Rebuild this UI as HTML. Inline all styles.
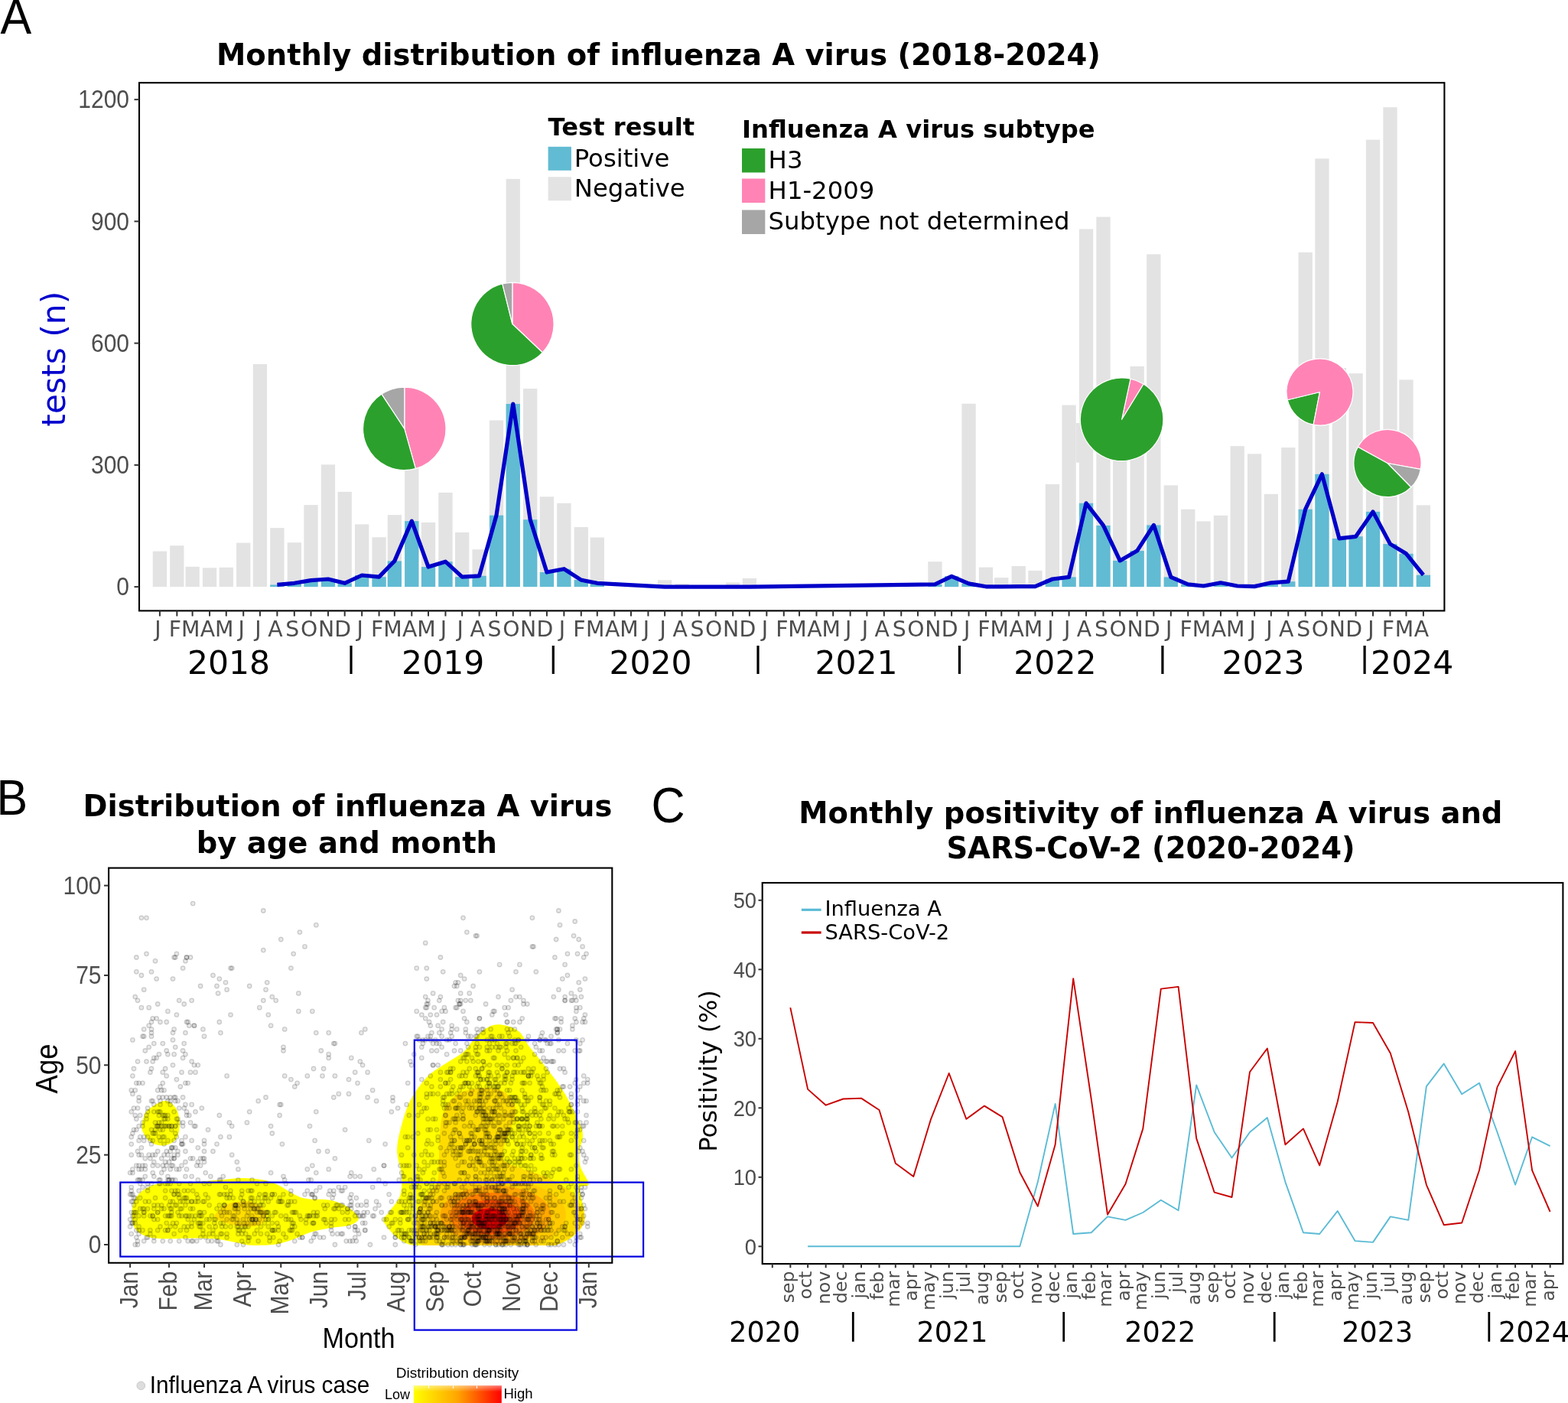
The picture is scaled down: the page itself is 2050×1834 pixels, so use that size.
<!DOCTYPE html>
<html><head><meta charset="utf-8"><title>Influenza A figure</title>
<style>html,body{margin:0;padding:0;background:#fff}svg{display:block}</style></head>
<body><svg width="2050" height="1834" viewBox="0 0 2050 1834">
<rect x="0" y="0" width="2050" height="1834" fill="#fff"/>
<rect x="199.75" y="720.60" width="18.3" height="46.50" fill="#E3E3E3"/>
<rect x="222.19" y="713.22" width="18.3" height="53.88" fill="#E3E3E3"/>
<rect x="242.46" y="740.83" width="18.3" height="26.27" fill="#E3E3E3"/>
<rect x="264.90" y="742.31" width="18.3" height="24.79" fill="#E3E3E3"/>
<rect x="286.62" y="741.78" width="18.3" height="25.32" fill="#E3E3E3"/>
<rect x="309.06" y="709.61" width="18.3" height="57.49" fill="#E3E3E3"/>
<rect x="330.78" y="476.01" width="18.3" height="291.09" fill="#E3E3E3"/>
<rect x="353.22" y="690.13" width="18.3" height="76.97" fill="#E3E3E3"/>
<rect x="353.22" y="764.45" width="18.3" height="2.65" fill="#61BBD3"/>
<rect x="375.66" y="709.24" width="18.3" height="57.86" fill="#E3E3E3"/>
<rect x="375.66" y="762.32" width="18.3" height="4.78" fill="#61BBD3"/>
<rect x="397.38" y="660.09" width="18.3" height="107.01" fill="#E3E3E3"/>
<rect x="397.38" y="758.61" width="18.3" height="8.49" fill="#61BBD3"/>
<rect x="419.82" y="607.33" width="18.3" height="159.77" fill="#E3E3E3"/>
<rect x="419.82" y="757.01" width="18.3" height="10.09" fill="#61BBD3"/>
<rect x="441.54" y="642.89" width="18.3" height="124.21" fill="#E3E3E3"/>
<rect x="441.54" y="762.32" width="18.3" height="4.78" fill="#61BBD3"/>
<rect x="463.98" y="685.36" width="18.3" height="81.74" fill="#E3E3E3"/>
<rect x="463.98" y="751.97" width="18.3" height="15.13" fill="#61BBD3"/>
<rect x="486.43" y="702.34" width="18.3" height="64.76" fill="#E3E3E3"/>
<rect x="486.43" y="754.10" width="18.3" height="13.00" fill="#61BBD3"/>
<rect x="506.70" y="673.15" width="18.3" height="93.95" fill="#E3E3E3"/>
<rect x="506.70" y="733.39" width="18.3" height="33.71" fill="#61BBD3"/>
<rect x="529.14" y="517.62" width="18.3" height="249.48" fill="#E3E3E3"/>
<rect x="529.14" y="681.11" width="18.3" height="85.99" fill="#61BBD3"/>
<rect x="550.86" y="682.97" width="18.3" height="84.13" fill="#E3E3E3"/>
<rect x="550.86" y="741.09" width="18.3" height="26.01" fill="#61BBD3"/>
<rect x="573.30" y="643.95" width="18.3" height="123.15" fill="#E3E3E3"/>
<rect x="573.30" y="734.19" width="18.3" height="32.91" fill="#61BBD3"/>
<rect x="595.02" y="695.97" width="18.3" height="71.13" fill="#E3E3E3"/>
<rect x="595.02" y="754.10" width="18.3" height="13.00" fill="#61BBD3"/>
<rect x="617.46" y="718.27" width="18.3" height="48.83" fill="#E3E3E3"/>
<rect x="617.46" y="752.77" width="18.3" height="14.33" fill="#61BBD3"/>
<rect x="639.90" y="549.47" width="18.3" height="217.63" fill="#E3E3E3"/>
<rect x="639.90" y="673.68" width="18.3" height="93.42" fill="#61BBD3"/>
<rect x="661.62" y="233.91" width="18.3" height="533.19" fill="#E3E3E3"/>
<rect x="661.62" y="527.97" width="18.3" height="239.13" fill="#61BBD3"/>
<rect x="684.06" y="508.07" width="18.3" height="259.03" fill="#E3E3E3"/>
<rect x="684.06" y="679.25" width="18.3" height="87.85" fill="#61BBD3"/>
<rect x="705.78" y="649.26" width="18.3" height="117.84" fill="#E3E3E3"/>
<rect x="705.78" y="747.99" width="18.3" height="19.11" fill="#61BBD3"/>
<rect x="728.22" y="657.76" width="18.3" height="109.34" fill="#E3E3E3"/>
<rect x="728.22" y="743.74" width="18.3" height="23.36" fill="#61BBD3"/>
<rect x="750.66" y="689.07" width="18.3" height="78.03" fill="#E3E3E3"/>
<rect x="750.66" y="758.08" width="18.3" height="9.02" fill="#61BBD3"/>
<rect x="771.65" y="702.55" width="18.3" height="64.55" fill="#E3E3E3"/>
<rect x="771.65" y="762.32" width="18.3" height="4.78" fill="#61BBD3"/>
<rect x="859.97" y="758.29" width="18.3" height="8.81" fill="#E3E3E3"/>
<rect x="882.42" y="763.12" width="18.3" height="3.98" fill="#E3E3E3"/>
<rect x="949.02" y="761.53" width="18.3" height="5.57" fill="#E3E3E3"/>
<rect x="970.74" y="755.95" width="18.3" height="11.15" fill="#E3E3E3"/>
<rect x="1213.25" y="734.19" width="18.3" height="32.91" fill="#E3E3E3"/>
<rect x="1213.25" y="763.92" width="18.3" height="3.18" fill="#61BBD3"/>
<rect x="1234.97" y="752.77" width="18.3" height="14.33" fill="#E3E3E3"/>
<rect x="1234.97" y="753.30" width="18.3" height="13.80" fill="#61BBD3"/>
<rect x="1257.41" y="527.71" width="18.3" height="239.39" fill="#E3E3E3"/>
<rect x="1257.41" y="762.85" width="18.3" height="4.25" fill="#61BBD3"/>
<rect x="1279.85" y="741.62" width="18.3" height="25.48" fill="#E3E3E3"/>
<rect x="1279.85" y="766.83" width="18.3" height="0.27" fill="#61BBD3"/>
<rect x="1300.12" y="755.10" width="18.3" height="12.00" fill="#E3E3E3"/>
<rect x="1300.12" y="766.83" width="18.3" height="0.27" fill="#61BBD3"/>
<rect x="1322.57" y="740.03" width="18.3" height="27.07" fill="#E3E3E3"/>
<rect x="1322.57" y="766.57" width="18.3" height="0.53" fill="#61BBD3"/>
<rect x="1344.28" y="745.87" width="18.3" height="21.23" fill="#E3E3E3"/>
<rect x="1344.28" y="766.57" width="18.3" height="0.53" fill="#61BBD3"/>
<rect x="1366.73" y="632.97" width="18.3" height="134.13" fill="#E3E3E3"/>
<rect x="1366.73" y="757.01" width="18.3" height="10.09" fill="#61BBD3"/>
<rect x="1388.44" y="529.51" width="18.3" height="237.59" fill="#E3E3E3"/>
<rect x="1388.44" y="754.36" width="18.3" height="12.74" fill="#61BBD3"/>
<rect x="1410.88" y="299.47" width="18.3" height="467.63" fill="#E3E3E3"/>
<rect x="1410.88" y="657.76" width="18.3" height="109.34" fill="#61BBD3"/>
<rect x="1433.33" y="283.54" width="18.3" height="483.56" fill="#E3E3E3"/>
<rect x="1433.33" y="686.95" width="18.3" height="80.15" fill="#61BBD3"/>
<rect x="1455.04" y="544.16" width="18.3" height="222.94" fill="#E3E3E3"/>
<rect x="1455.04" y="732.92" width="18.3" height="34.18" fill="#61BBD3"/>
<rect x="1477.49" y="478.88" width="18.3" height="288.22" fill="#E3E3E3"/>
<rect x="1477.49" y="720.07" width="18.3" height="47.03" fill="#61BBD3"/>
<rect x="1499.20" y="332.37" width="18.3" height="434.73" fill="#E3E3E3"/>
<rect x="1499.20" y="686.42" width="18.3" height="80.68" fill="#61BBD3"/>
<rect x="1521.65" y="634.40" width="18.3" height="132.70" fill="#E3E3E3"/>
<rect x="1521.65" y="754.36" width="18.3" height="12.74" fill="#61BBD3"/>
<rect x="1544.09" y="665.72" width="18.3" height="101.38" fill="#E3E3E3"/>
<rect x="1544.09" y="763.92" width="18.3" height="3.18" fill="#61BBD3"/>
<rect x="1564.36" y="681.43" width="18.3" height="85.67" fill="#E3E3E3"/>
<rect x="1564.36" y="766.04" width="18.3" height="1.06" fill="#61BBD3"/>
<rect x="1586.80" y="673.84" width="18.3" height="93.26" fill="#E3E3E3"/>
<rect x="1586.80" y="761.79" width="18.3" height="5.31" fill="#61BBD3"/>
<rect x="1608.52" y="583.12" width="18.3" height="183.98" fill="#E3E3E3"/>
<rect x="1608.52" y="766.04" width="18.3" height="1.06" fill="#61BBD3"/>
<rect x="1630.96" y="593.32" width="18.3" height="173.78" fill="#E3E3E3"/>
<rect x="1630.96" y="766.57" width="18.3" height="0.53" fill="#61BBD3"/>
<rect x="1652.68" y="645.81" width="18.3" height="121.29" fill="#E3E3E3"/>
<rect x="1652.68" y="761.79" width="18.3" height="5.31" fill="#61BBD3"/>
<rect x="1675.12" y="585.04" width="18.3" height="182.06" fill="#E3E3E3"/>
<rect x="1675.12" y="760.20" width="18.3" height="6.90" fill="#61BBD3"/>
<rect x="1697.56" y="329.88" width="18.3" height="437.22" fill="#E3E3E3"/>
<rect x="1697.56" y="665.72" width="18.3" height="101.38" fill="#61BBD3"/>
<rect x="1719.28" y="207.32" width="18.3" height="559.78" fill="#E3E3E3"/>
<rect x="1719.28" y="619.80" width="18.3" height="147.30" fill="#61BBD3"/>
<rect x="1741.72" y="481.00" width="18.3" height="286.10" fill="#E3E3E3"/>
<rect x="1741.72" y="703.93" width="18.3" height="63.17" fill="#61BBD3"/>
<rect x="1763.44" y="488.11" width="18.3" height="278.99" fill="#E3E3E3"/>
<rect x="1763.44" y="701.28" width="18.3" height="65.82" fill="#61BBD3"/>
<rect x="1785.88" y="182.69" width="18.3" height="584.41" fill="#E3E3E3"/>
<rect x="1785.88" y="668.90" width="18.3" height="98.20" fill="#61BBD3"/>
<rect x="1808.32" y="140.23" width="18.3" height="626.87" fill="#E3E3E3"/>
<rect x="1808.32" y="711.10" width="18.3" height="56.00" fill="#61BBD3"/>
<rect x="1829.32" y="496.39" width="18.3" height="270.71" fill="#E3E3E3"/>
<rect x="1829.32" y="723.84" width="18.3" height="43.26" fill="#61BBD3"/>
<rect x="1851.76" y="660.41" width="18.3" height="106.69" fill="#E3E3E3"/>
<rect x="1851.76" y="751.71" width="18.3" height="15.39" fill="#61BBD3"/>
<rect x="1406.9" y="553" width="4.3" height="51.6" fill="#E3E3E3"/>
<polyline fill="none" stroke="#0000C8" stroke-width="5.2" stroke-linejoin="round" stroke-linecap="butt" points="362.4,764.4 384.8,762.3 406.5,758.6 429.0,757.0 450.7,762.3 473.1,752.0 495.6,754.1 515.8,733.4 538.3,681.1 560.0,741.1 582.4,734.2 604.2,754.1 626.6,752.8 649.0,673.7 670.8,528.0 693.2,679.3 714.9,748.0 737.4,743.7 759.8,758.1 780.8,762.3 869.1,767.1 891.6,767.1 958.2,767.1 979.9,767.1 1222.4,763.9 1244.1,753.3 1266.6,762.9 1289.0,766.8 1309.3,766.8 1331.7,766.6 1353.4,766.6 1375.9,757.0 1397.6,754.4 1420.0,657.8 1442.5,686.9 1464.2,732.9 1486.6,720.1 1508.4,686.4 1530.8,754.4 1553.2,763.9 1573.5,766.0 1595.9,761.8 1617.7,766.0 1640.1,766.6 1661.8,761.8 1684.3,760.2 1706.7,665.7 1728.4,619.8 1750.9,703.9 1772.6,701.3 1795.0,668.9 1817.5,711.1 1838.5,723.8 1860.9,751.7"/>
<path d="M528.80,560.40L528.80,506.20A54.2,54.2 0 0 1 543.38,612.60Z" fill="#FF84B5" stroke="#fff" stroke-width="1.2" stroke-linejoin="round"/><path d="M528.80,560.40L543.38,612.60A54.2,54.2 0 0 1 499.04,515.10Z" fill="#2CA02C" stroke="#fff" stroke-width="1.2" stroke-linejoin="round"/><path d="M528.80,560.40L499.04,515.10A54.2,54.2 0 0 1 528.80,506.20Z" fill="#A6A6A6" stroke="#fff" stroke-width="1.2" stroke-linejoin="round"/>
<path d="M669.90,423.50L669.90,369.30A54.2,54.2 0 0 1 709.22,460.81Z" fill="#FF84B5" stroke="#fff" stroke-width="1.2" stroke-linejoin="round"/><path d="M669.90,423.50L709.22,460.81A54.2,54.2 0 1 1 656.79,370.91Z" fill="#2CA02C" stroke="#fff" stroke-width="1.2" stroke-linejoin="round"/><path d="M669.90,423.50L656.79,370.91A54.2,54.2 0 0 1 669.90,369.30Z" fill="#A6A6A6" stroke="#fff" stroke-width="1.2" stroke-linejoin="round"/>
<path d="M1466.60,548.30L1478.07,495.23A54.3,54.3 0 0 1 1495.05,502.05Z" fill="#FF84B5" stroke="#fff" stroke-width="1.2" stroke-linejoin="round"/><path d="M1466.60,548.30L1495.05,502.05A54.3,54.3 0 1 1 1478.07,495.23Z" fill="#2CA02C" stroke="#fff" stroke-width="1.2" stroke-linejoin="round"/>
<path d="M1725.50,512.50L1717.20,555.20A43.5,43.5 0 0 1 1683.22,522.73Z" fill="#2CA02C" stroke="#fff" stroke-width="1.2" stroke-linejoin="round"/><path d="M1725.50,512.50L1683.22,522.73A43.5,43.5 0 1 1 1717.20,555.20Z" fill="#FF84B5" stroke="#fff" stroke-width="1.2" stroke-linejoin="round"/>
<path d="M1814.00,605.50L1775.35,584.25A44.1,44.1 0 0 1 1857.40,613.31Z" fill="#FF84B5" stroke="#fff" stroke-width="1.2" stroke-linejoin="round"/><path d="M1814.00,605.50L1857.40,613.31A44.1,44.1 0 0 1 1844.86,637.01Z" fill="#A6A6A6" stroke="#fff" stroke-width="1.2" stroke-linejoin="round"/><path d="M1814.00,605.50L1844.86,637.01A44.1,44.1 0 0 1 1775.35,584.25Z" fill="#2CA02C" stroke="#fff" stroke-width="1.2" stroke-linejoin="round"/>
<rect x="182.0" y="108.2" width="1706.4" height="690.2" fill="none" stroke="#000" stroke-width="2.1"/>
<line x1="175.5" x2="182.0" y1="767.10" y2="767.10" stroke="#333" stroke-width="2"/>
<text transform="translate(169,778.40) scale(1,1.1)" font-family="'Liberation Sans', Arial, sans-serif" font-size="30" fill="#4D4D4D" text-anchor="end">0</text>
<line x1="175.5" x2="182.0" y1="607.86" y2="607.86" stroke="#333" stroke-width="2"/>
<text transform="translate(169,619.16) scale(1,1.1)" font-family="'Liberation Sans', Arial, sans-serif" font-size="30" fill="#4D4D4D" text-anchor="end">300</text>
<line x1="175.5" x2="182.0" y1="448.62" y2="448.62" stroke="#333" stroke-width="2"/>
<text transform="translate(169,459.92) scale(1,1.1)" font-family="'Liberation Sans', Arial, sans-serif" font-size="30" fill="#4D4D4D" text-anchor="end">600</text>
<line x1="175.5" x2="182.0" y1="289.38" y2="289.38" stroke="#333" stroke-width="2"/>
<text transform="translate(169,300.68) scale(1,1.1)" font-family="'Liberation Sans', Arial, sans-serif" font-size="30" fill="#4D4D4D" text-anchor="end">900</text>
<line x1="175.5" x2="182.0" y1="130.14" y2="130.14" stroke="#333" stroke-width="2"/>
<text transform="translate(169,141.44) scale(1,1.1)" font-family="'Liberation Sans', Arial, sans-serif" font-size="30" fill="#4D4D4D" text-anchor="end">1200</text>
<text transform="translate(85,469.2) rotate(-90)" font-family="'DejaVu Sans', sans-serif" font-size="42.4" fill="#0000CD" text-anchor="middle">tests (n)</text>
<line x1="208.90" x2="208.90" y1="798.4" y2="805.5" stroke="#333" stroke-width="2"/>
<text x="206.40" y="831.8" font-family="'DejaVu Sans', sans-serif" font-size="28.3" fill="#4D4D4D" text-anchor="middle">J</text>
<line x1="231.34" x2="231.34" y1="798.4" y2="805.5" stroke="#333" stroke-width="2"/>
<text x="228.84" y="831.8" font-family="'DejaVu Sans', sans-serif" font-size="28.3" fill="#4D4D4D" text-anchor="middle">F</text>
<line x1="251.61" x2="251.61" y1="798.4" y2="805.5" stroke="#333" stroke-width="2"/>
<text x="249.11" y="831.8" font-family="'DejaVu Sans', sans-serif" font-size="28.3" fill="#4D4D4D" text-anchor="middle">M</text>
<line x1="274.05" x2="274.05" y1="798.4" y2="805.5" stroke="#333" stroke-width="2"/>
<text x="271.55" y="831.8" font-family="'DejaVu Sans', sans-serif" font-size="28.3" fill="#4D4D4D" text-anchor="middle">A</text>
<line x1="295.77" x2="295.77" y1="798.4" y2="805.5" stroke="#333" stroke-width="2"/>
<text x="293.27" y="831.8" font-family="'DejaVu Sans', sans-serif" font-size="28.3" fill="#4D4D4D" text-anchor="middle">M</text>
<line x1="318.21" x2="318.21" y1="798.4" y2="805.5" stroke="#333" stroke-width="2"/>
<text x="315.71" y="831.8" font-family="'DejaVu Sans', sans-serif" font-size="28.3" fill="#4D4D4D" text-anchor="middle">J</text>
<line x1="339.93" x2="339.93" y1="798.4" y2="805.5" stroke="#333" stroke-width="2"/>
<text x="337.43" y="831.8" font-family="'DejaVu Sans', sans-serif" font-size="28.3" fill="#4D4D4D" text-anchor="middle">J</text>
<line x1="362.37" x2="362.37" y1="798.4" y2="805.5" stroke="#333" stroke-width="2"/>
<text x="359.87" y="831.8" font-family="'DejaVu Sans', sans-serif" font-size="28.3" fill="#4D4D4D" text-anchor="middle">A</text>
<line x1="384.81" x2="384.81" y1="798.4" y2="805.5" stroke="#333" stroke-width="2"/>
<text x="382.31" y="831.8" font-family="'DejaVu Sans', sans-serif" font-size="28.3" fill="#4D4D4D" text-anchor="middle">S</text>
<line x1="406.53" x2="406.53" y1="798.4" y2="805.5" stroke="#333" stroke-width="2"/>
<text x="404.03" y="831.8" font-family="'DejaVu Sans', sans-serif" font-size="28.3" fill="#4D4D4D" text-anchor="middle">O</text>
<line x1="428.97" x2="428.97" y1="798.4" y2="805.5" stroke="#333" stroke-width="2"/>
<text x="426.47" y="831.8" font-family="'DejaVu Sans', sans-serif" font-size="28.3" fill="#4D4D4D" text-anchor="middle">N</text>
<line x1="450.69" x2="450.69" y1="798.4" y2="805.5" stroke="#333" stroke-width="2"/>
<text x="448.19" y="831.8" font-family="'DejaVu Sans', sans-serif" font-size="28.3" fill="#4D4D4D" text-anchor="middle">D</text>
<line x1="473.13" x2="473.13" y1="798.4" y2="805.5" stroke="#333" stroke-width="2"/>
<text x="470.63" y="831.8" font-family="'DejaVu Sans', sans-serif" font-size="28.3" fill="#4D4D4D" text-anchor="middle">J</text>
<line x1="495.58" x2="495.58" y1="798.4" y2="805.5" stroke="#333" stroke-width="2"/>
<text x="493.08" y="831.8" font-family="'DejaVu Sans', sans-serif" font-size="28.3" fill="#4D4D4D" text-anchor="middle">F</text>
<line x1="515.85" x2="515.85" y1="798.4" y2="805.5" stroke="#333" stroke-width="2"/>
<text x="513.35" y="831.8" font-family="'DejaVu Sans', sans-serif" font-size="28.3" fill="#4D4D4D" text-anchor="middle">M</text>
<line x1="538.29" x2="538.29" y1="798.4" y2="805.5" stroke="#333" stroke-width="2"/>
<text x="535.79" y="831.8" font-family="'DejaVu Sans', sans-serif" font-size="28.3" fill="#4D4D4D" text-anchor="middle">A</text>
<line x1="560.01" x2="560.01" y1="798.4" y2="805.5" stroke="#333" stroke-width="2"/>
<text x="557.51" y="831.8" font-family="'DejaVu Sans', sans-serif" font-size="28.3" fill="#4D4D4D" text-anchor="middle">M</text>
<line x1="582.45" x2="582.45" y1="798.4" y2="805.5" stroke="#333" stroke-width="2"/>
<text x="579.95" y="831.8" font-family="'DejaVu Sans', sans-serif" font-size="28.3" fill="#4D4D4D" text-anchor="middle">J</text>
<line x1="604.17" x2="604.17" y1="798.4" y2="805.5" stroke="#333" stroke-width="2"/>
<text x="601.67" y="831.8" font-family="'DejaVu Sans', sans-serif" font-size="28.3" fill="#4D4D4D" text-anchor="middle">J</text>
<line x1="626.61" x2="626.61" y1="798.4" y2="805.5" stroke="#333" stroke-width="2"/>
<text x="624.11" y="831.8" font-family="'DejaVu Sans', sans-serif" font-size="28.3" fill="#4D4D4D" text-anchor="middle">A</text>
<line x1="649.05" x2="649.05" y1="798.4" y2="805.5" stroke="#333" stroke-width="2"/>
<text x="646.55" y="831.8" font-family="'DejaVu Sans', sans-serif" font-size="28.3" fill="#4D4D4D" text-anchor="middle">S</text>
<line x1="670.77" x2="670.77" y1="798.4" y2="805.5" stroke="#333" stroke-width="2"/>
<text x="668.27" y="831.8" font-family="'DejaVu Sans', sans-serif" font-size="28.3" fill="#4D4D4D" text-anchor="middle">O</text>
<line x1="693.21" x2="693.21" y1="798.4" y2="805.5" stroke="#333" stroke-width="2"/>
<text x="690.71" y="831.8" font-family="'DejaVu Sans', sans-serif" font-size="28.3" fill="#4D4D4D" text-anchor="middle">N</text>
<line x1="714.93" x2="714.93" y1="798.4" y2="805.5" stroke="#333" stroke-width="2"/>
<text x="712.43" y="831.8" font-family="'DejaVu Sans', sans-serif" font-size="28.3" fill="#4D4D4D" text-anchor="middle">D</text>
<line x1="737.37" x2="737.37" y1="798.4" y2="805.5" stroke="#333" stroke-width="2"/>
<text x="734.87" y="831.8" font-family="'DejaVu Sans', sans-serif" font-size="28.3" fill="#4D4D4D" text-anchor="middle">J</text>
<line x1="759.81" x2="759.81" y1="798.4" y2="805.5" stroke="#333" stroke-width="2"/>
<text x="757.31" y="831.8" font-family="'DejaVu Sans', sans-serif" font-size="28.3" fill="#4D4D4D" text-anchor="middle">F</text>
<line x1="780.80" x2="780.80" y1="798.4" y2="805.5" stroke="#333" stroke-width="2"/>
<text x="778.30" y="831.8" font-family="'DejaVu Sans', sans-serif" font-size="28.3" fill="#4D4D4D" text-anchor="middle">M</text>
<line x1="803.25" x2="803.25" y1="798.4" y2="805.5" stroke="#333" stroke-width="2"/>
<text x="800.75" y="831.8" font-family="'DejaVu Sans', sans-serif" font-size="28.3" fill="#4D4D4D" text-anchor="middle">A</text>
<line x1="824.96" x2="824.96" y1="798.4" y2="805.5" stroke="#333" stroke-width="2"/>
<text x="822.46" y="831.8" font-family="'DejaVu Sans', sans-serif" font-size="28.3" fill="#4D4D4D" text-anchor="middle">M</text>
<line x1="847.41" x2="847.41" y1="798.4" y2="805.5" stroke="#333" stroke-width="2"/>
<text x="844.91" y="831.8" font-family="'DejaVu Sans', sans-serif" font-size="28.3" fill="#4D4D4D" text-anchor="middle">J</text>
<line x1="869.12" x2="869.12" y1="798.4" y2="805.5" stroke="#333" stroke-width="2"/>
<text x="866.62" y="831.8" font-family="'DejaVu Sans', sans-serif" font-size="28.3" fill="#4D4D4D" text-anchor="middle">J</text>
<line x1="891.57" x2="891.57" y1="798.4" y2="805.5" stroke="#333" stroke-width="2"/>
<text x="889.07" y="831.8" font-family="'DejaVu Sans', sans-serif" font-size="28.3" fill="#4D4D4D" text-anchor="middle">A</text>
<line x1="914.01" x2="914.01" y1="798.4" y2="805.5" stroke="#333" stroke-width="2"/>
<text x="911.51" y="831.8" font-family="'DejaVu Sans', sans-serif" font-size="28.3" fill="#4D4D4D" text-anchor="middle">S</text>
<line x1="935.73" x2="935.73" y1="798.4" y2="805.5" stroke="#333" stroke-width="2"/>
<text x="933.23" y="831.8" font-family="'DejaVu Sans', sans-serif" font-size="28.3" fill="#4D4D4D" text-anchor="middle">O</text>
<line x1="958.17" x2="958.17" y1="798.4" y2="805.5" stroke="#333" stroke-width="2"/>
<text x="955.67" y="831.8" font-family="'DejaVu Sans', sans-serif" font-size="28.3" fill="#4D4D4D" text-anchor="middle">N</text>
<line x1="979.89" x2="979.89" y1="798.4" y2="805.5" stroke="#333" stroke-width="2"/>
<text x="977.39" y="831.8" font-family="'DejaVu Sans', sans-serif" font-size="28.3" fill="#4D4D4D" text-anchor="middle">D</text>
<line x1="1002.33" x2="1002.33" y1="798.4" y2="805.5" stroke="#333" stroke-width="2"/>
<text x="999.83" y="831.8" font-family="'DejaVu Sans', sans-serif" font-size="28.3" fill="#4D4D4D" text-anchor="middle">J</text>
<line x1="1024.77" x2="1024.77" y1="798.4" y2="805.5" stroke="#333" stroke-width="2"/>
<text x="1022.27" y="831.8" font-family="'DejaVu Sans', sans-serif" font-size="28.3" fill="#4D4D4D" text-anchor="middle">F</text>
<line x1="1045.04" x2="1045.04" y1="798.4" y2="805.5" stroke="#333" stroke-width="2"/>
<text x="1042.54" y="831.8" font-family="'DejaVu Sans', sans-serif" font-size="28.3" fill="#4D4D4D" text-anchor="middle">M</text>
<line x1="1067.48" x2="1067.48" y1="798.4" y2="805.5" stroke="#333" stroke-width="2"/>
<text x="1064.98" y="831.8" font-family="'DejaVu Sans', sans-serif" font-size="28.3" fill="#4D4D4D" text-anchor="middle">A</text>
<line x1="1089.20" x2="1089.20" y1="798.4" y2="805.5" stroke="#333" stroke-width="2"/>
<text x="1086.70" y="831.8" font-family="'DejaVu Sans', sans-serif" font-size="28.3" fill="#4D4D4D" text-anchor="middle">M</text>
<line x1="1111.64" x2="1111.64" y1="798.4" y2="805.5" stroke="#333" stroke-width="2"/>
<text x="1109.14" y="831.8" font-family="'DejaVu Sans', sans-serif" font-size="28.3" fill="#4D4D4D" text-anchor="middle">J</text>
<line x1="1133.36" x2="1133.36" y1="798.4" y2="805.5" stroke="#333" stroke-width="2"/>
<text x="1130.86" y="831.8" font-family="'DejaVu Sans', sans-serif" font-size="28.3" fill="#4D4D4D" text-anchor="middle">J</text>
<line x1="1155.80" x2="1155.80" y1="798.4" y2="805.5" stroke="#333" stroke-width="2"/>
<text x="1153.30" y="831.8" font-family="'DejaVu Sans', sans-serif" font-size="28.3" fill="#4D4D4D" text-anchor="middle">A</text>
<line x1="1178.24" x2="1178.24" y1="798.4" y2="805.5" stroke="#333" stroke-width="2"/>
<text x="1175.74" y="831.8" font-family="'DejaVu Sans', sans-serif" font-size="28.3" fill="#4D4D4D" text-anchor="middle">S</text>
<line x1="1199.96" x2="1199.96" y1="798.4" y2="805.5" stroke="#333" stroke-width="2"/>
<text x="1197.46" y="831.8" font-family="'DejaVu Sans', sans-serif" font-size="28.3" fill="#4D4D4D" text-anchor="middle">O</text>
<line x1="1222.40" x2="1222.40" y1="798.4" y2="805.5" stroke="#333" stroke-width="2"/>
<text x="1219.90" y="831.8" font-family="'DejaVu Sans', sans-serif" font-size="28.3" fill="#4D4D4D" text-anchor="middle">N</text>
<line x1="1244.12" x2="1244.12" y1="798.4" y2="805.5" stroke="#333" stroke-width="2"/>
<text x="1241.62" y="831.8" font-family="'DejaVu Sans', sans-serif" font-size="28.3" fill="#4D4D4D" text-anchor="middle">D</text>
<line x1="1266.56" x2="1266.56" y1="798.4" y2="805.5" stroke="#333" stroke-width="2"/>
<text x="1264.06" y="831.8" font-family="'DejaVu Sans', sans-serif" font-size="28.3" fill="#4D4D4D" text-anchor="middle">J</text>
<line x1="1289.00" x2="1289.00" y1="798.4" y2="805.5" stroke="#333" stroke-width="2"/>
<text x="1286.50" y="831.8" font-family="'DejaVu Sans', sans-serif" font-size="28.3" fill="#4D4D4D" text-anchor="middle">F</text>
<line x1="1309.27" x2="1309.27" y1="798.4" y2="805.5" stroke="#333" stroke-width="2"/>
<text x="1306.77" y="831.8" font-family="'DejaVu Sans', sans-serif" font-size="28.3" fill="#4D4D4D" text-anchor="middle">M</text>
<line x1="1331.72" x2="1331.72" y1="798.4" y2="805.5" stroke="#333" stroke-width="2"/>
<text x="1329.22" y="831.8" font-family="'DejaVu Sans', sans-serif" font-size="28.3" fill="#4D4D4D" text-anchor="middle">A</text>
<line x1="1353.43" x2="1353.43" y1="798.4" y2="805.5" stroke="#333" stroke-width="2"/>
<text x="1350.93" y="831.8" font-family="'DejaVu Sans', sans-serif" font-size="28.3" fill="#4D4D4D" text-anchor="middle">M</text>
<line x1="1375.88" x2="1375.88" y1="798.4" y2="805.5" stroke="#333" stroke-width="2"/>
<text x="1373.38" y="831.8" font-family="'DejaVu Sans', sans-serif" font-size="28.3" fill="#4D4D4D" text-anchor="middle">J</text>
<line x1="1397.59" x2="1397.59" y1="798.4" y2="805.5" stroke="#333" stroke-width="2"/>
<text x="1395.09" y="831.8" font-family="'DejaVu Sans', sans-serif" font-size="28.3" fill="#4D4D4D" text-anchor="middle">J</text>
<line x1="1420.03" x2="1420.03" y1="798.4" y2="805.5" stroke="#333" stroke-width="2"/>
<text x="1417.53" y="831.8" font-family="'DejaVu Sans', sans-serif" font-size="28.3" fill="#4D4D4D" text-anchor="middle">A</text>
<line x1="1442.48" x2="1442.48" y1="798.4" y2="805.5" stroke="#333" stroke-width="2"/>
<text x="1439.98" y="831.8" font-family="'DejaVu Sans', sans-serif" font-size="28.3" fill="#4D4D4D" text-anchor="middle">S</text>
<line x1="1464.19" x2="1464.19" y1="798.4" y2="805.5" stroke="#333" stroke-width="2"/>
<text x="1461.69" y="831.8" font-family="'DejaVu Sans', sans-serif" font-size="28.3" fill="#4D4D4D" text-anchor="middle">O</text>
<line x1="1486.64" x2="1486.64" y1="798.4" y2="805.5" stroke="#333" stroke-width="2"/>
<text x="1484.14" y="831.8" font-family="'DejaVu Sans', sans-serif" font-size="28.3" fill="#4D4D4D" text-anchor="middle">N</text>
<line x1="1508.35" x2="1508.35" y1="798.4" y2="805.5" stroke="#333" stroke-width="2"/>
<text x="1505.85" y="831.8" font-family="'DejaVu Sans', sans-serif" font-size="28.3" fill="#4D4D4D" text-anchor="middle">D</text>
<line x1="1530.80" x2="1530.80" y1="798.4" y2="805.5" stroke="#333" stroke-width="2"/>
<text x="1528.30" y="831.8" font-family="'DejaVu Sans', sans-serif" font-size="28.3" fill="#4D4D4D" text-anchor="middle">J</text>
<line x1="1553.24" x2="1553.24" y1="798.4" y2="805.5" stroke="#333" stroke-width="2"/>
<text x="1550.74" y="831.8" font-family="'DejaVu Sans', sans-serif" font-size="28.3" fill="#4D4D4D" text-anchor="middle">F</text>
<line x1="1573.51" x2="1573.51" y1="798.4" y2="805.5" stroke="#333" stroke-width="2"/>
<text x="1571.01" y="831.8" font-family="'DejaVu Sans', sans-serif" font-size="28.3" fill="#4D4D4D" text-anchor="middle">M</text>
<line x1="1595.95" x2="1595.95" y1="798.4" y2="805.5" stroke="#333" stroke-width="2"/>
<text x="1593.45" y="831.8" font-family="'DejaVu Sans', sans-serif" font-size="28.3" fill="#4D4D4D" text-anchor="middle">A</text>
<line x1="1617.67" x2="1617.67" y1="798.4" y2="805.5" stroke="#333" stroke-width="2"/>
<text x="1615.17" y="831.8" font-family="'DejaVu Sans', sans-serif" font-size="28.3" fill="#4D4D4D" text-anchor="middle">M</text>
<line x1="1640.11" x2="1640.11" y1="798.4" y2="805.5" stroke="#333" stroke-width="2"/>
<text x="1637.61" y="831.8" font-family="'DejaVu Sans', sans-serif" font-size="28.3" fill="#4D4D4D" text-anchor="middle">J</text>
<line x1="1661.83" x2="1661.83" y1="798.4" y2="805.5" stroke="#333" stroke-width="2"/>
<text x="1659.33" y="831.8" font-family="'DejaVu Sans', sans-serif" font-size="28.3" fill="#4D4D4D" text-anchor="middle">J</text>
<line x1="1684.27" x2="1684.27" y1="798.4" y2="805.5" stroke="#333" stroke-width="2"/>
<text x="1681.77" y="831.8" font-family="'DejaVu Sans', sans-serif" font-size="28.3" fill="#4D4D4D" text-anchor="middle">A</text>
<line x1="1706.71" x2="1706.71" y1="798.4" y2="805.5" stroke="#333" stroke-width="2"/>
<text x="1704.21" y="831.8" font-family="'DejaVu Sans', sans-serif" font-size="28.3" fill="#4D4D4D" text-anchor="middle">S</text>
<line x1="1728.43" x2="1728.43" y1="798.4" y2="805.5" stroke="#333" stroke-width="2"/>
<text x="1725.93" y="831.8" font-family="'DejaVu Sans', sans-serif" font-size="28.3" fill="#4D4D4D" text-anchor="middle">O</text>
<line x1="1750.87" x2="1750.87" y1="798.4" y2="805.5" stroke="#333" stroke-width="2"/>
<text x="1748.37" y="831.8" font-family="'DejaVu Sans', sans-serif" font-size="28.3" fill="#4D4D4D" text-anchor="middle">N</text>
<line x1="1772.59" x2="1772.59" y1="798.4" y2="805.5" stroke="#333" stroke-width="2"/>
<text x="1770.09" y="831.8" font-family="'DejaVu Sans', sans-serif" font-size="28.3" fill="#4D4D4D" text-anchor="middle">D</text>
<line x1="1795.03" x2="1795.03" y1="798.4" y2="805.5" stroke="#333" stroke-width="2"/>
<text x="1792.53" y="831.8" font-family="'DejaVu Sans', sans-serif" font-size="28.3" fill="#4D4D4D" text-anchor="middle">J</text>
<line x1="1817.47" x2="1817.47" y1="798.4" y2="805.5" stroke="#333" stroke-width="2"/>
<text x="1814.97" y="831.8" font-family="'DejaVu Sans', sans-serif" font-size="28.3" fill="#4D4D4D" text-anchor="middle">F</text>
<line x1="1838.47" x2="1838.47" y1="798.4" y2="805.5" stroke="#333" stroke-width="2"/>
<text x="1835.97" y="831.8" font-family="'DejaVu Sans', sans-serif" font-size="28.3" fill="#4D4D4D" text-anchor="middle">M</text>
<line x1="1860.91" x2="1860.91" y1="798.4" y2="805.5" stroke="#333" stroke-width="2"/>
<text x="1858.41" y="831.8" font-family="'DejaVu Sans', sans-serif" font-size="28.3" fill="#4D4D4D" text-anchor="middle">A</text>
<text x="299.0" y="881.2" font-family="'DejaVu Sans', sans-serif" font-size="42.5" fill="#000" text-anchor="middle">2018</text>
<text x="579.2" y="881.2" font-family="'DejaVu Sans', sans-serif" font-size="42.5" fill="#000" text-anchor="middle">2019</text>
<text x="850.6" y="881.2" font-family="'DejaVu Sans', sans-serif" font-size="42.5" fill="#000" text-anchor="middle">2020</text>
<text x="1119.5" y="881.2" font-family="'DejaVu Sans', sans-serif" font-size="42.5" fill="#000" text-anchor="middle">2021</text>
<text x="1379.4" y="881.2" font-family="'DejaVu Sans', sans-serif" font-size="42.5" fill="#000" text-anchor="middle">2022</text>
<text x="1651.5" y="881.2" font-family="'DejaVu Sans', sans-serif" font-size="42.5" fill="#000" text-anchor="middle">2023</text>
<text x="1846.2" y="881.2" font-family="'DejaVu Sans', sans-serif" font-size="42.5" fill="#000" text-anchor="middle">2024</text>
<line x1="459" x2="459" y1="844" y2="881" stroke="#000" stroke-width="3.2"/>
<line x1="723.3" x2="723.3" y1="844" y2="881" stroke="#000" stroke-width="3.2"/>
<line x1="991" x2="991" y1="844" y2="881" stroke="#000" stroke-width="3.2"/>
<line x1="1254.4" x2="1254.4" y1="844" y2="881" stroke="#000" stroke-width="3.2"/>
<line x1="1519.9" x2="1519.9" y1="844" y2="881" stroke="#000" stroke-width="3.2"/>
<line x1="1784.1" x2="1784.1" y1="844" y2="881" stroke="#000" stroke-width="3.2"/>
<text x="861" y="85.4" font-family="'DejaVu Sans', sans-serif" font-weight="bold" font-size="38.5" text-anchor="middle">Monthly distribution of influenza A virus (2018-2024)</text>
<text transform="translate(0.5,43.8) scale(1,1.05)" font-family="'Liberation Sans', Arial, sans-serif" font-size="61">A</text>
<text x="716.6" y="176.9" font-family="'DejaVu Sans', sans-serif" font-weight="bold" font-size="32.2">Test result</text>
<rect x="716.6" y="191.8" width="30.3" height="31" fill="#61BBD3"/>
<rect x="716.6" y="231.3" width="30.3" height="31" fill="#E3E3E3"/>
<text x="750.8" y="218.2" font-family="'DejaVu Sans', sans-serif" font-size="32.3">Positive</text>
<text x="750.8" y="257.3" font-family="'DejaVu Sans', sans-serif" font-size="32.3">Negative</text>
<text x="970" y="179.5" font-family="'DejaVu Sans', sans-serif" font-weight="bold" font-size="32.2">Influenza A virus subtype</text>
<rect x="970" y="194" width="30.3" height="31.5" fill="#2CA02C"/>
<rect x="970" y="233.5" width="30.3" height="31.5" fill="#FF84B5"/>
<rect x="970" y="274.5" width="30.3" height="31.5" fill="#A6A6A6"/>
<text x="1004.6" y="220.4" font-family="'DejaVu Sans', sans-serif" font-size="32.3">H3</text>
<text x="1004.6" y="259.8" font-family="'DejaVu Sans', sans-serif" font-size="32.3">H1-2009</text>
<text x="1004.6" y="300.4" font-family="'DejaVu Sans', sans-serif" font-size="32.3">Subtype not determined</text>
<defs><clipPath id="cb"><rect x="142" y="1134" width="658" height="494"/></clipPath></defs>
<g clip-path="url(#cb)">
<path d="M214.7,1439.0C220.3,1438.3 224.7,1442.3 228.0,1446.0C231.3,1449.7 233.4,1455.4 234.3,1461.4C235.2,1467.4 234.8,1476.7 233.4,1482.0C232.0,1487.3 229.7,1490.4 226.0,1493.0C222.3,1495.6 216.0,1497.7 211.0,1497.5C206.0,1497.3 200.2,1495.5 196.0,1492.0C191.8,1488.5 187.1,1481.7 185.8,1476.4C184.5,1471.1 186.6,1464.4 188.0,1460.0C189.4,1455.6 189.8,1453.7 194.2,1450.2C198.6,1446.7 209.1,1439.7 214.7,1439.0Z" fill="#FFFF00"/>
<path d="M172.7,1592.2C172.4,1586.0 172.8,1576.0 175.5,1569.8C178.2,1563.6 182.7,1558.7 188.6,1554.8C194.5,1550.9 201.7,1548.0 211.0,1546.4C220.3,1544.9 232.5,1546.1 244.6,1545.5C256.7,1544.9 271.7,1543.6 283.8,1542.7C295.9,1541.8 307.2,1539.9 317.5,1539.9C327.8,1539.9 337.7,1541.2 345.5,1542.7C353.3,1544.2 358.0,1546.2 364.2,1549.2C370.4,1552.2 376.7,1557.4 382.9,1560.4C389.1,1563.4 393.4,1565.6 401.5,1567.0C409.6,1568.4 422.7,1567.1 431.4,1568.8C440.1,1570.5 447.6,1573.3 453.8,1577.2C460.0,1581.1 468.2,1588.2 468.8,1592.2C469.4,1596.2 463.8,1599.3 457.6,1601.5C451.4,1603.7 440.1,1603.7 431.4,1605.3C422.7,1606.9 413.4,1608.4 405.3,1610.9C397.2,1613.4 390.7,1617.6 382.9,1620.2C375.1,1622.8 368.0,1625.5 358.6,1626.8C349.2,1628.0 335.2,1628.2 326.8,1627.7C318.4,1627.2 315.9,1625.4 308.1,1624.0C300.3,1622.6 289.4,1620.2 280.1,1619.3C270.8,1618.4 263.0,1618.4 252.1,1618.4C241.2,1618.4 224.7,1619.6 214.7,1619.3C204.7,1619.0 198.5,1618.5 192.3,1616.5C186.1,1614.5 180.7,1611.1 177.4,1607.1C174.1,1603.0 173.0,1598.4 172.7,1592.2Z" fill="#FFFF00"/>
<path d="M281.0,1588.5C281.9,1584.5 291.2,1576.5 298.8,1573.5C306.4,1570.5 319.0,1569.5 326.8,1570.7C334.6,1572.0 342.1,1577.4 345.5,1581.0C348.9,1584.6 348.6,1588.8 347.4,1592.2C346.1,1595.6 343.0,1599.6 338.0,1601.5C333.0,1603.4 325.0,1604.0 317.5,1603.4C310.0,1602.8 299.3,1600.3 293.2,1597.8C287.1,1595.3 280.1,1592.5 281.0,1588.5Z" fill="#FFDD00"/>
<path d="M655.6,1339.6C662.1,1340.5 672.1,1343.5 678.0,1348.0C683.9,1352.5 685.1,1358.9 691.0,1366.7C696.9,1374.5 705.7,1384.4 713.5,1394.7C721.3,1405.0 730.6,1416.6 737.8,1428.4C745.0,1440.2 752.5,1456.4 756.5,1465.7C760.5,1475.0 761.9,1477.6 762.0,1484.4C762.1,1491.2 757.5,1500.0 757.0,1506.8C756.5,1513.6 756.9,1518.6 759.0,1525.5C761.1,1532.4 769.8,1543.3 769.6,1548.0C769.4,1552.7 758.9,1547.3 758.0,1553.5C757.1,1559.7 763.6,1576.9 764.0,1585.3C764.4,1593.7 763.3,1598.4 760.2,1604.0C757.1,1609.6 751.5,1615.0 745.3,1619.0C739.1,1623.0 732.1,1626.2 722.9,1628.2C713.7,1630.2 710.5,1630.5 690.0,1631.0C669.5,1631.5 626.0,1631.8 600.0,1631.0C574.0,1630.2 550.5,1631.9 534.2,1626.4C517.9,1621.0 506.8,1605.2 502.4,1598.3C498.0,1591.4 504.6,1591.2 508.0,1585.3C511.4,1579.4 520.2,1571.3 523.0,1562.9C525.8,1554.5 525.4,1544.2 524.8,1534.8C524.2,1525.4 519.5,1516.1 519.2,1506.8C518.9,1497.5 520.2,1490.0 523.0,1478.8C525.8,1467.6 530.1,1451.4 536.0,1439.6C541.9,1427.8 550.4,1416.2 558.5,1407.8C566.6,1399.4 576.5,1394.7 584.6,1389.1C592.7,1383.5 600.8,1379.8 607.0,1374.2C613.2,1368.6 616.7,1360.8 622.0,1355.5C627.3,1350.2 633.2,1345.1 638.8,1342.4C644.4,1339.8 649.1,1338.7 655.6,1339.6Z" fill="#FFFF00"/>
<path d="M573.4,1534.8C574.3,1523.3 574.0,1492.8 575.3,1478.8C576.5,1464.8 577.5,1458.6 580.9,1450.8C584.3,1443.0 590.2,1436.5 595.8,1432.1C601.4,1427.7 607.3,1426.2 614.5,1424.6C621.7,1423.0 631.6,1422.1 638.8,1422.4C646.0,1422.7 652.2,1423.6 657.5,1426.5C662.8,1429.4 667.7,1434.9 670.5,1439.6C673.3,1444.3 674.6,1448.9 674.3,1454.5C674.0,1460.1 670.9,1467.0 668.7,1473.2C666.5,1479.4 663.1,1486.3 661.2,1491.9C659.3,1497.5 657.8,1502.5 657.5,1506.8C657.2,1511.1 656.2,1514.9 659.3,1518.0C662.4,1521.1 668.7,1522.7 676.2,1525.5C683.7,1528.3 694.9,1531.1 704.2,1534.8C713.5,1538.5 724.4,1543.2 732.2,1547.9C740.0,1552.6 745.6,1556.2 750.9,1562.9C756.2,1569.7 762.7,1581.4 764.2,1588.4C765.7,1595.4 763.2,1600.1 760.0,1605.0C756.8,1609.9 751.7,1613.8 745.0,1618.0C738.3,1622.2 729.2,1627.7 720.0,1630.0C710.8,1632.3 710.0,1631.7 690.0,1632.0C670.0,1632.3 621.7,1632.3 600.0,1632.0C578.3,1631.7 568.8,1631.7 560.0,1630.0C551.2,1628.3 549.8,1627.0 547.0,1622.0C544.2,1617.0 543.5,1607.6 543.5,1600.2C543.5,1592.8 544.8,1584.3 547.3,1577.8C549.8,1571.3 554.8,1566.0 558.5,1561.0C562.2,1556.0 567.2,1552.3 569.7,1547.9C572.2,1543.5 572.5,1546.3 573.4,1534.8Z" fill="#FFDC00"/>
<ellipse cx="650" cy="1588" rx="90" ry="46" fill="#FFCB00"/>
<ellipse cx="648" cy="1588" rx="72.5" ry="38" fill="#FFA800"/>
<ellipse cx="643.8" cy="1589" rx="55.5" ry="30" fill="#FF8000"/>
<ellipse cx="641.5" cy="1591" rx="41.3" ry="22.4" fill="#FF5200"/>
<ellipse cx="640.3" cy="1593.1" rx="23.6" ry="13.6" fill="#E80000"/>
</g>
<g fill="rgba(0,0,0,0.09)" stroke="rgba(0,0,0,0.17)" stroke-width="1.3">
<circle cx="579.2" cy="1589.4" r="2.75"/><circle cx="695.9" cy="1612.9" r="2.75"/><circle cx="572.6" cy="1598.8" r="2.75"/><circle cx="667.9" cy="1570.7" r="2.75"/><circle cx="579.2" cy="1622.3" r="2.75"/><circle cx="681.1" cy="1584.8" r="2.75"/><circle cx="723.8" cy="1575.4" r="2.75"/><circle cx="638.4" cy="1608.2" r="2.75"/><circle cx="178.3" cy="1608.2" r="2.75"/><circle cx="602.2" cy="1627.0" r="2.75"/><circle cx="648.2" cy="1594.1" r="2.75"/><circle cx="625.2" cy="1598.8" r="2.75"/><circle cx="658.1" cy="1580.1" r="2.75"/><circle cx="700.8" cy="1594.1" r="2.75"/><circle cx="549.6" cy="1580.1" r="2.75"/><circle cx="569.3" cy="1603.5" r="2.75"/><circle cx="566.1" cy="1598.8" r="2.75"/><circle cx="602.2" cy="1594.1" r="2.75"/><circle cx="217.7" cy="1598.8" r="2.75"/><circle cx="687.6" cy="1622.3" r="2.75"/><circle cx="628.5" cy="1580.1" r="2.75"/><circle cx="638.4" cy="1589.4" r="2.75"/><circle cx="648.2" cy="1627.0" r="2.75"/><circle cx="672.9" cy="1617.6" r="2.75"/><circle cx="741.9" cy="1612.9" r="2.75"/><circle cx="679.4" cy="1598.8" r="2.75"/><circle cx="692.6" cy="1612.9" r="2.75"/><circle cx="695.9" cy="1603.5" r="2.75"/><circle cx="709.0" cy="1584.8" r="2.75"/><circle cx="651.5" cy="1617.6" r="2.75"/><circle cx="684.4" cy="1584.8" r="2.75"/><circle cx="730.4" cy="1608.2" r="2.75"/><circle cx="672.9" cy="1584.8" r="2.75"/><circle cx="658.1" cy="1594.1" r="2.75"/><circle cx="653.1" cy="1612.9" r="2.75"/><circle cx="590.7" cy="1608.2" r="2.75"/><circle cx="674.5" cy="1561.3" r="2.75"/><circle cx="694.2" cy="1570.7" r="2.75"/><circle cx="684.4" cy="1580.1" r="2.75"/><circle cx="653.1" cy="1580.1" r="2.75"/><circle cx="736.9" cy="1608.2" r="2.75"/><circle cx="607.1" cy="1547.2" r="2.75"/><circle cx="656.4" cy="1575.4" r="2.75"/><circle cx="689.3" cy="1627.0" r="2.75"/><circle cx="171.7" cy="1551.9" r="2.75"/><circle cx="653.1" cy="1580.1" r="2.75"/><circle cx="649.9" cy="1622.3" r="2.75"/><circle cx="636.7" cy="1589.4" r="2.75"/><circle cx="702.4" cy="1580.1" r="2.75"/><circle cx="646.6" cy="1566.0" r="2.75"/><circle cx="603.9" cy="1580.1" r="2.75"/><circle cx="702.4" cy="1608.2" r="2.75"/><circle cx="549.6" cy="1622.3" r="2.75"/><circle cx="656.4" cy="1584.8" r="2.75"/><circle cx="725.4" cy="1627.0" r="2.75"/><circle cx="643.3" cy="1580.1" r="2.75"/><circle cx="635.1" cy="1594.1" r="2.75"/><circle cx="686.0" cy="1537.8" r="2.75"/><circle cx="695.9" cy="1622.3" r="2.75"/><circle cx="621.9" cy="1594.1" r="2.75"/><circle cx="175.0" cy="1584.8" r="2.75"/><circle cx="649.9" cy="1556.6" r="2.75"/><circle cx="638.4" cy="1551.9" r="2.75"/><circle cx="607.1" cy="1612.9" r="2.75"/><circle cx="681.1" cy="1561.3" r="2.75"/><circle cx="677.8" cy="1589.4" r="2.75"/><circle cx="548.0" cy="1617.6" r="2.75"/><circle cx="610.4" cy="1612.9" r="2.75"/><circle cx="674.5" cy="1608.2" r="2.75"/><circle cx="684.4" cy="1598.8" r="2.75"/><circle cx="625.2" cy="1594.1" r="2.75"/><circle cx="666.3" cy="1575.4" r="2.75"/><circle cx="618.6" cy="1603.5" r="2.75"/><circle cx="571.0" cy="1556.6" r="2.75"/><circle cx="718.9" cy="1603.5" r="2.75"/><circle cx="618.6" cy="1622.3" r="2.75"/><circle cx="651.5" cy="1594.1" r="2.75"/><circle cx="758.3" cy="1594.1" r="2.75"/><circle cx="602.2" cy="1594.1" r="2.75"/><circle cx="717.2" cy="1594.1" r="2.75"/><circle cx="559.5" cy="1594.1" r="2.75"/><circle cx="559.5" cy="1509.7" r="2.75"/><circle cx="702.4" cy="1584.8" r="2.75"/><circle cx="633.4" cy="1598.8" r="2.75"/><circle cx="636.7" cy="1612.9" r="2.75"/><circle cx="674.5" cy="1598.8" r="2.75"/><circle cx="595.6" cy="1566.0" r="2.75"/><circle cx="730.4" cy="1627.0" r="2.75"/><circle cx="562.8" cy="1575.4" r="2.75"/><circle cx="687.6" cy="1622.3" r="2.75"/><circle cx="607.1" cy="1617.6" r="2.75"/><circle cx="580.9" cy="1617.6" r="2.75"/><circle cx="709.0" cy="1580.1" r="2.75"/><circle cx="751.7" cy="1598.8" r="2.75"/><circle cx="636.7" cy="1622.3" r="2.75"/><circle cx="636.7" cy="1622.3" r="2.75"/><circle cx="549.6" cy="1580.1" r="2.75"/><circle cx="718.9" cy="1575.4" r="2.75"/><circle cx="713.9" cy="1594.1" r="2.75"/><circle cx="605.5" cy="1598.8" r="2.75"/><circle cx="623.6" cy="1627.0" r="2.75"/><circle cx="554.6" cy="1617.6" r="2.75"/><circle cx="643.3" cy="1594.1" r="2.75"/><circle cx="618.6" cy="1561.3" r="2.75"/><circle cx="653.1" cy="1584.8" r="2.75"/><circle cx="707.4" cy="1622.3" r="2.75"/><circle cx="539.8" cy="1580.1" r="2.75"/><circle cx="607.1" cy="1566.0" r="2.75"/><circle cx="661.4" cy="1570.7" r="2.75"/><circle cx="682.7" cy="1603.5" r="2.75"/><circle cx="681.1" cy="1617.6" r="2.75"/><circle cx="603.9" cy="1608.2" r="2.75"/><circle cx="684.4" cy="1575.4" r="2.75"/><circle cx="695.9" cy="1612.9" r="2.75"/><circle cx="612.1" cy="1594.1" r="2.75"/><circle cx="638.4" cy="1584.8" r="2.75"/><circle cx="603.9" cy="1594.1" r="2.75"/><circle cx="654.8" cy="1570.7" r="2.75"/><circle cx="600.6" cy="1622.3" r="2.75"/><circle cx="603.9" cy="1551.9" r="2.75"/><circle cx="700.8" cy="1603.5" r="2.75"/><circle cx="654.8" cy="1594.1" r="2.75"/><circle cx="653.1" cy="1603.5" r="2.75"/><circle cx="625.2" cy="1622.3" r="2.75"/><circle cx="608.8" cy="1556.6" r="2.75"/><circle cx="671.2" cy="1598.8" r="2.75"/><circle cx="631.8" cy="1598.8" r="2.75"/><circle cx="661.4" cy="1617.6" r="2.75"/><circle cx="653.1" cy="1594.1" r="2.75"/><circle cx="603.9" cy="1617.6" r="2.75"/><circle cx="590.7" cy="1627.0" r="2.75"/><circle cx="689.3" cy="1594.1" r="2.75"/><circle cx="628.5" cy="1612.9" r="2.75"/><circle cx="610.4" cy="1594.1" r="2.75"/><circle cx="702.4" cy="1598.8" r="2.75"/><circle cx="636.7" cy="1612.9" r="2.75"/><circle cx="636.7" cy="1575.4" r="2.75"/><circle cx="621.9" cy="1627.0" r="2.75"/><circle cx="577.6" cy="1627.0" r="2.75"/><circle cx="571.0" cy="1570.7" r="2.75"/><circle cx="661.4" cy="1603.5" r="2.75"/><circle cx="720.5" cy="1617.6" r="2.75"/><circle cx="682.7" cy="1580.1" r="2.75"/><circle cx="562.8" cy="1612.9" r="2.75"/><circle cx="594.0" cy="1575.4" r="2.75"/><circle cx="710.6" cy="1622.3" r="2.75"/><circle cx="699.1" cy="1608.2" r="2.75"/><circle cx="621.9" cy="1612.9" r="2.75"/><circle cx="626.9" cy="1608.2" r="2.75"/><circle cx="590.7" cy="1622.3" r="2.75"/><circle cx="669.6" cy="1547.2" r="2.75"/><circle cx="186.5" cy="1608.2" r="2.75"/><circle cx="552.9" cy="1608.2" r="2.75"/><circle cx="594.0" cy="1547.2" r="2.75"/><circle cx="672.9" cy="1617.6" r="2.75"/><circle cx="692.6" cy="1584.8" r="2.75"/><circle cx="557.8" cy="1612.9" r="2.75"/><circle cx="630.1" cy="1598.8" r="2.75"/><circle cx="649.9" cy="1608.2" r="2.75"/><circle cx="653.1" cy="1612.9" r="2.75"/><circle cx="595.6" cy="1561.3" r="2.75"/><circle cx="663.0" cy="1589.4" r="2.75"/><circle cx="559.5" cy="1603.5" r="2.75"/><circle cx="686.0" cy="1622.3" r="2.75"/><circle cx="700.8" cy="1608.2" r="2.75"/><circle cx="664.6" cy="1603.5" r="2.75"/><circle cx="654.8" cy="1566.0" r="2.75"/><circle cx="621.9" cy="1556.6" r="2.75"/><circle cx="602.2" cy="1622.3" r="2.75"/><circle cx="681.1" cy="1627.0" r="2.75"/><circle cx="623.6" cy="1575.4" r="2.75"/><circle cx="707.4" cy="1608.2" r="2.75"/><circle cx="669.6" cy="1551.9" r="2.75"/><circle cx="705.7" cy="1603.5" r="2.75"/><circle cx="612.1" cy="1608.2" r="2.75"/><circle cx="582.5" cy="1603.5" r="2.75"/><circle cx="633.4" cy="1603.5" r="2.75"/><circle cx="705.7" cy="1603.5" r="2.75"/><circle cx="566.1" cy="1570.7" r="2.75"/><circle cx="587.4" cy="1608.2" r="2.75"/><circle cx="636.7" cy="1608.2" r="2.75"/><circle cx="590.7" cy="1603.5" r="2.75"/><circle cx="758.3" cy="1612.9" r="2.75"/><circle cx="636.7" cy="1570.7" r="2.75"/><circle cx="682.7" cy="1580.1" r="2.75"/><circle cx="689.3" cy="1603.5" r="2.75"/><circle cx="597.3" cy="1594.1" r="2.75"/><circle cx="669.6" cy="1566.0" r="2.75"/><circle cx="667.9" cy="1603.5" r="2.75"/><circle cx="644.9" cy="1603.5" r="2.75"/><circle cx="656.4" cy="1580.1" r="2.75"/><circle cx="625.2" cy="1617.6" r="2.75"/><circle cx="598.9" cy="1570.7" r="2.75"/><circle cx="710.6" cy="1575.4" r="2.75"/><circle cx="687.6" cy="1575.4" r="2.75"/><circle cx="643.3" cy="1580.1" r="2.75"/><circle cx="587.4" cy="1603.5" r="2.75"/><circle cx="605.5" cy="1580.1" r="2.75"/><circle cx="612.1" cy="1603.5" r="2.75"/><circle cx="664.6" cy="1566.0" r="2.75"/><circle cx="602.2" cy="1622.3" r="2.75"/><circle cx="686.0" cy="1627.0" r="2.75"/><circle cx="666.3" cy="1612.9" r="2.75"/><circle cx="638.4" cy="1608.2" r="2.75"/><circle cx="681.1" cy="1612.9" r="2.75"/><circle cx="595.6" cy="1547.2" r="2.75"/><circle cx="681.1" cy="1509.7" r="2.75"/><circle cx="664.6" cy="1608.2" r="2.75"/><circle cx="648.2" cy="1556.6" r="2.75"/><circle cx="641.6" cy="1589.4" r="2.75"/><circle cx="671.2" cy="1622.3" r="2.75"/><circle cx="649.9" cy="1612.9" r="2.75"/><circle cx="577.6" cy="1575.4" r="2.75"/><circle cx="677.8" cy="1598.8" r="2.75"/><circle cx="595.6" cy="1603.5" r="2.75"/><circle cx="669.6" cy="1603.5" r="2.75"/><circle cx="554.6" cy="1598.8" r="2.75"/><circle cx="562.8" cy="1598.8" r="2.75"/><circle cx="651.5" cy="1589.4" r="2.75"/><circle cx="654.8" cy="1594.1" r="2.75"/><circle cx="584.1" cy="1608.2" r="2.75"/><circle cx="617.0" cy="1603.5" r="2.75"/><circle cx="658.1" cy="1584.8" r="2.75"/><circle cx="728.7" cy="1589.4" r="2.75"/><circle cx="664.6" cy="1603.5" r="2.75"/><circle cx="763.2" cy="1575.4" r="2.75"/><circle cx="556.2" cy="1589.4" r="2.75"/><circle cx="615.4" cy="1575.4" r="2.75"/><circle cx="587.4" cy="1603.5" r="2.75"/><circle cx="636.7" cy="1603.5" r="2.75"/><circle cx="612.1" cy="1608.2" r="2.75"/><circle cx="667.9" cy="1575.4" r="2.75"/><circle cx="640.0" cy="1627.0" r="2.75"/><circle cx="653.1" cy="1584.8" r="2.75"/><circle cx="633.4" cy="1598.8" r="2.75"/><circle cx="717.2" cy="1627.0" r="2.75"/><circle cx="613.7" cy="1608.2" r="2.75"/><circle cx="607.1" cy="1617.6" r="2.75"/><circle cx="592.4" cy="1617.6" r="2.75"/><circle cx="738.6" cy="1603.5" r="2.75"/><circle cx="636.7" cy="1542.5" r="2.75"/><circle cx="640.0" cy="1608.2" r="2.75"/><circle cx="664.6" cy="1622.3" r="2.75"/><circle cx="728.7" cy="1622.3" r="2.75"/><circle cx="612.1" cy="1612.9" r="2.75"/><circle cx="648.2" cy="1627.0" r="2.75"/><circle cx="640.0" cy="1608.2" r="2.75"/><circle cx="610.4" cy="1575.4" r="2.75"/><circle cx="692.6" cy="1598.8" r="2.75"/><circle cx="595.6" cy="1627.0" r="2.75"/><circle cx="658.1" cy="1537.8" r="2.75"/><circle cx="618.6" cy="1617.6" r="2.75"/><circle cx="607.1" cy="1627.0" r="2.75"/><circle cx="592.4" cy="1603.5" r="2.75"/><circle cx="718.9" cy="1598.8" r="2.75"/><circle cx="617.0" cy="1612.9" r="2.75"/><circle cx="654.8" cy="1598.8" r="2.75"/><circle cx="579.2" cy="1627.0" r="2.75"/><circle cx="641.6" cy="1570.7" r="2.75"/><circle cx="676.1" cy="1594.1" r="2.75"/><circle cx="626.9" cy="1589.4" r="2.75"/><circle cx="643.3" cy="1542.5" r="2.75"/><circle cx="584.1" cy="1608.2" r="2.75"/><circle cx="710.6" cy="1603.5" r="2.75"/><circle cx="718.9" cy="1598.8" r="2.75"/><circle cx="651.5" cy="1608.2" r="2.75"/><circle cx="571.0" cy="1622.3" r="2.75"/><circle cx="759.9" cy="1580.1" r="2.75"/><circle cx="674.5" cy="1575.4" r="2.75"/><circle cx="672.9" cy="1570.7" r="2.75"/><circle cx="628.5" cy="1603.5" r="2.75"/><circle cx="694.2" cy="1608.2" r="2.75"/><circle cx="572.6" cy="1603.5" r="2.75"/><circle cx="615.4" cy="1584.8" r="2.75"/><circle cx="605.5" cy="1627.0" r="2.75"/><circle cx="625.2" cy="1556.6" r="2.75"/><circle cx="640.0" cy="1594.1" r="2.75"/><circle cx="643.3" cy="1589.4" r="2.75"/><circle cx="692.6" cy="1561.3" r="2.75"/><circle cx="556.2" cy="1566.0" r="2.75"/><circle cx="643.3" cy="1608.2" r="2.75"/><circle cx="170.1" cy="1603.5" r="2.75"/><circle cx="745.1" cy="1575.4" r="2.75"/><circle cx="589.1" cy="1584.8" r="2.75"/><circle cx="682.7" cy="1603.5" r="2.75"/><circle cx="521.7" cy="1608.2" r="2.75"/><circle cx="633.4" cy="1627.0" r="2.75"/><circle cx="738.6" cy="1603.5" r="2.75"/><circle cx="621.9" cy="1608.2" r="2.75"/><circle cx="602.2" cy="1617.6" r="2.75"/><circle cx="648.2" cy="1589.4" r="2.75"/><circle cx="617.0" cy="1598.8" r="2.75"/><circle cx="571.0" cy="1584.8" r="2.75"/><circle cx="603.9" cy="1594.1" r="2.75"/><circle cx="595.6" cy="1612.9" r="2.75"/><circle cx="654.8" cy="1622.3" r="2.75"/><circle cx="173.4" cy="1598.8" r="2.75"/><circle cx="640.0" cy="1617.6" r="2.75"/><circle cx="727.1" cy="1561.3" r="2.75"/><circle cx="659.7" cy="1617.6" r="2.75"/><circle cx="617.0" cy="1584.8" r="2.75"/><circle cx="617.0" cy="1622.3" r="2.75"/><circle cx="580.9" cy="1617.6" r="2.75"/><circle cx="643.3" cy="1617.6" r="2.75"/><circle cx="644.9" cy="1528.4" r="2.75"/><circle cx="736.9" cy="1627.0" r="2.75"/><circle cx="661.4" cy="1598.8" r="2.75"/><circle cx="636.7" cy="1570.7" r="2.75"/><circle cx="625.2" cy="1608.2" r="2.75"/><circle cx="623.6" cy="1603.5" r="2.75"/><circle cx="710.6" cy="1580.1" r="2.75"/><circle cx="572.6" cy="1608.2" r="2.75"/><circle cx="600.6" cy="1580.1" r="2.75"/><circle cx="654.8" cy="1575.4" r="2.75"/><circle cx="640.0" cy="1608.2" r="2.75"/><circle cx="666.3" cy="1594.1" r="2.75"/><circle cx="669.6" cy="1622.3" r="2.75"/><circle cx="648.2" cy="1617.6" r="2.75"/><circle cx="607.1" cy="1589.4" r="2.75"/><circle cx="661.4" cy="1622.3" r="2.75"/><circle cx="552.9" cy="1589.4" r="2.75"/><circle cx="613.7" cy="1570.7" r="2.75"/><circle cx="640.0" cy="1598.8" r="2.75"/><circle cx="597.3" cy="1589.4" r="2.75"/><circle cx="732.0" cy="1570.7" r="2.75"/><circle cx="663.0" cy="1594.1" r="2.75"/><circle cx="587.4" cy="1608.2" r="2.75"/><circle cx="625.2" cy="1617.6" r="2.75"/><circle cx="646.6" cy="1608.2" r="2.75"/><circle cx="661.4" cy="1561.3" r="2.75"/><circle cx="682.7" cy="1589.4" r="2.75"/><circle cx="630.1" cy="1617.6" r="2.75"/><circle cx="636.7" cy="1584.8" r="2.75"/><circle cx="590.7" cy="1566.0" r="2.75"/><circle cx="625.2" cy="1589.4" r="2.75"/><circle cx="625.2" cy="1622.3" r="2.75"/><circle cx="751.7" cy="1627.0" r="2.75"/><circle cx="690.9" cy="1612.9" r="2.75"/><circle cx="658.1" cy="1617.6" r="2.75"/><circle cx="621.9" cy="1575.4" r="2.75"/><circle cx="745.1" cy="1622.3" r="2.75"/><circle cx="643.3" cy="1575.4" r="2.75"/><circle cx="610.4" cy="1580.1" r="2.75"/><circle cx="602.2" cy="1584.8" r="2.75"/><circle cx="666.3" cy="1566.0" r="2.75"/><circle cx="663.0" cy="1622.3" r="2.75"/><circle cx="677.8" cy="1627.0" r="2.75"/><circle cx="682.7" cy="1561.3" r="2.75"/><circle cx="674.5" cy="1612.9" r="2.75"/><circle cx="705.7" cy="1594.1" r="2.75"/><circle cx="577.6" cy="1608.2" r="2.75"/><circle cx="717.2" cy="1608.2" r="2.75"/><circle cx="649.9" cy="1608.2" r="2.75"/><circle cx="554.6" cy="1612.9" r="2.75"/><circle cx="661.4" cy="1594.1" r="2.75"/><circle cx="633.4" cy="1598.8" r="2.75"/><circle cx="707.4" cy="1580.1" r="2.75"/><circle cx="697.5" cy="1566.0" r="2.75"/><circle cx="620.3" cy="1612.9" r="2.75"/><circle cx="659.7" cy="1556.6" r="2.75"/><circle cx="554.6" cy="1603.5" r="2.75"/><circle cx="605.5" cy="1584.8" r="2.75"/><circle cx="720.5" cy="1608.2" r="2.75"/><circle cx="577.6" cy="1598.8" r="2.75"/><circle cx="628.5" cy="1617.6" r="2.75"/><circle cx="689.3" cy="1612.9" r="2.75"/><circle cx="679.4" cy="1622.3" r="2.75"/><circle cx="700.8" cy="1617.6" r="2.75"/><circle cx="699.1" cy="1608.2" r="2.75"/><circle cx="715.6" cy="1608.2" r="2.75"/><circle cx="561.1" cy="1603.5" r="2.75"/><circle cx="661.4" cy="1622.3" r="2.75"/><circle cx="617.0" cy="1594.1" r="2.75"/><circle cx="635.1" cy="1575.4" r="2.75"/><circle cx="620.3" cy="1589.4" r="2.75"/><circle cx="659.7" cy="1570.7" r="2.75"/><circle cx="607.1" cy="1533.1" r="2.75"/><circle cx="686.0" cy="1589.4" r="2.75"/><circle cx="700.8" cy="1575.4" r="2.75"/><circle cx="648.2" cy="1612.9" r="2.75"/><circle cx="697.5" cy="1589.4" r="2.75"/><circle cx="543.1" cy="1627.0" r="2.75"/><circle cx="667.9" cy="1594.1" r="2.75"/><circle cx="658.1" cy="1580.1" r="2.75"/><circle cx="651.5" cy="1556.6" r="2.75"/><circle cx="612.1" cy="1608.2" r="2.75"/><circle cx="659.7" cy="1580.1" r="2.75"/><circle cx="684.4" cy="1561.3" r="2.75"/><circle cx="618.6" cy="1570.7" r="2.75"/><circle cx="667.9" cy="1627.0" r="2.75"/><circle cx="636.7" cy="1547.2" r="2.75"/><circle cx="684.4" cy="1612.9" r="2.75"/><circle cx="516.8" cy="1617.6" r="2.75"/><circle cx="607.1" cy="1598.8" r="2.75"/><circle cx="764.9" cy="1580.1" r="2.75"/><circle cx="659.7" cy="1622.3" r="2.75"/><circle cx="580.9" cy="1603.5" r="2.75"/><circle cx="618.6" cy="1519.0" r="2.75"/><circle cx="621.9" cy="1612.9" r="2.75"/><circle cx="702.4" cy="1598.8" r="2.75"/><circle cx="577.6" cy="1566.0" r="2.75"/><circle cx="626.9" cy="1622.3" r="2.75"/><circle cx="659.7" cy="1584.8" r="2.75"/><circle cx="625.2" cy="1580.1" r="2.75"/><circle cx="686.0" cy="1622.3" r="2.75"/><circle cx="534.8" cy="1594.1" r="2.75"/><circle cx="636.7" cy="1566.0" r="2.75"/><circle cx="695.9" cy="1561.3" r="2.75"/><circle cx="740.2" cy="1598.8" r="2.75"/><circle cx="699.1" cy="1617.6" r="2.75"/><circle cx="679.4" cy="1589.4" r="2.75"/><circle cx="638.4" cy="1608.2" r="2.75"/><circle cx="584.1" cy="1594.1" r="2.75"/><circle cx="710.6" cy="1608.2" r="2.75"/><circle cx="671.2" cy="1617.6" r="2.75"/><circle cx="656.4" cy="1627.0" r="2.75"/><circle cx="663.0" cy="1603.5" r="2.75"/><circle cx="659.7" cy="1612.9" r="2.75"/><circle cx="580.9" cy="1608.2" r="2.75"/><circle cx="697.5" cy="1556.6" r="2.75"/><circle cx="626.9" cy="1580.1" r="2.75"/><circle cx="682.7" cy="1589.4" r="2.75"/><circle cx="561.1" cy="1589.4" r="2.75"/><circle cx="592.4" cy="1570.7" r="2.75"/><circle cx="684.4" cy="1584.8" r="2.75"/><circle cx="510.2" cy="1584.8" r="2.75"/><circle cx="679.4" cy="1622.3" r="2.75"/><circle cx="694.2" cy="1598.8" r="2.75"/><circle cx="633.4" cy="1617.6" r="2.75"/><circle cx="589.1" cy="1608.2" r="2.75"/><circle cx="206.2" cy="1594.1" r="2.75"/><circle cx="654.8" cy="1617.6" r="2.75"/><circle cx="610.4" cy="1612.9" r="2.75"/><circle cx="597.3" cy="1575.4" r="2.75"/><circle cx="628.5" cy="1575.4" r="2.75"/><circle cx="582.5" cy="1575.4" r="2.75"/><circle cx="641.6" cy="1580.1" r="2.75"/><circle cx="638.4" cy="1622.3" r="2.75"/><circle cx="707.4" cy="1608.2" r="2.75"/><circle cx="635.1" cy="1622.3" r="2.75"/><circle cx="654.8" cy="1608.2" r="2.75"/><circle cx="658.1" cy="1589.4" r="2.75"/><circle cx="607.1" cy="1617.6" r="2.75"/><circle cx="666.3" cy="1575.4" r="2.75"/><circle cx="679.4" cy="1627.0" r="2.75"/><circle cx="674.5" cy="1589.4" r="2.75"/><circle cx="658.1" cy="1589.4" r="2.75"/><circle cx="626.9" cy="1594.1" r="2.75"/><circle cx="692.6" cy="1612.9" r="2.75"/><circle cx="567.7" cy="1603.5" r="2.75"/><circle cx="653.1" cy="1608.2" r="2.75"/><circle cx="607.1" cy="1584.8" r="2.75"/><circle cx="635.1" cy="1594.1" r="2.75"/><circle cx="577.6" cy="1575.4" r="2.75"/><circle cx="735.3" cy="1603.5" r="2.75"/><circle cx="605.5" cy="1627.0" r="2.75"/><circle cx="689.3" cy="1594.1" r="2.75"/><circle cx="602.2" cy="1566.0" r="2.75"/><circle cx="682.7" cy="1584.8" r="2.75"/><circle cx="551.3" cy="1603.5" r="2.75"/><circle cx="676.1" cy="1622.3" r="2.75"/><circle cx="692.6" cy="1561.3" r="2.75"/><circle cx="697.5" cy="1617.6" r="2.75"/><circle cx="605.5" cy="1575.4" r="2.75"/><circle cx="695.9" cy="1566.0" r="2.75"/><circle cx="705.7" cy="1603.5" r="2.75"/><circle cx="621.9" cy="1608.2" r="2.75"/><circle cx="684.4" cy="1537.8" r="2.75"/><circle cx="618.6" cy="1612.9" r="2.75"/><circle cx="677.8" cy="1589.4" r="2.75"/><circle cx="571.0" cy="1617.6" r="2.75"/><circle cx="585.8" cy="1547.2" r="2.75"/><circle cx="605.5" cy="1575.4" r="2.75"/><circle cx="743.5" cy="1551.9" r="2.75"/><circle cx="718.9" cy="1556.6" r="2.75"/><circle cx="577.6" cy="1608.2" r="2.75"/><circle cx="605.5" cy="1608.2" r="2.75"/><circle cx="181.6" cy="1612.9" r="2.75"/><circle cx="672.9" cy="1622.3" r="2.75"/><circle cx="713.9" cy="1566.0" r="2.75"/><circle cx="617.0" cy="1547.2" r="2.75"/><circle cx="646.6" cy="1566.0" r="2.75"/><circle cx="659.7" cy="1612.9" r="2.75"/><circle cx="623.6" cy="1603.5" r="2.75"/><circle cx="676.1" cy="1594.1" r="2.75"/><circle cx="768.2" cy="1603.5" r="2.75"/><circle cx="618.6" cy="1617.6" r="2.75"/><circle cx="602.2" cy="1617.6" r="2.75"/><circle cx="590.7" cy="1575.4" r="2.75"/><circle cx="646.6" cy="1603.5" r="2.75"/><circle cx="661.4" cy="1570.7" r="2.75"/><circle cx="676.1" cy="1580.1" r="2.75"/><circle cx="613.7" cy="1603.5" r="2.75"/><circle cx="602.2" cy="1603.5" r="2.75"/><circle cx="600.6" cy="1608.2" r="2.75"/><circle cx="633.4" cy="1603.5" r="2.75"/><circle cx="628.5" cy="1612.9" r="2.75"/><circle cx="712.3" cy="1608.2" r="2.75"/><circle cx="590.7" cy="1594.1" r="2.75"/><circle cx="585.8" cy="1627.0" r="2.75"/><circle cx="648.2" cy="1612.9" r="2.75"/><circle cx="474.1" cy="1589.4" r="2.75"/><circle cx="697.5" cy="1612.9" r="2.75"/><circle cx="595.6" cy="1584.8" r="2.75"/><circle cx="538.1" cy="1622.3" r="2.75"/><circle cx="579.2" cy="1603.5" r="2.75"/><circle cx="539.8" cy="1575.4" r="2.75"/><circle cx="635.1" cy="1589.4" r="2.75"/><circle cx="626.9" cy="1598.8" r="2.75"/><circle cx="635.1" cy="1622.3" r="2.75"/><circle cx="643.3" cy="1622.3" r="2.75"/><circle cx="626.9" cy="1603.5" r="2.75"/><circle cx="684.4" cy="1580.1" r="2.75"/><circle cx="590.7" cy="1598.8" r="2.75"/><circle cx="720.5" cy="1584.8" r="2.75"/><circle cx="605.5" cy="1603.5" r="2.75"/><circle cx="625.2" cy="1575.4" r="2.75"/><circle cx="644.9" cy="1589.4" r="2.75"/><circle cx="759.9" cy="1617.6" r="2.75"/><circle cx="590.7" cy="1608.2" r="2.75"/><circle cx="559.5" cy="1575.4" r="2.75"/><circle cx="658.1" cy="1556.6" r="2.75"/><circle cx="539.8" cy="1622.3" r="2.75"/><circle cx="718.9" cy="1570.7" r="2.75"/><circle cx="689.3" cy="1575.4" r="2.75"/><circle cx="644.9" cy="1598.8" r="2.75"/><circle cx="644.9" cy="1575.4" r="2.75"/><circle cx="635.1" cy="1589.4" r="2.75"/><circle cx="720.5" cy="1627.0" r="2.75"/><circle cx="603.9" cy="1584.8" r="2.75"/><circle cx="630.1" cy="1603.5" r="2.75"/><circle cx="753.4" cy="1589.4" r="2.75"/><circle cx="621.9" cy="1570.7" r="2.75"/><circle cx="176.7" cy="1627.0" r="2.75"/><circle cx="608.8" cy="1594.1" r="2.75"/><circle cx="610.4" cy="1542.5" r="2.75"/><circle cx="671.2" cy="1608.2" r="2.75"/><circle cx="669.6" cy="1617.6" r="2.75"/><circle cx="612.1" cy="1594.1" r="2.75"/><circle cx="768.2" cy="1598.8" r="2.75"/><circle cx="664.6" cy="1566.0" r="2.75"/><circle cx="682.7" cy="1547.2" r="2.75"/><circle cx="666.3" cy="1594.1" r="2.75"/><circle cx="636.7" cy="1622.3" r="2.75"/><circle cx="728.7" cy="1622.3" r="2.75"/><circle cx="636.7" cy="1612.9" r="2.75"/><circle cx="602.2" cy="1598.8" r="2.75"/><circle cx="623.6" cy="1594.1" r="2.75"/><circle cx="651.5" cy="1575.4" r="2.75"/><circle cx="635.1" cy="1617.6" r="2.75"/><circle cx="659.7" cy="1580.1" r="2.75"/><circle cx="595.6" cy="1617.6" r="2.75"/><circle cx="589.1" cy="1570.7" r="2.75"/><circle cx="695.9" cy="1622.3" r="2.75"/><circle cx="649.9" cy="1575.4" r="2.75"/><circle cx="713.9" cy="1617.6" r="2.75"/><circle cx="630.1" cy="1561.3" r="2.75"/><circle cx="170.1" cy="1561.3" r="2.75"/><circle cx="582.5" cy="1589.4" r="2.75"/><circle cx="626.9" cy="1598.8" r="2.75"/><circle cx="608.8" cy="1612.9" r="2.75"/><circle cx="643.3" cy="1551.9" r="2.75"/><circle cx="679.4" cy="1589.4" r="2.75"/><circle cx="644.9" cy="1617.6" r="2.75"/><circle cx="631.8" cy="1566.0" r="2.75"/><circle cx="687.6" cy="1547.2" r="2.75"/><circle cx="656.4" cy="1598.8" r="2.75"/><circle cx="557.8" cy="1589.4" r="2.75"/><circle cx="552.9" cy="1561.3" r="2.75"/><circle cx="610.4" cy="1598.8" r="2.75"/><circle cx="572.6" cy="1612.9" r="2.75"/><circle cx="594.0" cy="1570.7" r="2.75"/><circle cx="656.4" cy="1627.0" r="2.75"/><circle cx="541.4" cy="1598.8" r="2.75"/><circle cx="617.0" cy="1627.0" r="2.75"/><circle cx="674.5" cy="1603.5" r="2.75"/><circle cx="649.9" cy="1612.9" r="2.75"/><circle cx="613.7" cy="1612.9" r="2.75"/><circle cx="559.5" cy="1584.8" r="2.75"/><circle cx="664.6" cy="1612.9" r="2.75"/><circle cx="648.2" cy="1570.7" r="2.75"/><circle cx="656.4" cy="1566.0" r="2.75"/><circle cx="628.5" cy="1598.8" r="2.75"/><circle cx="574.3" cy="1622.3" r="2.75"/><circle cx="548.0" cy="1622.3" r="2.75"/><circle cx="656.4" cy="1584.8" r="2.75"/><circle cx="704.1" cy="1594.1" r="2.75"/><circle cx="590.7" cy="1589.4" r="2.75"/><circle cx="635.1" cy="1551.9" r="2.75"/><circle cx="746.8" cy="1575.4" r="2.75"/><circle cx="584.1" cy="1612.9" r="2.75"/><circle cx="653.1" cy="1617.6" r="2.75"/><circle cx="671.2" cy="1580.1" r="2.75"/><circle cx="687.6" cy="1594.1" r="2.75"/><circle cx="597.3" cy="1622.3" r="2.75"/><circle cx="636.7" cy="1566.0" r="2.75"/><circle cx="725.4" cy="1575.4" r="2.75"/><circle cx="663.0" cy="1580.1" r="2.75"/><circle cx="686.0" cy="1566.0" r="2.75"/><circle cx="687.6" cy="1617.6" r="2.75"/><circle cx="694.2" cy="1589.4" r="2.75"/><circle cx="618.6" cy="1584.8" r="2.75"/><circle cx="658.1" cy="1598.8" r="2.75"/><circle cx="554.6" cy="1594.1" r="2.75"/><circle cx="672.9" cy="1598.8" r="2.75"/><circle cx="559.5" cy="1584.8" r="2.75"/><circle cx="681.1" cy="1594.1" r="2.75"/><circle cx="666.3" cy="1608.2" r="2.75"/><circle cx="608.8" cy="1584.8" r="2.75"/><circle cx="625.2" cy="1594.1" r="2.75"/><circle cx="214.5" cy="1580.1" r="2.75"/><circle cx="649.9" cy="1612.9" r="2.75"/><circle cx="648.2" cy="1580.1" r="2.75"/><circle cx="605.5" cy="1603.5" r="2.75"/><circle cx="525.0" cy="1584.8" r="2.75"/><circle cx="612.1" cy="1580.1" r="2.75"/><circle cx="715.6" cy="1603.5" r="2.75"/><circle cx="695.9" cy="1594.1" r="2.75"/><circle cx="631.8" cy="1608.2" r="2.75"/><circle cx="598.9" cy="1566.0" r="2.75"/><circle cx="689.3" cy="1627.0" r="2.75"/><circle cx="687.6" cy="1617.6" r="2.75"/><circle cx="564.4" cy="1566.0" r="2.75"/><circle cx="575.9" cy="1566.0" r="2.75"/><circle cx="653.1" cy="1575.4" r="2.75"/><circle cx="669.6" cy="1570.7" r="2.75"/><circle cx="661.4" cy="1584.8" r="2.75"/><circle cx="656.4" cy="1570.7" r="2.75"/><circle cx="621.9" cy="1570.7" r="2.75"/><circle cx="722.1" cy="1598.8" r="2.75"/><circle cx="666.3" cy="1612.9" r="2.75"/><circle cx="628.5" cy="1594.1" r="2.75"/><circle cx="625.2" cy="1622.3" r="2.75"/><circle cx="641.6" cy="1594.1" r="2.75"/><circle cx="659.7" cy="1580.1" r="2.75"/><circle cx="549.6" cy="1561.3" r="2.75"/><circle cx="635.1" cy="1617.6" r="2.75"/><circle cx="623.6" cy="1589.4" r="2.75"/><circle cx="689.3" cy="1608.2" r="2.75"/><circle cx="651.5" cy="1612.9" r="2.75"/><circle cx="651.5" cy="1603.5" r="2.75"/><circle cx="620.3" cy="1575.4" r="2.75"/><circle cx="736.9" cy="1570.7" r="2.75"/><circle cx="602.2" cy="1561.3" r="2.75"/><circle cx="625.2" cy="1598.8" r="2.75"/><circle cx="612.1" cy="1584.8" r="2.75"/><circle cx="672.9" cy="1594.1" r="2.75"/><circle cx="631.8" cy="1603.5" r="2.75"/><circle cx="621.9" cy="1575.4" r="2.75"/><circle cx="615.4" cy="1603.5" r="2.75"/><circle cx="631.8" cy="1617.6" r="2.75"/><circle cx="631.8" cy="1617.6" r="2.75"/><circle cx="664.6" cy="1584.8" r="2.75"/><circle cx="626.9" cy="1556.6" r="2.75"/><circle cx="600.6" cy="1584.8" r="2.75"/><circle cx="667.9" cy="1612.9" r="2.75"/><circle cx="630.1" cy="1575.4" r="2.75"/><circle cx="646.6" cy="1589.4" r="2.75"/><circle cx="717.2" cy="1594.1" r="2.75"/><circle cx="556.2" cy="1617.6" r="2.75"/><circle cx="687.6" cy="1603.5" r="2.75"/><circle cx="587.4" cy="1603.5" r="2.75"/><circle cx="659.7" cy="1561.3" r="2.75"/><circle cx="577.6" cy="1598.8" r="2.75"/><circle cx="669.6" cy="1612.9" r="2.75"/><circle cx="628.5" cy="1608.2" r="2.75"/><circle cx="595.6" cy="1589.4" r="2.75"/><circle cx="690.9" cy="1589.4" r="2.75"/><circle cx="613.7" cy="1570.7" r="2.75"/><circle cx="636.7" cy="1584.8" r="2.75"/><circle cx="594.0" cy="1580.1" r="2.75"/><circle cx="682.7" cy="1566.0" r="2.75"/><circle cx="644.9" cy="1589.4" r="2.75"/><circle cx="613.7" cy="1575.4" r="2.75"/><circle cx="684.4" cy="1570.7" r="2.75"/><circle cx="623.6" cy="1622.3" r="2.75"/><circle cx="640.0" cy="1603.5" r="2.75"/><circle cx="603.9" cy="1584.8" r="2.75"/><circle cx="692.6" cy="1589.4" r="2.75"/><circle cx="700.8" cy="1589.4" r="2.75"/><circle cx="592.4" cy="1612.9" r="2.75"/><circle cx="625.2" cy="1580.1" r="2.75"/><circle cx="690.9" cy="1594.1" r="2.75"/><circle cx="695.9" cy="1617.6" r="2.75"/><circle cx="636.7" cy="1561.3" r="2.75"/><circle cx="666.3" cy="1570.7" r="2.75"/><circle cx="544.7" cy="1612.9" r="2.75"/><circle cx="598.9" cy="1575.4" r="2.75"/><circle cx="727.1" cy="1612.9" r="2.75"/><circle cx="592.4" cy="1622.3" r="2.75"/><circle cx="597.3" cy="1584.8" r="2.75"/><circle cx="626.9" cy="1551.9" r="2.75"/><circle cx="681.1" cy="1617.6" r="2.75"/><circle cx="656.4" cy="1603.5" r="2.75"/><circle cx="684.4" cy="1575.4" r="2.75"/><circle cx="625.2" cy="1575.4" r="2.75"/><circle cx="672.9" cy="1598.8" r="2.75"/><circle cx="656.4" cy="1580.1" r="2.75"/><circle cx="626.9" cy="1617.6" r="2.75"/><circle cx="709.0" cy="1598.8" r="2.75"/><circle cx="612.1" cy="1584.8" r="2.75"/><circle cx="567.7" cy="1598.8" r="2.75"/><circle cx="572.6" cy="1608.2" r="2.75"/><circle cx="551.3" cy="1617.6" r="2.75"/><circle cx="689.3" cy="1603.5" r="2.75"/><circle cx="580.9" cy="1556.6" r="2.75"/><circle cx="610.4" cy="1561.3" r="2.75"/><circle cx="617.0" cy="1617.6" r="2.75"/><circle cx="738.6" cy="1608.2" r="2.75"/><circle cx="682.7" cy="1570.7" r="2.75"/><circle cx="575.9" cy="1598.8" r="2.75"/><circle cx="613.7" cy="1584.8" r="2.75"/><circle cx="643.3" cy="1622.3" r="2.75"/><circle cx="646.6" cy="1580.1" r="2.75"/><circle cx="628.5" cy="1584.8" r="2.75"/><circle cx="615.4" cy="1598.8" r="2.75"/><circle cx="661.4" cy="1594.1" r="2.75"/><circle cx="709.0" cy="1575.4" r="2.75"/><circle cx="687.6" cy="1580.1" r="2.75"/><circle cx="651.5" cy="1627.0" r="2.75"/><circle cx="699.1" cy="1556.6" r="2.75"/><circle cx="654.8" cy="1603.5" r="2.75"/><circle cx="641.6" cy="1566.0" r="2.75"/><circle cx="658.1" cy="1622.3" r="2.75"/><circle cx="635.1" cy="1617.6" r="2.75"/><circle cx="633.4" cy="1622.3" r="2.75"/><circle cx="598.9" cy="1561.3" r="2.75"/><circle cx="697.5" cy="1612.9" r="2.75"/><circle cx="594.0" cy="1608.2" r="2.75"/><circle cx="623.6" cy="1622.3" r="2.75"/><circle cx="689.3" cy="1612.9" r="2.75"/><circle cx="679.4" cy="1580.1" r="2.75"/><circle cx="625.2" cy="1612.9" r="2.75"/><circle cx="646.6" cy="1594.1" r="2.75"/><circle cx="536.5" cy="1622.3" r="2.75"/><circle cx="671.2" cy="1603.5" r="2.75"/><circle cx="621.9" cy="1622.3" r="2.75"/><circle cx="607.1" cy="1617.6" r="2.75"/><circle cx="188.2" cy="1622.3" r="2.75"/><circle cx="722.1" cy="1584.8" r="2.75"/><circle cx="654.8" cy="1594.1" r="2.75"/><circle cx="623.6" cy="1556.6" r="2.75"/><circle cx="669.6" cy="1598.8" r="2.75"/><circle cx="636.7" cy="1594.1" r="2.75"/><circle cx="585.8" cy="1608.2" r="2.75"/><circle cx="612.1" cy="1584.8" r="2.75"/><circle cx="674.5" cy="1608.2" r="2.75"/><circle cx="631.8" cy="1575.4" r="2.75"/><circle cx="577.6" cy="1627.0" r="2.75"/><circle cx="695.9" cy="1603.5" r="2.75"/><circle cx="620.3" cy="1627.0" r="2.75"/><circle cx="653.1" cy="1612.9" r="2.75"/><circle cx="654.8" cy="1589.4" r="2.75"/><circle cx="679.4" cy="1608.2" r="2.75"/><circle cx="617.0" cy="1598.8" r="2.75"/><circle cx="638.4" cy="1594.1" r="2.75"/><circle cx="617.0" cy="1603.5" r="2.75"/><circle cx="613.7" cy="1612.9" r="2.75"/><circle cx="651.5" cy="1570.7" r="2.75"/><circle cx="615.4" cy="1584.8" r="2.75"/><circle cx="661.4" cy="1594.1" r="2.75"/><circle cx="679.4" cy="1612.9" r="2.75"/><circle cx="672.9" cy="1589.4" r="2.75"/><circle cx="464.2" cy="1589.4" r="2.75"/><circle cx="674.5" cy="1547.2" r="2.75"/><circle cx="589.1" cy="1594.1" r="2.75"/><circle cx="661.4" cy="1622.3" r="2.75"/><circle cx="705.7" cy="1589.4" r="2.75"/><circle cx="602.2" cy="1627.0" r="2.75"/><circle cx="621.9" cy="1537.8" r="2.75"/><circle cx="755.0" cy="1594.1" r="2.75"/><circle cx="549.6" cy="1580.1" r="2.75"/><circle cx="638.4" cy="1612.9" r="2.75"/><circle cx="674.5" cy="1594.1" r="2.75"/><circle cx="658.1" cy="1594.1" r="2.75"/><circle cx="587.4" cy="1566.0" r="2.75"/><circle cx="620.3" cy="1570.7" r="2.75"/><circle cx="679.4" cy="1598.8" r="2.75"/><circle cx="651.5" cy="1598.8" r="2.75"/><circle cx="549.6" cy="1608.2" r="2.75"/><circle cx="666.3" cy="1612.9" r="2.75"/><circle cx="566.1" cy="1570.7" r="2.75"/><circle cx="686.0" cy="1617.6" r="2.75"/><circle cx="667.9" cy="1598.8" r="2.75"/><circle cx="694.2" cy="1608.2" r="2.75"/><circle cx="631.8" cy="1617.6" r="2.75"/><circle cx="653.1" cy="1603.5" r="2.75"/><circle cx="610.4" cy="1608.2" r="2.75"/><circle cx="605.5" cy="1584.8" r="2.75"/><circle cx="590.7" cy="1617.6" r="2.75"/><circle cx="594.0" cy="1570.7" r="2.75"/><circle cx="617.0" cy="1580.1" r="2.75"/><circle cx="681.1" cy="1612.9" r="2.75"/><circle cx="682.7" cy="1584.8" r="2.75"/><circle cx="641.6" cy="1617.6" r="2.75"/><circle cx="640.0" cy="1622.3" r="2.75"/><circle cx="630.1" cy="1612.9" r="2.75"/><circle cx="666.3" cy="1589.4" r="2.75"/><circle cx="610.4" cy="1575.4" r="2.75"/><circle cx="705.7" cy="1598.8" r="2.75"/><circle cx="605.5" cy="1584.8" r="2.75"/><circle cx="516.8" cy="1612.9" r="2.75"/><circle cx="674.5" cy="1547.2" r="2.75"/><circle cx="605.5" cy="1561.3" r="2.75"/><circle cx="764.9" cy="1551.9" r="2.75"/><circle cx="521.7" cy="1570.7" r="2.75"/><circle cx="653.1" cy="1570.7" r="2.75"/><circle cx="635.1" cy="1612.9" r="2.75"/><circle cx="631.8" cy="1561.3" r="2.75"/><circle cx="687.6" cy="1608.2" r="2.75"/><circle cx="663.0" cy="1575.4" r="2.75"/><circle cx="672.9" cy="1598.8" r="2.75"/><circle cx="608.8" cy="1617.6" r="2.75"/><circle cx="620.3" cy="1612.9" r="2.75"/><circle cx="561.1" cy="1617.6" r="2.75"/><circle cx="689.3" cy="1627.0" r="2.75"/><circle cx="575.9" cy="1598.8" r="2.75"/><circle cx="718.9" cy="1566.0" r="2.75"/><circle cx="621.9" cy="1627.0" r="2.75"/><circle cx="615.4" cy="1622.3" r="2.75"/><circle cx="615.4" cy="1584.8" r="2.75"/><circle cx="587.4" cy="1617.6" r="2.75"/><circle cx="630.1" cy="1598.8" r="2.75"/><circle cx="603.9" cy="1617.6" r="2.75"/><circle cx="584.1" cy="1617.6" r="2.75"/><circle cx="671.2" cy="1603.5" r="2.75"/><circle cx="480.6" cy="1584.8" r="2.75"/><circle cx="640.0" cy="1622.3" r="2.75"/><circle cx="630.1" cy="1575.4" r="2.75"/><circle cx="556.2" cy="1570.7" r="2.75"/><circle cx="755.0" cy="1542.5" r="2.75"/><circle cx="605.5" cy="1598.8" r="2.75"/><circle cx="684.4" cy="1622.3" r="2.75"/><circle cx="735.3" cy="1617.6" r="2.75"/><circle cx="661.4" cy="1627.0" r="2.75"/><circle cx="663.0" cy="1598.8" r="2.75"/><circle cx="700.8" cy="1627.0" r="2.75"/><circle cx="643.3" cy="1551.9" r="2.75"/><circle cx="580.9" cy="1589.4" r="2.75"/><circle cx="666.3" cy="1612.9" r="2.75"/><circle cx="628.5" cy="1561.3" r="2.75"/><circle cx="702.4" cy="1584.8" r="2.75"/><circle cx="658.1" cy="1627.0" r="2.75"/><circle cx="648.2" cy="1551.9" r="2.75"/><circle cx="699.1" cy="1622.3" r="2.75"/><circle cx="534.8" cy="1617.6" r="2.75"/><circle cx="651.5" cy="1612.9" r="2.75"/><circle cx="626.9" cy="1589.4" r="2.75"/><circle cx="690.9" cy="1594.1" r="2.75"/><circle cx="709.0" cy="1617.6" r="2.75"/><circle cx="676.1" cy="1439.2" r="2.75"/><circle cx="566.1" cy="1392.3" r="2.75"/><circle cx="561.1" cy="1556.6" r="2.75"/><circle cx="199.7" cy="1387.6" r="2.75"/><circle cx="671.2" cy="1382.9" r="2.75"/><circle cx="713.9" cy="1537.8" r="2.75"/><circle cx="676.1" cy="1382.9" r="2.75"/><circle cx="641.6" cy="1462.7" r="2.75"/><circle cx="623.6" cy="1420.5" r="2.75"/><circle cx="618.6" cy="1505.0" r="2.75"/><circle cx="580.9" cy="1523.7" r="2.75"/><circle cx="663.0" cy="1439.2" r="2.75"/><circle cx="628.5" cy="1533.1" r="2.75"/><circle cx="669.6" cy="1443.9" r="2.75"/><circle cx="720.5" cy="1495.6" r="2.75"/><circle cx="626.9" cy="1434.5" r="2.75"/><circle cx="735.3" cy="1472.1" r="2.75"/><circle cx="644.9" cy="1523.7" r="2.75"/><circle cx="628.5" cy="1411.1" r="2.75"/><circle cx="697.5" cy="1397.0" r="2.75"/><circle cx="557.8" cy="1415.8" r="2.75"/><circle cx="597.3" cy="1429.9" r="2.75"/><circle cx="582.5" cy="1472.1" r="2.75"/><circle cx="638.4" cy="1509.7" r="2.75"/><circle cx="610.4" cy="1490.9" r="2.75"/><circle cx="681.1" cy="1505.0" r="2.75"/><circle cx="700.8" cy="1537.8" r="2.75"/><circle cx="587.4" cy="1429.9" r="2.75"/><circle cx="646.6" cy="1551.9" r="2.75"/><circle cx="630.1" cy="1458.0" r="2.75"/><circle cx="610.4" cy="1443.9" r="2.75"/><circle cx="575.9" cy="1411.1" r="2.75"/><circle cx="621.9" cy="1551.9" r="2.75"/><circle cx="651.5" cy="1406.4" r="2.75"/><circle cx="730.4" cy="1373.5" r="2.75"/><circle cx="649.9" cy="1401.7" r="2.75"/><circle cx="594.0" cy="1373.5" r="2.75"/><circle cx="694.2" cy="1533.1" r="2.75"/><circle cx="625.2" cy="1476.8" r="2.75"/><circle cx="669.6" cy="1481.5" r="2.75"/><circle cx="613.7" cy="1420.5" r="2.75"/><circle cx="635.1" cy="1556.6" r="2.75"/><circle cx="584.1" cy="1359.4" r="2.75"/><circle cx="661.4" cy="1472.1" r="2.75"/><circle cx="607.1" cy="1519.0" r="2.75"/><circle cx="608.8" cy="1415.8" r="2.75"/><circle cx="617.0" cy="1382.9" r="2.75"/><circle cx="659.7" cy="1406.4" r="2.75"/><circle cx="646.6" cy="1425.2" r="2.75"/><circle cx="579.2" cy="1533.1" r="2.75"/><circle cx="548.0" cy="1528.4" r="2.75"/><circle cx="663.0" cy="1490.9" r="2.75"/><circle cx="617.0" cy="1425.2" r="2.75"/><circle cx="648.2" cy="1490.9" r="2.75"/><circle cx="672.9" cy="1547.2" r="2.75"/><circle cx="705.7" cy="1434.5" r="2.75"/><circle cx="666.3" cy="1519.0" r="2.75"/><circle cx="587.4" cy="1467.4" r="2.75"/><circle cx="607.1" cy="1429.9" r="2.75"/><circle cx="566.1" cy="1462.7" r="2.75"/><circle cx="621.9" cy="1476.8" r="2.75"/><circle cx="651.5" cy="1373.5" r="2.75"/><circle cx="546.3" cy="1458.0" r="2.75"/><circle cx="641.6" cy="1514.3" r="2.75"/><circle cx="705.7" cy="1495.6" r="2.75"/><circle cx="644.9" cy="1453.3" r="2.75"/><circle cx="603.9" cy="1500.3" r="2.75"/><circle cx="648.2" cy="1495.6" r="2.75"/><circle cx="638.4" cy="1406.4" r="2.75"/><circle cx="684.4" cy="1495.6" r="2.75"/><circle cx="743.5" cy="1467.4" r="2.75"/><circle cx="707.4" cy="1425.2" r="2.75"/><circle cx="663.0" cy="1542.5" r="2.75"/><circle cx="671.2" cy="1439.2" r="2.75"/><circle cx="736.9" cy="1397.0" r="2.75"/><circle cx="733.6" cy="1336.0" r="2.75"/><circle cx="594.0" cy="1476.8" r="2.75"/><circle cx="564.4" cy="1547.2" r="2.75"/><circle cx="705.7" cy="1481.5" r="2.75"/><circle cx="682.7" cy="1462.7" r="2.75"/><circle cx="687.6" cy="1556.6" r="2.75"/><circle cx="641.6" cy="1500.3" r="2.75"/><circle cx="636.7" cy="1472.1" r="2.75"/><circle cx="686.0" cy="1434.5" r="2.75"/><circle cx="728.7" cy="1486.2" r="2.75"/><circle cx="659.7" cy="1481.5" r="2.75"/><circle cx="630.1" cy="1453.3" r="2.75"/><circle cx="648.2" cy="1439.2" r="2.75"/><circle cx="692.6" cy="1495.6" r="2.75"/><circle cx="569.3" cy="1462.7" r="2.75"/><circle cx="751.7" cy="1566.0" r="2.75"/><circle cx="590.7" cy="1495.6" r="2.75"/><circle cx="695.9" cy="1500.3" r="2.75"/><circle cx="621.9" cy="1373.5" r="2.75"/><circle cx="646.6" cy="1411.1" r="2.75"/><circle cx="592.4" cy="1439.2" r="2.75"/><circle cx="612.1" cy="1415.8" r="2.75"/><circle cx="633.4" cy="1462.7" r="2.75"/><circle cx="659.7" cy="1486.2" r="2.75"/><circle cx="580.9" cy="1481.5" r="2.75"/><circle cx="617.0" cy="1443.9" r="2.75"/><circle cx="694.2" cy="1434.5" r="2.75"/><circle cx="625.2" cy="1401.7" r="2.75"/><circle cx="661.4" cy="1368.8" r="2.75"/><circle cx="641.6" cy="1467.4" r="2.75"/><circle cx="541.4" cy="1378.2" r="2.75"/><circle cx="584.1" cy="1551.9" r="2.75"/><circle cx="605.5" cy="1500.3" r="2.75"/><circle cx="625.2" cy="1387.6" r="2.75"/><circle cx="608.8" cy="1495.6" r="2.75"/><circle cx="582.5" cy="1467.4" r="2.75"/><circle cx="649.9" cy="1486.2" r="2.75"/><circle cx="686.0" cy="1443.9" r="2.75"/><circle cx="636.7" cy="1359.4" r="2.75"/><circle cx="551.3" cy="1411.1" r="2.75"/><circle cx="612.1" cy="1439.2" r="2.75"/><circle cx="640.0" cy="1490.9" r="2.75"/><circle cx="755.0" cy="1476.8" r="2.75"/><circle cx="626.9" cy="1420.5" r="2.75"/><circle cx="690.9" cy="1566.0" r="2.75"/><circle cx="638.4" cy="1481.5" r="2.75"/><circle cx="651.5" cy="1486.2" r="2.75"/><circle cx="598.9" cy="1523.7" r="2.75"/><circle cx="722.1" cy="1505.0" r="2.75"/><circle cx="180.0" cy="1448.6" r="2.75"/><circle cx="651.5" cy="1547.2" r="2.75"/><circle cx="741.9" cy="1462.7" r="2.75"/><circle cx="575.9" cy="1420.5" r="2.75"/><circle cx="173.4" cy="1481.5" r="2.75"/><circle cx="736.9" cy="1420.5" r="2.75"/><circle cx="562.8" cy="1429.9" r="2.75"/><circle cx="605.5" cy="1420.5" r="2.75"/><circle cx="623.6" cy="1453.3" r="2.75"/><circle cx="610.4" cy="1378.2" r="2.75"/><circle cx="674.5" cy="1453.3" r="2.75"/><circle cx="690.9" cy="1547.2" r="2.75"/><circle cx="623.6" cy="1476.8" r="2.75"/><circle cx="686.0" cy="1429.9" r="2.75"/><circle cx="718.9" cy="1490.9" r="2.75"/><circle cx="684.4" cy="1486.2" r="2.75"/><circle cx="590.7" cy="1429.9" r="2.75"/><circle cx="664.6" cy="1495.6" r="2.75"/><circle cx="694.2" cy="1514.3" r="2.75"/><circle cx="707.4" cy="1453.3" r="2.75"/><circle cx="589.1" cy="1401.7" r="2.75"/><circle cx="709.0" cy="1500.3" r="2.75"/><circle cx="630.1" cy="1523.7" r="2.75"/><circle cx="654.8" cy="1495.6" r="2.75"/><circle cx="648.2" cy="1505.0" r="2.75"/><circle cx="617.0" cy="1486.2" r="2.75"/><circle cx="630.1" cy="1439.2" r="2.75"/><circle cx="605.5" cy="1401.7" r="2.75"/><circle cx="595.6" cy="1476.8" r="2.75"/><circle cx="554.6" cy="1519.0" r="2.75"/><circle cx="603.9" cy="1406.4" r="2.75"/><circle cx="580.9" cy="1448.6" r="2.75"/><circle cx="636.7" cy="1509.7" r="2.75"/><circle cx="643.3" cy="1368.8" r="2.75"/><circle cx="612.1" cy="1490.9" r="2.75"/><circle cx="745.1" cy="1420.5" r="2.75"/><circle cx="585.8" cy="1401.7" r="2.75"/><circle cx="579.2" cy="1434.5" r="2.75"/><circle cx="651.5" cy="1528.4" r="2.75"/><circle cx="587.4" cy="1448.6" r="2.75"/><circle cx="661.4" cy="1364.1" r="2.75"/><circle cx="687.6" cy="1434.5" r="2.75"/><circle cx="658.1" cy="1481.5" r="2.75"/><circle cx="626.9" cy="1542.5" r="2.75"/><circle cx="602.2" cy="1486.2" r="2.75"/><circle cx="728.7" cy="1345.4" r="2.75"/><circle cx="659.7" cy="1378.2" r="2.75"/><circle cx="705.7" cy="1458.0" r="2.75"/><circle cx="686.0" cy="1547.2" r="2.75"/><circle cx="633.4" cy="1392.3" r="2.75"/><circle cx="715.6" cy="1533.1" r="2.75"/><circle cx="725.4" cy="1509.7" r="2.75"/><circle cx="559.5" cy="1354.7" r="2.75"/><circle cx="640.0" cy="1519.0" r="2.75"/><circle cx="705.7" cy="1542.5" r="2.75"/><circle cx="646.6" cy="1420.5" r="2.75"/><circle cx="718.9" cy="1458.0" r="2.75"/><circle cx="648.2" cy="1415.8" r="2.75"/><circle cx="649.9" cy="1434.5" r="2.75"/><circle cx="605.5" cy="1462.7" r="2.75"/><circle cx="640.0" cy="1420.5" r="2.75"/><circle cx="559.5" cy="1476.8" r="2.75"/><circle cx="718.9" cy="1561.3" r="2.75"/><circle cx="595.6" cy="1514.3" r="2.75"/><circle cx="643.3" cy="1542.5" r="2.75"/><circle cx="582.5" cy="1458.0" r="2.75"/><circle cx="607.1" cy="1331.3" r="2.75"/><circle cx="694.2" cy="1537.8" r="2.75"/><circle cx="723.8" cy="1462.7" r="2.75"/><circle cx="710.6" cy="1533.1" r="2.75"/><circle cx="715.6" cy="1401.7" r="2.75"/><circle cx="626.9" cy="1519.0" r="2.75"/><circle cx="628.5" cy="1448.6" r="2.75"/><circle cx="186.5" cy="1354.7" r="2.75"/><circle cx="735.3" cy="1481.5" r="2.75"/><circle cx="631.8" cy="1443.9" r="2.75"/><circle cx="635.1" cy="1495.6" r="2.75"/><circle cx="638.4" cy="1415.8" r="2.75"/><circle cx="646.6" cy="1453.3" r="2.75"/><circle cx="635.1" cy="1476.8" r="2.75"/><circle cx="631.8" cy="1387.6" r="2.75"/><circle cx="663.0" cy="1373.5" r="2.75"/><circle cx="640.0" cy="1401.7" r="2.75"/><circle cx="572.6" cy="1490.9" r="2.75"/><circle cx="646.6" cy="1505.0" r="2.75"/><circle cx="643.3" cy="1523.7" r="2.75"/><circle cx="641.6" cy="1509.7" r="2.75"/><circle cx="649.9" cy="1486.2" r="2.75"/><circle cx="594.0" cy="1490.9" r="2.75"/><circle cx="651.5" cy="1547.2" r="2.75"/><circle cx="656.4" cy="1392.3" r="2.75"/><circle cx="638.4" cy="1434.5" r="2.75"/><circle cx="686.0" cy="1514.3" r="2.75"/><circle cx="723.8" cy="1528.4" r="2.75"/><circle cx="171.7" cy="1509.7" r="2.75"/><circle cx="732.0" cy="1397.0" r="2.75"/><circle cx="658.1" cy="1547.2" r="2.75"/><circle cx="603.9" cy="1533.1" r="2.75"/><circle cx="600.6" cy="1443.9" r="2.75"/><circle cx="640.0" cy="1486.2" r="2.75"/><circle cx="676.1" cy="1462.7" r="2.75"/><circle cx="745.1" cy="1453.3" r="2.75"/><circle cx="651.5" cy="1420.5" r="2.75"/><circle cx="574.3" cy="1547.2" r="2.75"/><circle cx="640.0" cy="1462.7" r="2.75"/><circle cx="548.0" cy="1443.9" r="2.75"/><circle cx="649.9" cy="1420.5" r="2.75"/><circle cx="643.3" cy="1514.3" r="2.75"/><circle cx="677.8" cy="1472.1" r="2.75"/><circle cx="658.1" cy="1462.7" r="2.75"/><circle cx="607.1" cy="1533.1" r="2.75"/><circle cx="615.4" cy="1514.3" r="2.75"/><circle cx="722.1" cy="1509.7" r="2.75"/><circle cx="661.4" cy="1439.2" r="2.75"/><circle cx="626.9" cy="1439.2" r="2.75"/><circle cx="684.4" cy="1453.3" r="2.75"/><circle cx="630.1" cy="1429.9" r="2.75"/><circle cx="625.2" cy="1505.0" r="2.75"/><circle cx="607.1" cy="1472.1" r="2.75"/><circle cx="676.1" cy="1495.6" r="2.75"/><circle cx="654.8" cy="1415.8" r="2.75"/><circle cx="607.1" cy="1382.9" r="2.75"/><circle cx="603.9" cy="1561.3" r="2.75"/><circle cx="628.5" cy="1472.1" r="2.75"/><circle cx="653.1" cy="1514.3" r="2.75"/><circle cx="661.4" cy="1406.4" r="2.75"/><circle cx="704.1" cy="1472.1" r="2.75"/><circle cx="574.3" cy="1364.1" r="2.75"/><circle cx="705.7" cy="1472.1" r="2.75"/><circle cx="715.6" cy="1387.6" r="2.75"/><circle cx="659.7" cy="1523.7" r="2.75"/><circle cx="663.0" cy="1523.7" r="2.75"/><circle cx="631.8" cy="1387.6" r="2.75"/><circle cx="646.6" cy="1537.8" r="2.75"/><circle cx="653.1" cy="1476.8" r="2.75"/><circle cx="595.6" cy="1467.4" r="2.75"/><circle cx="763.2" cy="1415.8" r="2.75"/><circle cx="672.9" cy="1434.5" r="2.75"/><circle cx="751.7" cy="1415.8" r="2.75"/><circle cx="628.5" cy="1434.5" r="2.75"/><circle cx="636.7" cy="1500.3" r="2.75"/><circle cx="562.8" cy="1406.4" r="2.75"/><circle cx="713.9" cy="1397.0" r="2.75"/><circle cx="589.1" cy="1401.7" r="2.75"/><circle cx="630.1" cy="1490.9" r="2.75"/><circle cx="669.6" cy="1486.2" r="2.75"/><circle cx="181.6" cy="1434.5" r="2.75"/><circle cx="664.6" cy="1476.8" r="2.75"/><circle cx="664.6" cy="1481.5" r="2.75"/><circle cx="682.7" cy="1415.8" r="2.75"/><circle cx="697.5" cy="1542.5" r="2.75"/><circle cx="631.8" cy="1462.7" r="2.75"/><circle cx="582.5" cy="1443.9" r="2.75"/><circle cx="641.6" cy="1462.7" r="2.75"/><circle cx="671.2" cy="1505.0" r="2.75"/><circle cx="738.6" cy="1401.7" r="2.75"/><circle cx="620.3" cy="1439.2" r="2.75"/><circle cx="692.6" cy="1514.3" r="2.75"/><circle cx="630.1" cy="1425.2" r="2.75"/><circle cx="595.6" cy="1561.3" r="2.75"/><circle cx="584.1" cy="1505.0" r="2.75"/><circle cx="658.1" cy="1523.7" r="2.75"/><circle cx="743.5" cy="1453.3" r="2.75"/><circle cx="635.1" cy="1458.0" r="2.75"/><circle cx="667.9" cy="1434.5" r="2.75"/><circle cx="646.6" cy="1509.7" r="2.75"/><circle cx="689.3" cy="1462.7" r="2.75"/><circle cx="669.6" cy="1537.8" r="2.75"/><circle cx="613.7" cy="1523.7" r="2.75"/><circle cx="653.1" cy="1458.0" r="2.75"/><circle cx="644.9" cy="1448.6" r="2.75"/><circle cx="644.9" cy="1382.9" r="2.75"/><circle cx="607.1" cy="1415.8" r="2.75"/><circle cx="615.4" cy="1505.0" r="2.75"/><circle cx="577.6" cy="1368.8" r="2.75"/><circle cx="598.9" cy="1500.3" r="2.75"/><circle cx="589.1" cy="1486.2" r="2.75"/><circle cx="589.1" cy="1350.1" r="2.75"/><circle cx="663.0" cy="1392.3" r="2.75"/><circle cx="557.8" cy="1429.9" r="2.75"/><circle cx="707.4" cy="1415.8" r="2.75"/><circle cx="644.9" cy="1420.5" r="2.75"/><circle cx="728.7" cy="1458.0" r="2.75"/><circle cx="723.8" cy="1387.6" r="2.75"/><circle cx="763.2" cy="1472.1" r="2.75"/><circle cx="674.5" cy="1490.9" r="2.75"/><circle cx="602.2" cy="1533.1" r="2.75"/><circle cx="625.2" cy="1401.7" r="2.75"/><circle cx="618.6" cy="1472.1" r="2.75"/><circle cx="651.5" cy="1514.3" r="2.75"/><circle cx="651.5" cy="1542.5" r="2.75"/><circle cx="613.7" cy="1490.9" r="2.75"/><circle cx="654.8" cy="1537.8" r="2.75"/><circle cx="651.5" cy="1481.5" r="2.75"/><circle cx="709.0" cy="1373.5" r="2.75"/><circle cx="700.8" cy="1458.0" r="2.75"/><circle cx="755.0" cy="1453.3" r="2.75"/><circle cx="608.8" cy="1406.4" r="2.75"/><circle cx="612.1" cy="1537.8" r="2.75"/><circle cx="681.1" cy="1401.7" r="2.75"/><circle cx="628.5" cy="1519.0" r="2.75"/><circle cx="654.8" cy="1429.9" r="2.75"/><circle cx="594.0" cy="1490.9" r="2.75"/><circle cx="681.1" cy="1443.9" r="2.75"/><circle cx="753.4" cy="1411.1" r="2.75"/><circle cx="653.1" cy="1509.7" r="2.75"/><circle cx="557.8" cy="1495.6" r="2.75"/><circle cx="551.3" cy="1453.3" r="2.75"/><circle cx="617.0" cy="1448.6" r="2.75"/><circle cx="605.5" cy="1462.7" r="2.75"/><circle cx="175.0" cy="1397.0" r="2.75"/><circle cx="659.7" cy="1528.4" r="2.75"/><circle cx="732.0" cy="1551.9" r="2.75"/><circle cx="723.8" cy="1505.0" r="2.75"/><circle cx="725.4" cy="1429.9" r="2.75"/><circle cx="173.4" cy="1359.4" r="2.75"/><circle cx="682.7" cy="1505.0" r="2.75"/><circle cx="684.4" cy="1382.9" r="2.75"/><circle cx="658.1" cy="1490.9" r="2.75"/><circle cx="630.1" cy="1472.1" r="2.75"/><circle cx="630.1" cy="1397.0" r="2.75"/><circle cx="579.2" cy="1439.2" r="2.75"/><circle cx="610.4" cy="1387.6" r="2.75"/><circle cx="621.9" cy="1528.4" r="2.75"/><circle cx="653.1" cy="1476.8" r="2.75"/><circle cx="659.7" cy="1411.1" r="2.75"/><circle cx="733.6" cy="1453.3" r="2.75"/><circle cx="730.4" cy="1453.3" r="2.75"/><circle cx="564.4" cy="1519.0" r="2.75"/><circle cx="644.9" cy="1472.1" r="2.75"/><circle cx="686.0" cy="1523.7" r="2.75"/><circle cx="582.5" cy="1415.8" r="2.75"/><circle cx="631.8" cy="1345.4" r="2.75"/><circle cx="595.6" cy="1505.0" r="2.75"/><circle cx="183.2" cy="1458.0" r="2.75"/><circle cx="600.6" cy="1481.5" r="2.75"/><circle cx="717.2" cy="1481.5" r="2.75"/><circle cx="651.5" cy="1420.5" r="2.75"/><circle cx="597.3" cy="1448.6" r="2.75"/><circle cx="649.9" cy="1425.2" r="2.75"/><circle cx="613.7" cy="1490.9" r="2.75"/><circle cx="640.0" cy="1448.6" r="2.75"/><circle cx="699.1" cy="1448.6" r="2.75"/><circle cx="618.6" cy="1490.9" r="2.75"/><circle cx="600.6" cy="1434.5" r="2.75"/><circle cx="656.4" cy="1397.0" r="2.75"/><circle cx="677.8" cy="1476.8" r="2.75"/><circle cx="572.6" cy="1429.9" r="2.75"/><circle cx="654.8" cy="1542.5" r="2.75"/><circle cx="566.1" cy="1429.9" r="2.75"/><circle cx="625.2" cy="1519.0" r="2.75"/><circle cx="613.7" cy="1472.1" r="2.75"/><circle cx="651.5" cy="1486.2" r="2.75"/><circle cx="690.9" cy="1406.4" r="2.75"/><circle cx="636.7" cy="1368.8" r="2.75"/><circle cx="643.3" cy="1519.0" r="2.75"/><circle cx="658.1" cy="1556.6" r="2.75"/><circle cx="633.4" cy="1533.1" r="2.75"/><circle cx="625.2" cy="1453.3" r="2.75"/><circle cx="649.9" cy="1443.9" r="2.75"/><circle cx="669.6" cy="1458.0" r="2.75"/><circle cx="640.0" cy="1373.5" r="2.75"/><circle cx="623.6" cy="1453.3" r="2.75"/><circle cx="584.1" cy="1429.9" r="2.75"/><circle cx="648.2" cy="1528.4" r="2.75"/><circle cx="600.6" cy="1542.5" r="2.75"/><circle cx="636.7" cy="1481.5" r="2.75"/><circle cx="643.3" cy="1500.3" r="2.75"/><circle cx="709.0" cy="1443.9" r="2.75"/><circle cx="671.2" cy="1462.7" r="2.75"/><circle cx="600.6" cy="1425.2" r="2.75"/><circle cx="758.3" cy="1373.5" r="2.75"/><circle cx="687.6" cy="1523.7" r="2.75"/><circle cx="608.8" cy="1495.6" r="2.75"/><circle cx="677.8" cy="1472.1" r="2.75"/><circle cx="636.7" cy="1425.2" r="2.75"/><circle cx="694.2" cy="1523.7" r="2.75"/><circle cx="602.2" cy="1434.5" r="2.75"/><circle cx="682.7" cy="1500.3" r="2.75"/><circle cx="672.9" cy="1561.3" r="2.75"/><circle cx="598.9" cy="1448.6" r="2.75"/><circle cx="594.0" cy="1439.2" r="2.75"/><circle cx="618.6" cy="1387.6" r="2.75"/><circle cx="608.8" cy="1439.2" r="2.75"/><circle cx="658.1" cy="1533.1" r="2.75"/><circle cx="595.6" cy="1448.6" r="2.75"/><circle cx="564.4" cy="1373.5" r="2.75"/><circle cx="746.8" cy="1481.5" r="2.75"/><circle cx="582.5" cy="1415.8" r="2.75"/><circle cx="646.6" cy="1519.0" r="2.75"/><circle cx="626.9" cy="1519.0" r="2.75"/><circle cx="580.9" cy="1547.2" r="2.75"/><circle cx="682.7" cy="1453.3" r="2.75"/><circle cx="745.1" cy="1509.7" r="2.75"/><circle cx="602.2" cy="1387.6" r="2.75"/><circle cx="707.4" cy="1462.7" r="2.75"/><circle cx="654.8" cy="1514.3" r="2.75"/><circle cx="620.3" cy="1495.6" r="2.75"/><circle cx="564.4" cy="1350.1" r="2.75"/><circle cx="666.3" cy="1476.8" r="2.75"/><circle cx="559.5" cy="1523.7" r="2.75"/><circle cx="679.4" cy="1519.0" r="2.75"/><circle cx="575.9" cy="1519.0" r="2.75"/><circle cx="656.4" cy="1509.7" r="2.75"/><circle cx="630.1" cy="1490.9" r="2.75"/><circle cx="580.9" cy="1519.0" r="2.75"/><circle cx="713.9" cy="1387.6" r="2.75"/><circle cx="608.8" cy="1378.2" r="2.75"/><circle cx="692.6" cy="1481.5" r="2.75"/><circle cx="587.4" cy="1500.3" r="2.75"/><circle cx="615.4" cy="1467.4" r="2.75"/><circle cx="566.1" cy="1561.3" r="2.75"/><circle cx="625.2" cy="1509.7" r="2.75"/><circle cx="669.6" cy="1528.4" r="2.75"/><circle cx="695.9" cy="1401.7" r="2.75"/><circle cx="584.1" cy="1448.6" r="2.75"/><circle cx="722.1" cy="1472.1" r="2.75"/><circle cx="699.1" cy="1481.5" r="2.75"/><circle cx="651.5" cy="1490.9" r="2.75"/><circle cx="623.6" cy="1378.2" r="2.75"/><circle cx="612.1" cy="1505.0" r="2.75"/><circle cx="681.1" cy="1514.3" r="2.75"/><circle cx="704.1" cy="1411.1" r="2.75"/><circle cx="658.1" cy="1486.2" r="2.75"/><circle cx="623.6" cy="1514.3" r="2.75"/><circle cx="755.0" cy="1425.2" r="2.75"/><circle cx="633.4" cy="1453.3" r="2.75"/><circle cx="674.5" cy="1373.5" r="2.75"/><circle cx="700.8" cy="1472.1" r="2.75"/><circle cx="605.5" cy="1561.3" r="2.75"/><circle cx="656.4" cy="1354.7" r="2.75"/><circle cx="667.9" cy="1439.2" r="2.75"/><circle cx="620.3" cy="1495.6" r="2.75"/><circle cx="567.7" cy="1533.1" r="2.75"/><circle cx="748.4" cy="1453.3" r="2.75"/><circle cx="712.3" cy="1490.9" r="2.75"/><circle cx="705.7" cy="1439.2" r="2.75"/><circle cx="582.5" cy="1458.0" r="2.75"/><circle cx="689.3" cy="1490.9" r="2.75"/><circle cx="628.5" cy="1411.1" r="2.75"/><circle cx="638.4" cy="1528.4" r="2.75"/><circle cx="671.2" cy="1401.7" r="2.75"/><circle cx="539.8" cy="1486.2" r="2.75"/><circle cx="618.6" cy="1523.7" r="2.75"/><circle cx="718.9" cy="1439.2" r="2.75"/><circle cx="763.2" cy="1439.2" r="2.75"/><circle cx="620.3" cy="1495.6" r="2.75"/><circle cx="679.4" cy="1472.1" r="2.75"/><circle cx="633.4" cy="1476.8" r="2.75"/><circle cx="630.1" cy="1425.2" r="2.75"/><circle cx="590.7" cy="1490.9" r="2.75"/><circle cx="636.7" cy="1411.1" r="2.75"/><circle cx="664.6" cy="1382.9" r="2.75"/><circle cx="643.3" cy="1453.3" r="2.75"/><circle cx="635.1" cy="1458.0" r="2.75"/><circle cx="656.4" cy="1481.5" r="2.75"/><circle cx="617.0" cy="1481.5" r="2.75"/><circle cx="732.0" cy="1486.2" r="2.75"/><circle cx="603.9" cy="1519.0" r="2.75"/><circle cx="659.7" cy="1519.0" r="2.75"/><circle cx="630.1" cy="1495.6" r="2.75"/><circle cx="682.7" cy="1481.5" r="2.75"/><circle cx="692.6" cy="1415.8" r="2.75"/><circle cx="654.8" cy="1509.7" r="2.75"/><circle cx="625.2" cy="1378.2" r="2.75"/><circle cx="720.5" cy="1537.8" r="2.75"/><circle cx="663.0" cy="1514.3" r="2.75"/><circle cx="758.3" cy="1467.4" r="2.75"/><circle cx="572.6" cy="1519.0" r="2.75"/><circle cx="577.6" cy="1528.4" r="2.75"/><circle cx="649.9" cy="1523.7" r="2.75"/><circle cx="692.6" cy="1542.5" r="2.75"/><circle cx="663.0" cy="1490.9" r="2.75"/><circle cx="681.1" cy="1495.6" r="2.75"/><circle cx="695.9" cy="1458.0" r="2.75"/><circle cx="746.8" cy="1443.9" r="2.75"/><circle cx="617.0" cy="1500.3" r="2.75"/><circle cx="690.9" cy="1354.7" r="2.75"/><circle cx="694.2" cy="1547.2" r="2.75"/><circle cx="617.0" cy="1561.3" r="2.75"/><circle cx="595.6" cy="1448.6" r="2.75"/><circle cx="541.4" cy="1509.7" r="2.75"/><circle cx="175.0" cy="1476.8" r="2.75"/><circle cx="661.4" cy="1486.2" r="2.75"/><circle cx="653.1" cy="1537.8" r="2.75"/><circle cx="631.8" cy="1509.7" r="2.75"/><circle cx="753.4" cy="1486.2" r="2.75"/><circle cx="207.9" cy="1378.2" r="2.75"/><circle cx="681.1" cy="1462.7" r="2.75"/><circle cx="589.1" cy="1411.1" r="2.75"/><circle cx="705.7" cy="1415.8" r="2.75"/><circle cx="705.7" cy="1490.9" r="2.75"/><circle cx="656.4" cy="1547.2" r="2.75"/><circle cx="620.3" cy="1486.2" r="2.75"/><circle cx="623.6" cy="1439.2" r="2.75"/><circle cx="663.0" cy="1401.7" r="2.75"/><circle cx="600.6" cy="1481.5" r="2.75"/><circle cx="580.9" cy="1509.7" r="2.75"/><circle cx="689.3" cy="1462.7" r="2.75"/><circle cx="628.5" cy="1505.0" r="2.75"/><circle cx="735.3" cy="1420.5" r="2.75"/><circle cx="579.2" cy="1336.0" r="2.75"/><circle cx="625.2" cy="1476.8" r="2.75"/><circle cx="621.9" cy="1505.0" r="2.75"/><circle cx="684.4" cy="1556.6" r="2.75"/><circle cx="651.5" cy="1486.2" r="2.75"/><circle cx="746.8" cy="1443.9" r="2.75"/><circle cx="672.9" cy="1434.5" r="2.75"/><circle cx="682.7" cy="1462.7" r="2.75"/><circle cx="579.2" cy="1443.9" r="2.75"/><circle cx="643.3" cy="1354.7" r="2.75"/><circle cx="681.1" cy="1387.6" r="2.75"/><circle cx="551.3" cy="1561.3" r="2.75"/><circle cx="718.9" cy="1443.9" r="2.75"/><circle cx="572.6" cy="1392.3" r="2.75"/><circle cx="648.2" cy="1368.8" r="2.75"/><circle cx="676.1" cy="1401.7" r="2.75"/><circle cx="690.9" cy="1476.8" r="2.75"/><circle cx="626.9" cy="1331.3" r="2.75"/><circle cx="640.0" cy="1486.2" r="2.75"/><circle cx="666.3" cy="1425.2" r="2.75"/><circle cx="623.6" cy="1354.7" r="2.75"/><circle cx="602.2" cy="1509.7" r="2.75"/><circle cx="580.9" cy="1537.8" r="2.75"/><circle cx="709.0" cy="1490.9" r="2.75"/><circle cx="649.9" cy="1528.4" r="2.75"/><circle cx="653.1" cy="1486.2" r="2.75"/><circle cx="646.6" cy="1439.2" r="2.75"/><circle cx="615.4" cy="1429.9" r="2.75"/><circle cx="694.2" cy="1401.7" r="2.75"/><circle cx="679.4" cy="1486.2" r="2.75"/><circle cx="584.1" cy="1467.4" r="2.75"/><circle cx="656.4" cy="1547.2" r="2.75"/><circle cx="653.1" cy="1429.9" r="2.75"/><circle cx="646.6" cy="1490.9" r="2.75"/><circle cx="659.7" cy="1481.5" r="2.75"/><circle cx="672.9" cy="1401.7" r="2.75"/><circle cx="692.6" cy="1537.8" r="2.75"/><circle cx="646.6" cy="1472.1" r="2.75"/><circle cx="631.8" cy="1453.3" r="2.75"/><circle cx="621.9" cy="1458.0" r="2.75"/><circle cx="663.0" cy="1345.4" r="2.75"/><circle cx="669.6" cy="1486.2" r="2.75"/><circle cx="666.3" cy="1354.7" r="2.75"/><circle cx="681.1" cy="1547.2" r="2.75"/><circle cx="676.1" cy="1462.7" r="2.75"/><circle cx="641.6" cy="1429.9" r="2.75"/><circle cx="677.8" cy="1439.2" r="2.75"/><circle cx="628.5" cy="1495.6" r="2.75"/><circle cx="684.4" cy="1401.7" r="2.75"/><circle cx="626.9" cy="1443.9" r="2.75"/><circle cx="589.1" cy="1495.6" r="2.75"/><circle cx="602.2" cy="1420.5" r="2.75"/><circle cx="725.4" cy="1448.6" r="2.75"/><circle cx="667.9" cy="1415.8" r="2.75"/><circle cx="766.5" cy="1458.0" r="2.75"/><circle cx="602.2" cy="1500.3" r="2.75"/><circle cx="556.2" cy="1505.0" r="2.75"/><circle cx="584.1" cy="1401.7" r="2.75"/><circle cx="589.1" cy="1397.0" r="2.75"/><circle cx="663.0" cy="1476.8" r="2.75"/><circle cx="640.0" cy="1415.8" r="2.75"/><circle cx="649.9" cy="1509.7" r="2.75"/><circle cx="562.8" cy="1561.3" r="2.75"/><circle cx="717.2" cy="1462.7" r="2.75"/><circle cx="621.9" cy="1368.8" r="2.75"/><circle cx="638.4" cy="1429.9" r="2.75"/><circle cx="610.4" cy="1561.3" r="2.75"/><circle cx="709.0" cy="1514.3" r="2.75"/><circle cx="209.5" cy="1420.5" r="2.75"/><circle cx="580.9" cy="1434.5" r="2.75"/><circle cx="641.6" cy="1533.1" r="2.75"/><circle cx="690.9" cy="1397.0" r="2.75"/><circle cx="722.1" cy="1387.6" r="2.75"/><circle cx="679.4" cy="1476.8" r="2.75"/><circle cx="699.1" cy="1500.3" r="2.75"/><circle cx="626.9" cy="1429.9" r="2.75"/><circle cx="692.6" cy="1472.1" r="2.75"/><circle cx="592.4" cy="1397.0" r="2.75"/><circle cx="689.3" cy="1359.4" r="2.75"/><circle cx="672.9" cy="1392.3" r="2.75"/><circle cx="648.2" cy="1462.7" r="2.75"/><circle cx="653.1" cy="1467.4" r="2.75"/><circle cx="628.5" cy="1425.2" r="2.75"/><circle cx="728.7" cy="1472.1" r="2.75"/><circle cx="730.4" cy="1429.9" r="2.75"/><circle cx="656.4" cy="1397.0" r="2.75"/><circle cx="631.8" cy="1411.1" r="2.75"/><circle cx="626.9" cy="1490.9" r="2.75"/><circle cx="700.8" cy="1505.0" r="2.75"/><circle cx="735.3" cy="1556.6" r="2.75"/><circle cx="669.6" cy="1406.4" r="2.75"/><circle cx="728.7" cy="1425.2" r="2.75"/><circle cx="641.6" cy="1495.6" r="2.75"/><circle cx="626.9" cy="1406.4" r="2.75"/><circle cx="663.0" cy="1425.2" r="2.75"/><circle cx="732.0" cy="1551.9" r="2.75"/><circle cx="613.7" cy="1448.6" r="2.75"/><circle cx="646.6" cy="1453.3" r="2.75"/><circle cx="658.1" cy="1439.2" r="2.75"/><circle cx="621.9" cy="1537.8" r="2.75"/><circle cx="682.7" cy="1514.3" r="2.75"/><circle cx="710.6" cy="1411.1" r="2.75"/><circle cx="689.3" cy="1458.0" r="2.75"/><circle cx="682.7" cy="1462.7" r="2.75"/><circle cx="713.9" cy="1439.2" r="2.75"/><circle cx="702.4" cy="1406.4" r="2.75"/><circle cx="672.9" cy="1519.0" r="2.75"/><circle cx="710.6" cy="1406.4" r="2.75"/><circle cx="635.1" cy="1542.5" r="2.75"/><circle cx="625.2" cy="1406.4" r="2.75"/><circle cx="585.8" cy="1415.8" r="2.75"/><circle cx="643.3" cy="1453.3" r="2.75"/><circle cx="571.0" cy="1476.8" r="2.75"/><circle cx="651.5" cy="1514.3" r="2.75"/><circle cx="656.4" cy="1523.7" r="2.75"/><circle cx="610.4" cy="1490.9" r="2.75"/><circle cx="648.2" cy="1411.1" r="2.75"/><circle cx="705.7" cy="1542.5" r="2.75"/><circle cx="636.7" cy="1486.2" r="2.75"/><circle cx="709.0" cy="1472.1" r="2.75"/><circle cx="551.3" cy="1382.9" r="2.75"/><circle cx="594.0" cy="1462.7" r="2.75"/><circle cx="597.3" cy="1458.0" r="2.75"/><circle cx="666.3" cy="1467.4" r="2.75"/><circle cx="631.8" cy="1453.3" r="2.75"/><circle cx="635.1" cy="1500.3" r="2.75"/><circle cx="684.4" cy="1415.8" r="2.75"/><circle cx="574.3" cy="1528.4" r="2.75"/><circle cx="605.5" cy="1448.6" r="2.75"/><circle cx="571.0" cy="1373.5" r="2.75"/><circle cx="651.5" cy="1458.0" r="2.75"/><circle cx="697.5" cy="1514.3" r="2.75"/><circle cx="669.6" cy="1443.9" r="2.75"/><circle cx="722.1" cy="1533.1" r="2.75"/><circle cx="727.1" cy="1429.9" r="2.75"/><circle cx="663.0" cy="1401.7" r="2.75"/><circle cx="635.1" cy="1481.5" r="2.75"/><circle cx="695.9" cy="1490.9" r="2.75"/><circle cx="710.6" cy="1382.9" r="2.75"/><circle cx="661.4" cy="1458.0" r="2.75"/><circle cx="613.7" cy="1523.7" r="2.75"/><circle cx="730.4" cy="1528.4" r="2.75"/><circle cx="654.8" cy="1448.6" r="2.75"/><circle cx="598.9" cy="1509.7" r="2.75"/><circle cx="610.4" cy="1336.0" r="2.75"/><circle cx="671.2" cy="1382.9" r="2.75"/><circle cx="763.2" cy="1406.4" r="2.75"/><circle cx="723.8" cy="1495.6" r="2.75"/><circle cx="612.1" cy="1378.2" r="2.75"/><circle cx="732.0" cy="1528.4" r="2.75"/><circle cx="713.9" cy="1448.6" r="2.75"/><circle cx="694.2" cy="1406.4" r="2.75"/><circle cx="756.7" cy="1505.0" r="2.75"/><circle cx="649.9" cy="1392.3" r="2.75"/><circle cx="636.7" cy="1434.5" r="2.75"/><circle cx="646.6" cy="1500.3" r="2.75"/><circle cx="699.1" cy="1500.3" r="2.75"/><circle cx="564.4" cy="1495.6" r="2.75"/><circle cx="656.4" cy="1434.5" r="2.75"/><circle cx="669.6" cy="1434.5" r="2.75"/><circle cx="592.4" cy="1505.0" r="2.75"/><circle cx="607.1" cy="1490.9" r="2.75"/><circle cx="676.1" cy="1382.9" r="2.75"/><circle cx="638.4" cy="1401.7" r="2.75"/><circle cx="712.3" cy="1537.8" r="2.75"/><circle cx="605.5" cy="1458.0" r="2.75"/><circle cx="574.3" cy="1350.1" r="2.75"/><circle cx="546.3" cy="1542.5" r="2.75"/><circle cx="694.2" cy="1509.7" r="2.75"/><circle cx="690.9" cy="1528.4" r="2.75"/><circle cx="710.6" cy="1500.3" r="2.75"/><circle cx="690.9" cy="1406.4" r="2.75"/><circle cx="567.7" cy="1519.0" r="2.75"/><circle cx="552.9" cy="1533.1" r="2.75"/><circle cx="702.4" cy="1467.4" r="2.75"/><circle cx="699.1" cy="1378.2" r="2.75"/><circle cx="709.0" cy="1420.5" r="2.75"/><circle cx="626.9" cy="1490.9" r="2.75"/><circle cx="669.6" cy="1411.1" r="2.75"/><circle cx="712.3" cy="1448.6" r="2.75"/><circle cx="635.1" cy="1472.1" r="2.75"/><circle cx="743.5" cy="1448.6" r="2.75"/><circle cx="763.2" cy="1509.7" r="2.75"/><circle cx="700.8" cy="1453.3" r="2.75"/><circle cx="694.2" cy="1509.7" r="2.75"/><circle cx="671.2" cy="1467.4" r="2.75"/><circle cx="636.7" cy="1537.8" r="2.75"/><circle cx="572.6" cy="1486.2" r="2.75"/><circle cx="682.7" cy="1448.6" r="2.75"/><circle cx="664.6" cy="1443.9" r="2.75"/><circle cx="575.9" cy="1401.7" r="2.75"/><circle cx="656.4" cy="1509.7" r="2.75"/><circle cx="621.9" cy="1406.4" r="2.75"/><circle cx="663.0" cy="1336.0" r="2.75"/><circle cx="569.3" cy="1359.4" r="2.75"/><circle cx="699.1" cy="1528.4" r="2.75"/><circle cx="720.5" cy="1387.6" r="2.75"/><circle cx="710.6" cy="1425.2" r="2.75"/><circle cx="669.6" cy="1453.3" r="2.75"/><circle cx="621.9" cy="1448.6" r="2.75"/><circle cx="723.8" cy="1472.1" r="2.75"/><circle cx="761.6" cy="1561.3" r="2.75"/><circle cx="653.1" cy="1556.6" r="2.75"/><circle cx="554.6" cy="1448.6" r="2.75"/><circle cx="633.4" cy="1500.3" r="2.75"/><circle cx="592.4" cy="1481.5" r="2.75"/><circle cx="562.8" cy="1476.8" r="2.75"/><circle cx="621.9" cy="1542.5" r="2.75"/><circle cx="674.5" cy="1439.2" r="2.75"/><circle cx="666.3" cy="1434.5" r="2.75"/><circle cx="659.7" cy="1415.8" r="2.75"/><circle cx="638.4" cy="1528.4" r="2.75"/><circle cx="672.9" cy="1514.3" r="2.75"/><circle cx="631.8" cy="1458.0" r="2.75"/><circle cx="600.6" cy="1406.4" r="2.75"/><circle cx="566.1" cy="1392.3" r="2.75"/><circle cx="649.9" cy="1364.1" r="2.75"/><circle cx="713.9" cy="1425.2" r="2.75"/><circle cx="667.9" cy="1458.0" r="2.75"/><circle cx="575.9" cy="1500.3" r="2.75"/><circle cx="600.6" cy="1509.7" r="2.75"/><circle cx="644.9" cy="1514.3" r="2.75"/><circle cx="659.7" cy="1481.5" r="2.75"/><circle cx="626.9" cy="1439.2" r="2.75"/><circle cx="677.8" cy="1547.2" r="2.75"/><circle cx="635.1" cy="1462.7" r="2.75"/><circle cx="677.8" cy="1519.0" r="2.75"/><circle cx="705.7" cy="1373.5" r="2.75"/><circle cx="684.4" cy="1472.1" r="2.75"/><circle cx="653.1" cy="1429.9" r="2.75"/><circle cx="635.1" cy="1439.2" r="2.75"/><circle cx="672.9" cy="1453.3" r="2.75"/><circle cx="768.2" cy="1411.1" r="2.75"/><circle cx="615.4" cy="1429.9" r="2.75"/><circle cx="687.6" cy="1462.7" r="2.75"/><circle cx="730.4" cy="1486.2" r="2.75"/><circle cx="554.6" cy="1528.4" r="2.75"/><circle cx="672.9" cy="1523.7" r="2.75"/><circle cx="661.4" cy="1556.6" r="2.75"/><circle cx="672.9" cy="1481.5" r="2.75"/><circle cx="602.2" cy="1500.3" r="2.75"/><circle cx="636.7" cy="1411.1" r="2.75"/><circle cx="664.6" cy="1476.8" r="2.75"/><circle cx="661.4" cy="1411.1" r="2.75"/><circle cx="677.8" cy="1359.4" r="2.75"/><circle cx="612.1" cy="1415.8" r="2.75"/><circle cx="659.7" cy="1505.0" r="2.75"/><circle cx="686.0" cy="1415.8" r="2.75"/><circle cx="705.7" cy="1434.5" r="2.75"/><circle cx="603.9" cy="1453.3" r="2.75"/><circle cx="672.9" cy="1364.1" r="2.75"/><circle cx="659.7" cy="1453.3" r="2.75"/><circle cx="738.6" cy="1462.7" r="2.75"/><circle cx="626.9" cy="1448.6" r="2.75"/><circle cx="694.2" cy="1453.3" r="2.75"/><circle cx="559.5" cy="1490.9" r="2.75"/><circle cx="707.4" cy="1509.7" r="2.75"/><circle cx="699.1" cy="1453.3" r="2.75"/><circle cx="608.8" cy="1415.8" r="2.75"/><circle cx="613.7" cy="1505.0" r="2.75"/><circle cx="732.0" cy="1434.5" r="2.75"/><circle cx="746.8" cy="1429.9" r="2.75"/><circle cx="682.7" cy="1425.2" r="2.75"/><circle cx="633.4" cy="1505.0" r="2.75"/><circle cx="740.2" cy="1542.5" r="2.75"/><circle cx="631.8" cy="1467.4" r="2.75"/><circle cx="640.0" cy="1415.8" r="2.75"/><circle cx="613.7" cy="1397.0" r="2.75"/><circle cx="659.7" cy="1490.9" r="2.75"/><circle cx="653.1" cy="1368.8" r="2.75"/><circle cx="628.5" cy="1429.9" r="2.75"/><circle cx="666.3" cy="1458.0" r="2.75"/><circle cx="590.7" cy="1425.2" r="2.75"/><circle cx="592.4" cy="1420.5" r="2.75"/><circle cx="646.6" cy="1458.0" r="2.75"/><circle cx="626.9" cy="1514.3" r="2.75"/><circle cx="595.6" cy="1462.7" r="2.75"/><circle cx="648.2" cy="1448.6" r="2.75"/><circle cx="636.7" cy="1420.5" r="2.75"/><circle cx="659.7" cy="1458.0" r="2.75"/><circle cx="638.4" cy="1467.4" r="2.75"/><circle cx="687.6" cy="1505.0" r="2.75"/><circle cx="585.8" cy="1443.9" r="2.75"/><circle cx="676.1" cy="1462.7" r="2.75"/><circle cx="666.3" cy="1542.5" r="2.75"/><circle cx="598.9" cy="1462.7" r="2.75"/><circle cx="649.9" cy="1537.8" r="2.75"/><circle cx="677.8" cy="1392.3" r="2.75"/><circle cx="594.0" cy="1500.3" r="2.75"/><circle cx="594.0" cy="1547.2" r="2.75"/><circle cx="635.1" cy="1486.2" r="2.75"/><circle cx="661.4" cy="1481.5" r="2.75"/><circle cx="651.5" cy="1551.9" r="2.75"/><circle cx="549.6" cy="1542.5" r="2.75"/><circle cx="710.6" cy="1443.9" r="2.75"/><circle cx="552.9" cy="1364.1" r="2.75"/><circle cx="686.0" cy="1401.7" r="2.75"/><circle cx="707.4" cy="1387.6" r="2.75"/><circle cx="559.5" cy="1462.7" r="2.75"/><circle cx="608.8" cy="1350.1" r="2.75"/><circle cx="689.3" cy="1467.4" r="2.75"/><circle cx="638.4" cy="1458.0" r="2.75"/><circle cx="605.5" cy="1382.9" r="2.75"/><circle cx="692.6" cy="1472.1" r="2.75"/><circle cx="630.1" cy="1397.0" r="2.75"/><circle cx="621.9" cy="1397.0" r="2.75"/><circle cx="663.0" cy="1481.5" r="2.75"/><circle cx="672.9" cy="1359.4" r="2.75"/><circle cx="564.4" cy="1420.5" r="2.75"/><circle cx="692.6" cy="1481.5" r="2.75"/><circle cx="732.0" cy="1425.2" r="2.75"/><circle cx="681.1" cy="1523.7" r="2.75"/><circle cx="684.4" cy="1542.5" r="2.75"/><circle cx="679.4" cy="1336.0" r="2.75"/><circle cx="602.2" cy="1373.5" r="2.75"/><circle cx="592.4" cy="1462.7" r="2.75"/><circle cx="690.9" cy="1551.9" r="2.75"/><circle cx="669.6" cy="1509.7" r="2.75"/><circle cx="617.0" cy="1415.8" r="2.75"/><circle cx="646.6" cy="1439.2" r="2.75"/><circle cx="653.1" cy="1443.9" r="2.75"/><circle cx="736.9" cy="1458.0" r="2.75"/><circle cx="636.7" cy="1462.7" r="2.75"/><circle cx="690.9" cy="1439.2" r="2.75"/><circle cx="572.6" cy="1340.7" r="2.75"/><circle cx="736.9" cy="1373.5" r="2.75"/><circle cx="633.4" cy="1448.6" r="2.75"/><circle cx="656.4" cy="1537.8" r="2.75"/><circle cx="640.0" cy="1392.3" r="2.75"/><circle cx="623.6" cy="1514.3" r="2.75"/><circle cx="630.1" cy="1495.6" r="2.75"/><circle cx="687.6" cy="1476.8" r="2.75"/><circle cx="671.2" cy="1336.0" r="2.75"/><circle cx="610.4" cy="1401.7" r="2.75"/><circle cx="557.8" cy="1434.5" r="2.75"/><circle cx="584.1" cy="1378.2" r="2.75"/><circle cx="690.9" cy="1406.4" r="2.75"/><circle cx="557.8" cy="1448.6" r="2.75"/><circle cx="654.8" cy="1476.8" r="2.75"/><circle cx="585.8" cy="1551.9" r="2.75"/><circle cx="677.8" cy="1514.3" r="2.75"/><circle cx="575.9" cy="1528.4" r="2.75"/><circle cx="709.0" cy="1350.1" r="2.75"/><circle cx="699.1" cy="1486.2" r="2.75"/><circle cx="551.3" cy="1509.7" r="2.75"/><circle cx="658.1" cy="1556.6" r="2.75"/><circle cx="676.1" cy="1495.6" r="2.75"/><circle cx="641.6" cy="1406.4" r="2.75"/><circle cx="651.5" cy="1467.4" r="2.75"/><circle cx="689.3" cy="1458.0" r="2.75"/><circle cx="707.4" cy="1514.3" r="2.75"/><circle cx="623.6" cy="1345.4" r="2.75"/><circle cx="664.6" cy="1542.5" r="2.75"/><circle cx="592.4" cy="1509.7" r="2.75"/><circle cx="615.4" cy="1481.5" r="2.75"/><circle cx="667.9" cy="1476.8" r="2.75"/><circle cx="633.4" cy="1523.7" r="2.75"/><circle cx="621.9" cy="1556.6" r="2.75"/><circle cx="587.4" cy="1359.4" r="2.75"/><circle cx="623.6" cy="1401.7" r="2.75"/><circle cx="646.6" cy="1382.9" r="2.75"/><circle cx="656.4" cy="1547.2" r="2.75"/><circle cx="564.4" cy="1509.7" r="2.75"/><circle cx="615.4" cy="1354.7" r="2.75"/><circle cx="653.1" cy="1533.1" r="2.75"/><circle cx="674.5" cy="1434.5" r="2.75"/><circle cx="643.3" cy="1462.7" r="2.75"/><circle cx="625.2" cy="1415.8" r="2.75"/><circle cx="705.7" cy="1472.1" r="2.75"/><circle cx="636.7" cy="1373.5" r="2.75"/><circle cx="689.3" cy="1439.2" r="2.75"/><circle cx="626.9" cy="1448.6" r="2.75"/><circle cx="602.2" cy="1505.0" r="2.75"/><circle cx="666.3" cy="1519.0" r="2.75"/><circle cx="686.0" cy="1472.1" r="2.75"/><circle cx="595.6" cy="1317.2" r="2.75"/><circle cx="612.1" cy="1368.8" r="2.75"/><circle cx="610.4" cy="1218.6" r="2.75"/><circle cx="661.4" cy="1326.6" r="2.75"/><circle cx="664.6" cy="1350.1" r="2.75"/><circle cx="623.6" cy="1364.1" r="2.75"/><circle cx="727.1" cy="1345.4" r="2.75"/><circle cx="700.8" cy="1270.3" r="2.75"/><circle cx="738.6" cy="1307.8" r="2.75"/><circle cx="557.8" cy="1279.6" r="2.75"/><circle cx="712.3" cy="1359.4" r="2.75"/><circle cx="766.5" cy="1246.8" r="2.75"/><circle cx="579.2" cy="1270.3" r="2.75"/><circle cx="684.4" cy="1312.5" r="2.75"/><circle cx="574.3" cy="1307.8" r="2.75"/><circle cx="605.5" cy="1321.9" r="2.75"/><circle cx="561.1" cy="1336.0" r="2.75"/><circle cx="602.2" cy="1298.4" r="2.75"/><circle cx="612.1" cy="1354.7" r="2.75"/><circle cx="615.4" cy="1307.8" r="2.75"/><circle cx="746.8" cy="1298.4" r="2.75"/><circle cx="750.1" cy="1223.3" r="2.75"/><circle cx="728.7" cy="1350.1" r="2.75"/><circle cx="674.5" cy="1364.1" r="2.75"/><circle cx="566.1" cy="1364.1" r="2.75"/><circle cx="705.7" cy="1359.4" r="2.75"/><circle cx="544.7" cy="1321.9" r="2.75"/><circle cx="557.8" cy="1265.6" r="2.75"/><circle cx="727.1" cy="1228.0" r="2.75"/><circle cx="644.9" cy="1321.9" r="2.75"/><circle cx="700.8" cy="1368.8" r="2.75"/><circle cx="663.0" cy="1364.1" r="2.75"/><circle cx="695.9" cy="1199.8" r="2.75"/><circle cx="705.7" cy="1359.4" r="2.75"/><circle cx="618.6" cy="1289.0" r="2.75"/><circle cx="674.5" cy="1270.3" r="2.75"/><circle cx="663.0" cy="1336.0" r="2.75"/><circle cx="608.8" cy="1345.4" r="2.75"/><circle cx="623.6" cy="1223.3" r="2.75"/><circle cx="626.9" cy="1270.3" r="2.75"/><circle cx="544.7" cy="1354.7" r="2.75"/><circle cx="764.9" cy="1279.6" r="2.75"/><circle cx="557.8" cy="1312.5" r="2.75"/><circle cx="556.2" cy="1359.4" r="2.75"/><circle cx="684.4" cy="1307.8" r="2.75"/><circle cx="597.3" cy="1345.4" r="2.75"/><circle cx="577.6" cy="1354.7" r="2.75"/><circle cx="654.8" cy="1368.8" r="2.75"/><circle cx="626.9" cy="1331.3" r="2.75"/><circle cx="728.7" cy="1345.4" r="2.75"/><circle cx="567.7" cy="1317.2" r="2.75"/><circle cx="681.1" cy="1368.8" r="2.75"/><circle cx="556.2" cy="1232.7" r="2.75"/><circle cx="597.3" cy="1289.0" r="2.75"/><circle cx="730.4" cy="1293.7" r="2.75"/><circle cx="598.9" cy="1284.3" r="2.75"/><circle cx="761.6" cy="1359.4" r="2.75"/><circle cx="751.7" cy="1204.5" r="2.75"/><circle cx="556.2" cy="1317.2" r="2.75"/><circle cx="748.4" cy="1340.7" r="2.75"/><circle cx="610.4" cy="1364.1" r="2.75"/><circle cx="741.9" cy="1364.1" r="2.75"/><circle cx="562.8" cy="1340.7" r="2.75"/><circle cx="590.7" cy="1340.7" r="2.75"/><circle cx="682.7" cy="1331.3" r="2.75"/><circle cx="566.1" cy="1298.4" r="2.75"/><circle cx="557.8" cy="1317.2" r="2.75"/><circle cx="725.4" cy="1331.3" r="2.75"/><circle cx="728.7" cy="1350.1" r="2.75"/><circle cx="631.8" cy="1350.1" r="2.75"/><circle cx="544.7" cy="1265.6" r="2.75"/><circle cx="664.6" cy="1317.2" r="2.75"/><circle cx="756.7" cy="1284.3" r="2.75"/><circle cx="594.0" cy="1289.0" r="2.75"/><circle cx="653.1" cy="1354.7" r="2.75"/><circle cx="667.9" cy="1345.4" r="2.75"/><circle cx="699.1" cy="1364.1" r="2.75"/><circle cx="556.2" cy="1331.3" r="2.75"/><circle cx="753.4" cy="1359.4" r="2.75"/><circle cx="741.9" cy="1246.8" r="2.75"/><circle cx="764.9" cy="1336.0" r="2.75"/><circle cx="707.4" cy="1354.7" r="2.75"/><circle cx="546.3" cy="1354.7" r="2.75"/><circle cx="562.8" cy="1359.4" r="2.75"/><circle cx="679.4" cy="1260.9" r="2.75"/><circle cx="571.0" cy="1326.6" r="2.75"/><circle cx="575.9" cy="1303.1" r="2.75"/><circle cx="677.8" cy="1359.4" r="2.75"/><circle cx="723.8" cy="1303.1" r="2.75"/><circle cx="575.9" cy="1251.5" r="2.75"/><circle cx="577.6" cy="1345.4" r="2.75"/><circle cx="551.3" cy="1326.6" r="2.75"/><circle cx="697.5" cy="1237.4" r="2.75"/><circle cx="653.1" cy="1260.9" r="2.75"/><circle cx="732.0" cy="1209.2" r="2.75"/><circle cx="725.4" cy="1251.5" r="2.75"/><circle cx="621.9" cy="1354.7" r="2.75"/><circle cx="715.6" cy="1364.1" r="2.75"/><circle cx="764.9" cy="1326.6" r="2.75"/><circle cx="641.6" cy="1345.4" r="2.75"/><circle cx="761.6" cy="1237.4" r="2.75"/><circle cx="741.9" cy="1275.0" r="2.75"/><circle cx="605.5" cy="1199.8" r="2.75"/><circle cx="559.5" cy="1307.8" r="2.75"/><circle cx="758.3" cy="1293.7" r="2.75"/><circle cx="577.6" cy="1321.9" r="2.75"/><circle cx="559.5" cy="1312.5" r="2.75"/><circle cx="562.8" cy="1326.6" r="2.75"/><circle cx="727.1" cy="1331.3" r="2.75"/><circle cx="735.3" cy="1279.6" r="2.75"/><circle cx="643.3" cy="1326.6" r="2.75"/><circle cx="720.5" cy="1364.1" r="2.75"/><circle cx="635.1" cy="1312.5" r="2.75"/><circle cx="646.6" cy="1359.4" r="2.75"/><circle cx="571.0" cy="1364.1" r="2.75"/><circle cx="640.0" cy="1364.1" r="2.75"/><circle cx="730.4" cy="1359.4" r="2.75"/><circle cx="738.6" cy="1307.8" r="2.75"/><circle cx="580.9" cy="1317.2" r="2.75"/><circle cx="732.0" cy="1345.4" r="2.75"/><circle cx="689.3" cy="1312.5" r="2.75"/><circle cx="556.2" cy="1303.1" r="2.75"/><circle cx="641.6" cy="1354.7" r="2.75"/><circle cx="755.0" cy="1246.8" r="2.75"/><circle cx="602.2" cy="1307.8" r="2.75"/><circle cx="669.6" cy="1364.1" r="2.75"/><circle cx="753.4" cy="1336.0" r="2.75"/><circle cx="590.7" cy="1354.7" r="2.75"/><circle cx="551.3" cy="1368.8" r="2.75"/><circle cx="738.6" cy="1260.9" r="2.75"/><circle cx="548.0" cy="1359.4" r="2.75"/><circle cx="600.6" cy="1312.5" r="2.75"/><circle cx="748.4" cy="1307.8" r="2.75"/><circle cx="607.1" cy="1279.6" r="2.75"/><circle cx="608.8" cy="1307.8" r="2.75"/><circle cx="602.2" cy="1275.0" r="2.75"/><circle cx="695.9" cy="1237.4" r="2.75"/><circle cx="621.9" cy="1223.3" r="2.75"/><circle cx="602.2" cy="1312.5" r="2.75"/><circle cx="613.7" cy="1298.4" r="2.75"/><circle cx="552.9" cy="1359.4" r="2.75"/><circle cx="598.9" cy="1307.8" r="2.75"/><circle cx="718.9" cy="1364.1" r="2.75"/><circle cx="713.9" cy="1359.4" r="2.75"/><circle cx="625.2" cy="1350.1" r="2.75"/><circle cx="730.4" cy="1190.5" r="2.75"/><circle cx="763.2" cy="1251.5" r="2.75"/><circle cx="753.4" cy="1307.8" r="2.75"/><circle cx="674.5" cy="1303.1" r="2.75"/><circle cx="630.1" cy="1345.4" r="2.75"/><circle cx="600.6" cy="1312.5" r="2.75"/><circle cx="738.6" cy="1303.1" r="2.75"/><circle cx="595.6" cy="1284.3" r="2.75"/><circle cx="626.9" cy="1368.8" r="2.75"/><circle cx="733.6" cy="1331.3" r="2.75"/><circle cx="659.7" cy="1317.2" r="2.75"/><circle cx="667.9" cy="1307.8" r="2.75"/><circle cx="669.6" cy="1293.7" r="2.75"/><circle cx="597.3" cy="1317.2" r="2.75"/><circle cx="643.3" cy="1359.4" r="2.75"/><circle cx="756.7" cy="1228.0" r="2.75"/><circle cx="672.9" cy="1345.4" r="2.75"/><circle cx="646.6" cy="1321.9" r="2.75"/><circle cx="720.5" cy="1354.7" r="2.75"/><circle cx="595.6" cy="1364.1" r="2.75"/><circle cx="590.7" cy="1345.4" r="2.75"/><circle cx="562.8" cy="1354.7" r="2.75"/><circle cx="582.5" cy="1321.9" r="2.75"/><circle cx="679.4" cy="1303.1" r="2.75"/><circle cx="651.5" cy="1303.1" r="2.75"/><circle cx="552.9" cy="1603.5" r="2.75"/><circle cx="557.8" cy="1547.2" r="2.75"/><circle cx="533.2" cy="1594.1" r="2.75"/><circle cx="571.0" cy="1612.9" r="2.75"/><circle cx="552.9" cy="1603.5" r="2.75"/><circle cx="538.1" cy="1608.2" r="2.75"/><circle cx="541.4" cy="1608.2" r="2.75"/><circle cx="559.5" cy="1566.0" r="2.75"/><circle cx="533.2" cy="1486.2" r="2.75"/><circle cx="548.0" cy="1617.6" r="2.75"/><circle cx="572.6" cy="1617.6" r="2.75"/><circle cx="528.3" cy="1612.9" r="2.75"/><circle cx="525.0" cy="1612.9" r="2.75"/><circle cx="552.9" cy="1622.3" r="2.75"/><circle cx="561.1" cy="1608.2" r="2.75"/><circle cx="552.9" cy="1566.0" r="2.75"/><circle cx="554.6" cy="1612.9" r="2.75"/><circle cx="551.3" cy="1608.2" r="2.75"/><circle cx="528.3" cy="1617.6" r="2.75"/><circle cx="544.7" cy="1612.9" r="2.75"/><circle cx="571.0" cy="1612.9" r="2.75"/><circle cx="548.0" cy="1584.8" r="2.75"/><circle cx="541.4" cy="1551.9" r="2.75"/><circle cx="531.6" cy="1523.7" r="2.75"/><circle cx="557.8" cy="1566.0" r="2.75"/><circle cx="572.6" cy="1551.9" r="2.75"/><circle cx="528.3" cy="1584.8" r="2.75"/><circle cx="571.0" cy="1594.1" r="2.75"/><circle cx="567.7" cy="1612.9" r="2.75"/><circle cx="546.3" cy="1570.7" r="2.75"/><circle cx="531.6" cy="1612.9" r="2.75"/><circle cx="566.1" cy="1556.6" r="2.75"/><circle cx="528.3" cy="1622.3" r="2.75"/><circle cx="551.3" cy="1598.8" r="2.75"/><circle cx="562.8" cy="1617.6" r="2.75"/><circle cx="571.0" cy="1608.2" r="2.75"/><circle cx="552.9" cy="1594.1" r="2.75"/><circle cx="566.1" cy="1542.5" r="2.75"/><circle cx="525.0" cy="1617.6" r="2.75"/><circle cx="538.1" cy="1622.3" r="2.75"/><circle cx="531.6" cy="1584.8" r="2.75"/><circle cx="544.7" cy="1547.2" r="2.75"/><circle cx="552.9" cy="1594.1" r="2.75"/><circle cx="546.3" cy="1537.8" r="2.75"/><circle cx="562.8" cy="1580.1" r="2.75"/><circle cx="571.0" cy="1617.6" r="2.75"/><circle cx="549.6" cy="1603.5" r="2.75"/><circle cx="557.8" cy="1566.0" r="2.75"/><circle cx="544.7" cy="1598.8" r="2.75"/><circle cx="566.1" cy="1617.6" r="2.75"/><circle cx="536.5" cy="1561.3" r="2.75"/><circle cx="543.1" cy="1617.6" r="2.75"/><circle cx="551.3" cy="1617.6" r="2.75"/><circle cx="551.3" cy="1594.1" r="2.75"/><circle cx="569.3" cy="1589.4" r="2.75"/><circle cx="572.6" cy="1608.2" r="2.75"/><circle cx="523.3" cy="1523.7" r="2.75"/><circle cx="536.5" cy="1566.0" r="2.75"/><circle cx="525.0" cy="1570.7" r="2.75"/><circle cx="564.4" cy="1551.9" r="2.75"/><circle cx="525.0" cy="1584.8" r="2.75"/><circle cx="526.6" cy="1584.8" r="2.75"/><circle cx="538.1" cy="1566.0" r="2.75"/><circle cx="554.6" cy="1584.8" r="2.75"/><circle cx="566.1" cy="1594.1" r="2.75"/><circle cx="556.2" cy="1622.3" r="2.75"/><circle cx="534.8" cy="1617.6" r="2.75"/><circle cx="528.3" cy="1556.6" r="2.75"/><circle cx="569.3" cy="1612.9" r="2.75"/><circle cx="548.0" cy="1584.8" r="2.75"/><circle cx="562.8" cy="1598.8" r="2.75"/><circle cx="528.3" cy="1537.8" r="2.75"/><circle cx="534.8" cy="1570.7" r="2.75"/><circle cx="557.8" cy="1547.2" r="2.75"/><circle cx="534.8" cy="1608.2" r="2.75"/><circle cx="561.1" cy="1617.6" r="2.75"/><circle cx="572.6" cy="1603.5" r="2.75"/><circle cx="546.3" cy="1481.5" r="2.75"/><circle cx="548.0" cy="1584.8" r="2.75"/><circle cx="554.6" cy="1575.4" r="2.75"/><circle cx="528.3" cy="1575.4" r="2.75"/><circle cx="549.6" cy="1584.8" r="2.75"/><circle cx="533.2" cy="1594.1" r="2.75"/><circle cx="544.7" cy="1523.7" r="2.75"/><circle cx="529.9" cy="1612.9" r="2.75"/><circle cx="554.6" cy="1556.6" r="2.75"/><circle cx="544.7" cy="1608.2" r="2.75"/><circle cx="564.4" cy="1603.5" r="2.75"/><circle cx="562.8" cy="1589.4" r="2.75"/><circle cx="528.3" cy="1523.7" r="2.75"/><circle cx="529.9" cy="1612.9" r="2.75"/><circle cx="551.3" cy="1589.4" r="2.75"/><circle cx="538.1" cy="1551.9" r="2.75"/><circle cx="562.8" cy="1603.5" r="2.75"/><circle cx="569.3" cy="1603.5" r="2.75"/><circle cx="548.0" cy="1570.7" r="2.75"/><circle cx="543.1" cy="1551.9" r="2.75"/><circle cx="569.3" cy="1551.9" r="2.75"/><circle cx="557.8" cy="1608.2" r="2.75"/><circle cx="541.4" cy="1547.2" r="2.75"/><circle cx="543.1" cy="1589.4" r="2.75"/><circle cx="546.3" cy="1594.1" r="2.75"/><circle cx="548.0" cy="1551.9" r="2.75"/><circle cx="536.5" cy="1542.5" r="2.75"/><circle cx="543.1" cy="1589.4" r="2.75"/><circle cx="544.7" cy="1537.8" r="2.75"/><circle cx="557.8" cy="1608.2" r="2.75"/><circle cx="551.3" cy="1561.3" r="2.75"/><circle cx="528.3" cy="1617.6" r="2.75"/><circle cx="538.1" cy="1589.4" r="2.75"/><circle cx="569.3" cy="1603.5" r="2.75"/><circle cx="531.6" cy="1580.1" r="2.75"/><circle cx="554.6" cy="1570.7" r="2.75"/><circle cx="529.9" cy="1570.7" r="2.75"/><circle cx="525.0" cy="1509.7" r="2.75"/><circle cx="541.4" cy="1612.9" r="2.75"/><circle cx="523.3" cy="1594.1" r="2.75"/><circle cx="525.0" cy="1608.2" r="2.75"/><circle cx="561.1" cy="1566.0" r="2.75"/><circle cx="561.1" cy="1580.1" r="2.75"/><circle cx="216.1" cy="1589.4" r="2.75"/><circle cx="373.8" cy="1547.2" r="2.75"/><circle cx="311.4" cy="1608.2" r="2.75"/><circle cx="364.0" cy="1627.0" r="2.75"/><circle cx="301.5" cy="1556.6" r="2.75"/><circle cx="255.5" cy="1570.7" r="2.75"/><circle cx="201.3" cy="1580.1" r="2.75"/><circle cx="364.0" cy="1603.5" r="2.75"/><circle cx="318.0" cy="1570.7" r="2.75"/><circle cx="171.7" cy="1561.3" r="2.75"/><circle cx="367.3" cy="1570.7" r="2.75"/><circle cx="229.2" cy="1603.5" r="2.75"/><circle cx="336.0" cy="1608.2" r="2.75"/><circle cx="479.0" cy="1575.4" r="2.75"/><circle cx="377.1" cy="1575.4" r="2.75"/><circle cx="357.4" cy="1608.2" r="2.75"/><circle cx="337.7" cy="1622.3" r="2.75"/><circle cx="262.1" cy="1584.8" r="2.75"/><circle cx="365.6" cy="1566.0" r="2.75"/><circle cx="311.4" cy="1575.4" r="2.75"/><circle cx="244.0" cy="1566.0" r="2.75"/><circle cx="308.1" cy="1575.4" r="2.75"/><circle cx="318.0" cy="1608.2" r="2.75"/><circle cx="408.3" cy="1598.8" r="2.75"/><circle cx="293.3" cy="1575.4" r="2.75"/><circle cx="372.2" cy="1542.5" r="2.75"/><circle cx="349.2" cy="1584.8" r="2.75"/><circle cx="257.2" cy="1561.3" r="2.75"/><circle cx="222.7" cy="1570.7" r="2.75"/><circle cx="250.6" cy="1622.3" r="2.75"/><circle cx="230.9" cy="1575.4" r="2.75"/><circle cx="413.3" cy="1612.9" r="2.75"/><circle cx="304.8" cy="1589.4" r="2.75"/><circle cx="206.2" cy="1608.2" r="2.75"/><circle cx="373.8" cy="1617.6" r="2.75"/><circle cx="276.9" cy="1622.3" r="2.75"/><circle cx="262.1" cy="1589.4" r="2.75"/><circle cx="322.9" cy="1575.4" r="2.75"/><circle cx="296.6" cy="1561.3" r="2.75"/><circle cx="291.7" cy="1598.8" r="2.75"/><circle cx="293.3" cy="1561.3" r="2.75"/><circle cx="267.0" cy="1547.2" r="2.75"/><circle cx="378.8" cy="1608.2" r="2.75"/><circle cx="319.6" cy="1580.1" r="2.75"/><circle cx="410.0" cy="1598.8" r="2.75"/><circle cx="464.2" cy="1603.5" r="2.75"/><circle cx="178.3" cy="1617.6" r="2.75"/><circle cx="313.0" cy="1598.8" r="2.75"/><circle cx="206.2" cy="1584.8" r="2.75"/><circle cx="467.5" cy="1575.4" r="2.75"/><circle cx="265.4" cy="1608.2" r="2.75"/><circle cx="288.4" cy="1561.3" r="2.75"/><circle cx="232.5" cy="1561.3" r="2.75"/><circle cx="324.5" cy="1622.3" r="2.75"/><circle cx="334.4" cy="1594.1" r="2.75"/><circle cx="316.3" cy="1612.9" r="2.75"/><circle cx="196.4" cy="1612.9" r="2.75"/><circle cx="364.0" cy="1608.2" r="2.75"/><circle cx="436.3" cy="1580.1" r="2.75"/><circle cx="262.1" cy="1617.6" r="2.75"/><circle cx="262.1" cy="1603.5" r="2.75"/><circle cx="311.4" cy="1584.8" r="2.75"/><circle cx="227.6" cy="1561.3" r="2.75"/><circle cx="183.2" cy="1566.0" r="2.75"/><circle cx="232.5" cy="1584.8" r="2.75"/><circle cx="387.0" cy="1584.8" r="2.75"/><circle cx="309.8" cy="1594.1" r="2.75"/><circle cx="347.5" cy="1561.3" r="2.75"/><circle cx="240.7" cy="1556.6" r="2.75"/><circle cx="382.0" cy="1603.5" r="2.75"/><circle cx="350.8" cy="1584.8" r="2.75"/><circle cx="227.6" cy="1561.3" r="2.75"/><circle cx="199.7" cy="1533.1" r="2.75"/><circle cx="347.5" cy="1584.8" r="2.75"/><circle cx="322.9" cy="1589.4" r="2.75"/><circle cx="229.2" cy="1575.4" r="2.75"/><circle cx="193.1" cy="1580.1" r="2.75"/><circle cx="308.1" cy="1575.4" r="2.75"/><circle cx="171.7" cy="1598.8" r="2.75"/><circle cx="347.5" cy="1566.0" r="2.75"/><circle cx="290.0" cy="1589.4" r="2.75"/><circle cx="299.9" cy="1584.8" r="2.75"/><circle cx="316.3" cy="1561.3" r="2.75"/><circle cx="355.8" cy="1561.3" r="2.75"/><circle cx="232.5" cy="1556.6" r="2.75"/><circle cx="316.3" cy="1556.6" r="2.75"/><circle cx="470.8" cy="1589.4" r="2.75"/><circle cx="186.5" cy="1580.1" r="2.75"/><circle cx="270.3" cy="1594.1" r="2.75"/><circle cx="212.8" cy="1622.3" r="2.75"/><circle cx="457.6" cy="1537.8" r="2.75"/><circle cx="260.5" cy="1598.8" r="2.75"/><circle cx="242.4" cy="1566.0" r="2.75"/><circle cx="352.5" cy="1617.6" r="2.75"/><circle cx="395.2" cy="1617.6" r="2.75"/><circle cx="327.8" cy="1575.4" r="2.75"/><circle cx="306.5" cy="1589.4" r="2.75"/><circle cx="286.8" cy="1542.5" r="2.75"/><circle cx="296.6" cy="1612.9" r="2.75"/><circle cx="267.0" cy="1570.7" r="2.75"/><circle cx="434.6" cy="1566.0" r="2.75"/><circle cx="258.8" cy="1542.5" r="2.75"/><circle cx="339.3" cy="1584.8" r="2.75"/><circle cx="354.1" cy="1566.0" r="2.75"/><circle cx="359.0" cy="1608.2" r="2.75"/><circle cx="281.8" cy="1603.5" r="2.75"/><circle cx="365.6" cy="1570.7" r="2.75"/><circle cx="385.3" cy="1570.7" r="2.75"/><circle cx="349.2" cy="1589.4" r="2.75"/><circle cx="224.3" cy="1584.8" r="2.75"/><circle cx="229.2" cy="1556.6" r="2.75"/><circle cx="201.3" cy="1575.4" r="2.75"/><circle cx="350.8" cy="1594.1" r="2.75"/><circle cx="318.0" cy="1627.0" r="2.75"/><circle cx="424.8" cy="1594.1" r="2.75"/><circle cx="318.0" cy="1594.1" r="2.75"/><circle cx="322.9" cy="1598.8" r="2.75"/><circle cx="380.4" cy="1570.7" r="2.75"/><circle cx="318.0" cy="1570.7" r="2.75"/><circle cx="175.0" cy="1566.0" r="2.75"/><circle cx="216.1" cy="1566.0" r="2.75"/><circle cx="341.0" cy="1584.8" r="2.75"/><circle cx="178.3" cy="1570.7" r="2.75"/><circle cx="336.0" cy="1580.1" r="2.75"/><circle cx="339.3" cy="1594.1" r="2.75"/><circle cx="234.2" cy="1561.3" r="2.75"/><circle cx="309.8" cy="1603.5" r="2.75"/><circle cx="391.9" cy="1589.4" r="2.75"/><circle cx="382.0" cy="1608.2" r="2.75"/><circle cx="265.4" cy="1598.8" r="2.75"/><circle cx="398.5" cy="1561.3" r="2.75"/><circle cx="433.0" cy="1598.8" r="2.75"/><circle cx="273.6" cy="1612.9" r="2.75"/><circle cx="188.2" cy="1584.8" r="2.75"/><circle cx="341.0" cy="1603.5" r="2.75"/><circle cx="383.7" cy="1598.8" r="2.75"/><circle cx="244.0" cy="1589.4" r="2.75"/><circle cx="221.0" cy="1589.4" r="2.75"/><circle cx="437.9" cy="1594.1" r="2.75"/><circle cx="242.4" cy="1575.4" r="2.75"/><circle cx="410.0" cy="1584.8" r="2.75"/><circle cx="362.3" cy="1598.8" r="2.75"/><circle cx="309.8" cy="1627.0" r="2.75"/><circle cx="296.6" cy="1617.6" r="2.75"/><circle cx="288.4" cy="1627.0" r="2.75"/><circle cx="176.7" cy="1594.1" r="2.75"/><circle cx="211.2" cy="1580.1" r="2.75"/><circle cx="186.5" cy="1551.9" r="2.75"/><circle cx="359.0" cy="1584.8" r="2.75"/><circle cx="324.5" cy="1617.6" r="2.75"/><circle cx="224.3" cy="1556.6" r="2.75"/><circle cx="406.7" cy="1561.3" r="2.75"/><circle cx="341.0" cy="1575.4" r="2.75"/><circle cx="380.4" cy="1608.2" r="2.75"/><circle cx="350.8" cy="1603.5" r="2.75"/><circle cx="311.4" cy="1603.5" r="2.75"/><circle cx="176.7" cy="1598.8" r="2.75"/><circle cx="273.6" cy="1575.4" r="2.75"/><circle cx="260.5" cy="1603.5" r="2.75"/><circle cx="173.4" cy="1589.4" r="2.75"/><circle cx="293.3" cy="1575.4" r="2.75"/><circle cx="234.2" cy="1589.4" r="2.75"/><circle cx="242.4" cy="1589.4" r="2.75"/><circle cx="252.2" cy="1580.1" r="2.75"/><circle cx="171.7" cy="1556.6" r="2.75"/><circle cx="332.8" cy="1612.9" r="2.75"/><circle cx="178.3" cy="1584.8" r="2.75"/><circle cx="273.6" cy="1603.5" r="2.75"/><circle cx="314.7" cy="1566.0" r="2.75"/><circle cx="245.7" cy="1603.5" r="2.75"/><circle cx="171.7" cy="1570.7" r="2.75"/><circle cx="329.5" cy="1594.1" r="2.75"/><circle cx="383.7" cy="1584.8" r="2.75"/><circle cx="280.2" cy="1594.1" r="2.75"/><circle cx="316.3" cy="1622.3" r="2.75"/><circle cx="201.3" cy="1617.6" r="2.75"/><circle cx="382.0" cy="1584.8" r="2.75"/><circle cx="311.4" cy="1580.1" r="2.75"/><circle cx="230.9" cy="1598.8" r="2.75"/><circle cx="447.8" cy="1584.8" r="2.75"/><circle cx="237.5" cy="1589.4" r="2.75"/><circle cx="175.0" cy="1575.4" r="2.75"/><circle cx="193.1" cy="1556.6" r="2.75"/><circle cx="321.3" cy="1603.5" r="2.75"/><circle cx="272.0" cy="1622.3" r="2.75"/><circle cx="370.5" cy="1612.9" r="2.75"/><circle cx="242.4" cy="1617.6" r="2.75"/><circle cx="288.4" cy="1598.8" r="2.75"/><circle cx="281.8" cy="1594.1" r="2.75"/><circle cx="286.8" cy="1575.4" r="2.75"/><circle cx="308.1" cy="1575.4" r="2.75"/><circle cx="373.8" cy="1594.1" r="2.75"/><circle cx="219.4" cy="1589.4" r="2.75"/><circle cx="319.6" cy="1598.8" r="2.75"/><circle cx="345.9" cy="1566.0" r="2.75"/><circle cx="329.5" cy="1589.4" r="2.75"/><circle cx="469.1" cy="1612.9" r="2.75"/><circle cx="278.5" cy="1612.9" r="2.75"/><circle cx="400.1" cy="1594.1" r="2.75"/><circle cx="329.5" cy="1575.4" r="2.75"/><circle cx="395.2" cy="1617.6" r="2.75"/><circle cx="452.7" cy="1622.3" r="2.75"/><circle cx="377.1" cy="1570.7" r="2.75"/><circle cx="260.5" cy="1584.8" r="2.75"/><circle cx="324.5" cy="1556.6" r="2.75"/><circle cx="249.0" cy="1580.1" r="2.75"/><circle cx="319.6" cy="1575.4" r="2.75"/><circle cx="291.7" cy="1580.1" r="2.75"/><circle cx="306.5" cy="1580.1" r="2.75"/><circle cx="423.1" cy="1617.6" r="2.75"/><circle cx="199.7" cy="1589.4" r="2.75"/><circle cx="359.0" cy="1561.3" r="2.75"/><circle cx="219.4" cy="1608.2" r="2.75"/><circle cx="332.8" cy="1580.1" r="2.75"/><circle cx="337.7" cy="1580.1" r="2.75"/><circle cx="321.3" cy="1612.9" r="2.75"/><circle cx="304.8" cy="1566.0" r="2.75"/><circle cx="342.6" cy="1584.8" r="2.75"/><circle cx="354.1" cy="1533.1" r="2.75"/><circle cx="252.2" cy="1556.6" r="2.75"/><circle cx="385.3" cy="1584.8" r="2.75"/><circle cx="364.0" cy="1570.7" r="2.75"/><circle cx="258.8" cy="1566.0" r="2.75"/><circle cx="252.2" cy="1622.3" r="2.75"/><circle cx="206.2" cy="1584.8" r="2.75"/><circle cx="196.4" cy="1608.2" r="2.75"/><circle cx="319.6" cy="1603.5" r="2.75"/><circle cx="332.8" cy="1580.1" r="2.75"/><circle cx="388.6" cy="1612.9" r="2.75"/><circle cx="229.2" cy="1542.5" r="2.75"/><circle cx="273.6" cy="1547.2" r="2.75"/><circle cx="295.0" cy="1603.5" r="2.75"/><circle cx="413.3" cy="1589.4" r="2.75"/><circle cx="367.3" cy="1589.4" r="2.75"/><circle cx="268.7" cy="1561.3" r="2.75"/><circle cx="329.5" cy="1598.8" r="2.75"/><circle cx="276.9" cy="1589.4" r="2.75"/><circle cx="245.7" cy="1570.7" r="2.75"/><circle cx="373.8" cy="1589.4" r="2.75"/><circle cx="329.5" cy="1542.5" r="2.75"/><circle cx="345.9" cy="1598.8" r="2.75"/><circle cx="171.7" cy="1612.9" r="2.75"/><circle cx="309.8" cy="1598.8" r="2.75"/><circle cx="176.7" cy="1584.8" r="2.75"/><circle cx="313.0" cy="1608.2" r="2.75"/><circle cx="222.7" cy="1580.1" r="2.75"/><circle cx="465.8" cy="1584.8" r="2.75"/><circle cx="400.1" cy="1598.8" r="2.75"/><circle cx="299.9" cy="1566.0" r="2.75"/><circle cx="393.5" cy="1594.1" r="2.75"/><circle cx="329.5" cy="1556.6" r="2.75"/><circle cx="265.4" cy="1570.7" r="2.75"/><circle cx="222.7" cy="1589.4" r="2.75"/><circle cx="170.1" cy="1594.1" r="2.75"/><circle cx="295.0" cy="1551.9" r="2.75"/><circle cx="235.8" cy="1608.2" r="2.75"/><circle cx="385.3" cy="1603.5" r="2.75"/><circle cx="368.9" cy="1570.7" r="2.75"/><circle cx="410.0" cy="1598.8" r="2.75"/><circle cx="457.6" cy="1575.4" r="2.75"/><circle cx="332.8" cy="1570.7" r="2.75"/><circle cx="331.1" cy="1580.1" r="2.75"/><circle cx="405.0" cy="1589.4" r="2.75"/><circle cx="318.0" cy="1575.4" r="2.75"/><circle cx="244.0" cy="1608.2" r="2.75"/><circle cx="327.8" cy="1566.0" r="2.75"/><circle cx="342.6" cy="1570.7" r="2.75"/><circle cx="408.3" cy="1561.3" r="2.75"/><circle cx="382.0" cy="1598.8" r="2.75"/><circle cx="454.3" cy="1580.1" r="2.75"/><circle cx="336.0" cy="1584.8" r="2.75"/><circle cx="181.6" cy="1603.5" r="2.75"/><circle cx="357.4" cy="1617.6" r="2.75"/><circle cx="240.7" cy="1603.5" r="2.75"/><circle cx="237.5" cy="1580.1" r="2.75"/><circle cx="250.6" cy="1603.5" r="2.75"/><circle cx="181.6" cy="1608.2" r="2.75"/><circle cx="306.5" cy="1575.4" r="2.75"/><circle cx="250.6" cy="1570.7" r="2.75"/><circle cx="181.6" cy="1556.6" r="2.75"/><circle cx="375.5" cy="1575.4" r="2.75"/><circle cx="334.4" cy="1594.1" r="2.75"/><circle cx="203.0" cy="1566.0" r="2.75"/><circle cx="345.9" cy="1561.3" r="2.75"/><circle cx="324.5" cy="1603.5" r="2.75"/><circle cx="316.3" cy="1603.5" r="2.75"/><circle cx="222.7" cy="1622.3" r="2.75"/><circle cx="250.6" cy="1570.7" r="2.75"/><circle cx="380.4" cy="1556.6" r="2.75"/><circle cx="257.2" cy="1622.3" r="2.75"/><circle cx="327.8" cy="1580.1" r="2.75"/><circle cx="341.0" cy="1584.8" r="2.75"/><circle cx="258.8" cy="1570.7" r="2.75"/><circle cx="262.1" cy="1598.8" r="2.75"/><circle cx="206.2" cy="1575.4" r="2.75"/><circle cx="308.1" cy="1580.1" r="2.75"/><circle cx="193.1" cy="1617.6" r="2.75"/><circle cx="183.2" cy="1580.1" r="2.75"/><circle cx="188.2" cy="1580.1" r="2.75"/><circle cx="355.8" cy="1608.2" r="2.75"/><circle cx="268.7" cy="1617.6" r="2.75"/><circle cx="355.8" cy="1608.2" r="2.75"/><circle cx="355.8" cy="1598.8" r="2.75"/><circle cx="235.8" cy="1570.7" r="2.75"/><circle cx="370.5" cy="1561.3" r="2.75"/><circle cx="311.4" cy="1612.9" r="2.75"/><circle cx="290.0" cy="1603.5" r="2.75"/><circle cx="311.4" cy="1542.5" r="2.75"/><circle cx="460.9" cy="1622.3" r="2.75"/><circle cx="283.5" cy="1580.1" r="2.75"/><circle cx="173.4" cy="1561.3" r="2.75"/><circle cx="273.6" cy="1594.1" r="2.75"/><circle cx="180.0" cy="1627.0" r="2.75"/><circle cx="245.7" cy="1594.1" r="2.75"/><circle cx="344.3" cy="1589.4" r="2.75"/><circle cx="324.5" cy="1584.8" r="2.75"/><circle cx="286.8" cy="1561.3" r="2.75"/><circle cx="296.6" cy="1594.1" r="2.75"/><circle cx="434.6" cy="1612.9" r="2.75"/><circle cx="326.2" cy="1617.6" r="2.75"/><circle cx="235.8" cy="1580.1" r="2.75"/><circle cx="339.3" cy="1575.4" r="2.75"/><circle cx="267.0" cy="1584.8" r="2.75"/><circle cx="216.1" cy="1556.6" r="2.75"/><circle cx="365.6" cy="1622.3" r="2.75"/><circle cx="224.3" cy="1514.3" r="2.75"/><circle cx="349.2" cy="1584.8" r="2.75"/><circle cx="337.7" cy="1598.8" r="2.75"/><circle cx="263.8" cy="1589.4" r="2.75"/><circle cx="332.8" cy="1598.8" r="2.75"/><circle cx="350.8" cy="1570.7" r="2.75"/><circle cx="339.3" cy="1561.3" r="2.75"/><circle cx="253.9" cy="1594.1" r="2.75"/><circle cx="227.6" cy="1612.9" r="2.75"/><circle cx="329.5" cy="1566.0" r="2.75"/><circle cx="288.4" cy="1612.9" r="2.75"/><circle cx="173.4" cy="1570.7" r="2.75"/><circle cx="309.8" cy="1519.0" r="2.75"/><circle cx="234.2" cy="1622.3" r="2.75"/><circle cx="191.5" cy="1617.6" r="2.75"/><circle cx="355.8" cy="1589.4" r="2.75"/><circle cx="331.1" cy="1594.1" r="2.75"/><circle cx="260.5" cy="1589.4" r="2.75"/><circle cx="216.1" cy="1608.2" r="2.75"/><circle cx="431.3" cy="1556.6" r="2.75"/><circle cx="211.2" cy="1575.4" r="2.75"/><circle cx="296.6" cy="1566.0" r="2.75"/><circle cx="188.2" cy="1584.8" r="2.75"/><circle cx="380.4" cy="1561.3" r="2.75"/><circle cx="326.2" cy="1594.1" r="2.75"/><circle cx="209.5" cy="1603.5" r="2.75"/><circle cx="352.5" cy="1622.3" r="2.75"/><circle cx="234.2" cy="1566.0" r="2.75"/><circle cx="245.7" cy="1622.3" r="2.75"/><circle cx="188.2" cy="1589.4" r="2.75"/><circle cx="288.4" cy="1584.8" r="2.75"/><circle cx="360.7" cy="1584.8" r="2.75"/><circle cx="224.3" cy="1580.1" r="2.75"/><circle cx="293.3" cy="1584.8" r="2.75"/><circle cx="329.5" cy="1594.1" r="2.75"/><circle cx="304.8" cy="1594.1" r="2.75"/><circle cx="186.5" cy="1542.5" r="2.75"/><circle cx="344.3" cy="1575.4" r="2.75"/><circle cx="219.4" cy="1608.2" r="2.75"/><circle cx="303.2" cy="1594.1" r="2.75"/><circle cx="196.4" cy="1589.4" r="2.75"/><circle cx="293.3" cy="1575.4" r="2.75"/><circle cx="199.7" cy="1589.4" r="2.75"/><circle cx="385.3" cy="1622.3" r="2.75"/><circle cx="355.8" cy="1561.3" r="2.75"/><circle cx="391.9" cy="1617.6" r="2.75"/><circle cx="408.3" cy="1561.3" r="2.75"/><circle cx="171.7" cy="1584.8" r="2.75"/><circle cx="344.3" cy="1589.4" r="2.75"/><circle cx="258.8" cy="1598.8" r="2.75"/><circle cx="459.3" cy="1575.4" r="2.75"/><circle cx="467.5" cy="1584.8" r="2.75"/><circle cx="175.0" cy="1589.4" r="2.75"/><circle cx="240.7" cy="1566.0" r="2.75"/><circle cx="334.4" cy="1575.4" r="2.75"/><circle cx="250.6" cy="1598.8" r="2.75"/><circle cx="201.3" cy="1622.3" r="2.75"/><circle cx="349.2" cy="1612.9" r="2.75"/><circle cx="334.4" cy="1594.1" r="2.75"/><circle cx="224.3" cy="1589.4" r="2.75"/><circle cx="285.1" cy="1622.3" r="2.75"/><circle cx="327.8" cy="1570.7" r="2.75"/><circle cx="247.3" cy="1589.4" r="2.75"/><circle cx="329.5" cy="1594.1" r="2.75"/><circle cx="380.4" cy="1594.1" r="2.75"/><circle cx="308.1" cy="1575.4" r="2.75"/><circle cx="411.6" cy="1566.0" r="2.75"/><circle cx="226.0" cy="1598.8" r="2.75"/><circle cx="245.7" cy="1556.6" r="2.75"/><circle cx="341.0" cy="1612.9" r="2.75"/><circle cx="301.5" cy="1603.5" r="2.75"/><circle cx="424.8" cy="1580.1" r="2.75"/><circle cx="296.6" cy="1584.8" r="2.75"/><circle cx="189.8" cy="1570.7" r="2.75"/><circle cx="250.6" cy="1589.4" r="2.75"/><circle cx="222.7" cy="1603.5" r="2.75"/><circle cx="255.5" cy="1589.4" r="2.75"/><circle cx="350.8" cy="1594.1" r="2.75"/><circle cx="278.5" cy="1608.2" r="2.75"/><circle cx="475.7" cy="1589.4" r="2.75"/><circle cx="193.1" cy="1551.9" r="2.75"/><circle cx="410.0" cy="1589.4" r="2.75"/><circle cx="272.0" cy="1566.0" r="2.75"/><circle cx="441.2" cy="1575.4" r="2.75"/><circle cx="377.1" cy="1594.1" r="2.75"/><circle cx="221.0" cy="1575.4" r="2.75"/><circle cx="337.7" cy="1566.0" r="2.75"/><circle cx="176.7" cy="1566.0" r="2.75"/><circle cx="194.7" cy="1570.7" r="2.75"/><circle cx="181.6" cy="1589.4" r="2.75"/><circle cx="347.5" cy="1594.1" r="2.75"/><circle cx="280.2" cy="1598.8" r="2.75"/><circle cx="239.1" cy="1570.7" r="2.75"/><circle cx="403.4" cy="1589.4" r="2.75"/><circle cx="265.4" cy="1612.9" r="2.75"/><circle cx="226.0" cy="1570.7" r="2.75"/><circle cx="327.8" cy="1556.6" r="2.75"/><circle cx="180.0" cy="1622.3" r="2.75"/><circle cx="301.5" cy="1561.3" r="2.75"/><circle cx="336.0" cy="1547.2" r="2.75"/><circle cx="201.3" cy="1594.1" r="2.75"/><circle cx="283.5" cy="1617.6" r="2.75"/><circle cx="283.5" cy="1622.3" r="2.75"/><circle cx="290.0" cy="1612.9" r="2.75"/><circle cx="173.4" cy="1598.8" r="2.75"/><circle cx="189.8" cy="1537.8" r="2.75"/><circle cx="227.6" cy="1509.7" r="2.75"/><circle cx="188.2" cy="1490.9" r="2.75"/><circle cx="193.1" cy="1547.2" r="2.75"/><circle cx="181.6" cy="1415.8" r="2.75"/><circle cx="201.3" cy="1382.9" r="2.75"/><circle cx="278.5" cy="1275.0" r="2.75"/><circle cx="229.2" cy="1251.5" r="2.75"/><circle cx="178.3" cy="1523.7" r="2.75"/><circle cx="267.0" cy="1490.9" r="2.75"/><circle cx="239.1" cy="1434.5" r="2.75"/><circle cx="221.0" cy="1542.5" r="2.75"/><circle cx="227.6" cy="1490.9" r="2.75"/><circle cx="311.4" cy="1528.4" r="2.75"/><circle cx="326.2" cy="1453.3" r="2.75"/><circle cx="235.8" cy="1420.5" r="2.75"/><circle cx="275.3" cy="1537.8" r="2.75"/><circle cx="406.7" cy="1542.5" r="2.75"/><circle cx="258.8" cy="1500.3" r="2.75"/><circle cx="224.3" cy="1500.3" r="2.75"/><circle cx="194.7" cy="1368.8" r="2.75"/><circle cx="189.8" cy="1514.3" r="2.75"/><circle cx="198.0" cy="1345.4" r="2.75"/><circle cx="370.5" cy="1537.8" r="2.75"/><circle cx="226.0" cy="1392.3" r="2.75"/><circle cx="255.5" cy="1472.1" r="2.75"/><circle cx="176.7" cy="1425.2" r="2.75"/><circle cx="209.5" cy="1476.8" r="2.75"/><circle cx="214.5" cy="1495.6" r="2.75"/><circle cx="222.7" cy="1439.2" r="2.75"/><circle cx="226.0" cy="1542.5" r="2.75"/><circle cx="209.5" cy="1439.2" r="2.75"/><circle cx="258.8" cy="1519.0" r="2.75"/><circle cx="186.5" cy="1415.8" r="2.75"/><circle cx="391.9" cy="1218.6" r="2.75"/><circle cx="193.1" cy="1486.2" r="2.75"/><circle cx="194.7" cy="1317.2" r="2.75"/><circle cx="234.2" cy="1547.2" r="2.75"/><circle cx="224.3" cy="1472.1" r="2.75"/><circle cx="222.7" cy="1443.9" r="2.75"/><circle cx="237.5" cy="1523.7" r="2.75"/><circle cx="178.3" cy="1415.8" r="2.75"/><circle cx="207.9" cy="1434.5" r="2.75"/><circle cx="216.1" cy="1519.0" r="2.75"/><circle cx="207.9" cy="1467.4" r="2.75"/><circle cx="296.6" cy="1293.7" r="2.75"/><circle cx="227.6" cy="1514.3" r="2.75"/><circle cx="204.6" cy="1331.3" r="2.75"/><circle cx="180.0" cy="1542.5" r="2.75"/><circle cx="227.6" cy="1434.5" r="2.75"/><circle cx="237.5" cy="1495.6" r="2.75"/><circle cx="267.0" cy="1514.3" r="2.75"/><circle cx="191.5" cy="1246.8" r="2.75"/><circle cx="198.0" cy="1547.2" r="2.75"/><circle cx="240.7" cy="1364.1" r="2.75"/><circle cx="219.4" cy="1458.0" r="2.75"/><circle cx="347.5" cy="1547.2" r="2.75"/><circle cx="209.5" cy="1490.9" r="2.75"/><circle cx="212.8" cy="1401.7" r="2.75"/><circle cx="227.6" cy="1378.2" r="2.75"/><circle cx="253.9" cy="1472.1" r="2.75"/><circle cx="178.3" cy="1270.3" r="2.75"/><circle cx="188.2" cy="1293.7" r="2.75"/><circle cx="244.0" cy="1458.0" r="2.75"/><circle cx="227.6" cy="1514.3" r="2.75"/><circle cx="204.6" cy="1279.6" r="2.75"/><circle cx="365.6" cy="1458.0" r="2.75"/><circle cx="198.0" cy="1495.6" r="2.75"/><circle cx="229.2" cy="1500.3" r="2.75"/><circle cx="219.4" cy="1547.2" r="2.75"/><circle cx="178.3" cy="1462.7" r="2.75"/><circle cx="286.8" cy="1279.6" r="2.75"/><circle cx="196.4" cy="1490.9" r="2.75"/><circle cx="224.3" cy="1542.5" r="2.75"/><circle cx="265.4" cy="1514.3" r="2.75"/><circle cx="189.8" cy="1523.7" r="2.75"/><circle cx="219.4" cy="1378.2" r="2.75"/><circle cx="191.5" cy="1387.6" r="2.75"/><circle cx="173.4" cy="1429.9" r="2.75"/><circle cx="230.9" cy="1246.8" r="2.75"/><circle cx="194.7" cy="1340.7" r="2.75"/><circle cx="207.9" cy="1547.2" r="2.75"/><circle cx="222.7" cy="1505.0" r="2.75"/><circle cx="189.8" cy="1528.4" r="2.75"/><circle cx="230.9" cy="1486.2" r="2.75"/><circle cx="212.8" cy="1364.1" r="2.75"/><circle cx="212.8" cy="1523.7" r="2.75"/><circle cx="181.6" cy="1523.7" r="2.75"/><circle cx="211.2" cy="1514.3" r="2.75"/><circle cx="288.4" cy="1350.1" r="2.75"/><circle cx="245.7" cy="1336.0" r="2.75"/><circle cx="214.5" cy="1425.2" r="2.75"/><circle cx="242.4" cy="1505.0" r="2.75"/><circle cx="247.3" cy="1458.0" r="2.75"/><circle cx="230.9" cy="1528.4" r="2.75"/><circle cx="180.0" cy="1307.8" r="2.75"/><circle cx="184.9" cy="1500.3" r="2.75"/><circle cx="199.7" cy="1481.5" r="2.75"/><circle cx="181.6" cy="1439.2" r="2.75"/><circle cx="237.5" cy="1490.9" r="2.75"/><circle cx="267.0" cy="1495.6" r="2.75"/><circle cx="198.0" cy="1354.7" r="2.75"/><circle cx="249.0" cy="1251.5" r="2.75"/><circle cx="201.3" cy="1537.8" r="2.75"/><circle cx="196.4" cy="1401.7" r="2.75"/><circle cx="230.9" cy="1411.1" r="2.75"/><circle cx="244.0" cy="1251.5" r="2.75"/><circle cx="206.2" cy="1312.5" r="2.75"/><circle cx="217.7" cy="1406.4" r="2.75"/><circle cx="186.5" cy="1523.7" r="2.75"/><circle cx="171.7" cy="1453.3" r="2.75"/><circle cx="211.2" cy="1425.2" r="2.75"/><circle cx="226.0" cy="1523.7" r="2.75"/><circle cx="216.1" cy="1547.2" r="2.75"/><circle cx="239.1" cy="1373.5" r="2.75"/><circle cx="257.2" cy="1523.7" r="2.75"/><circle cx="244.0" cy="1528.4" r="2.75"/><circle cx="183.2" cy="1486.2" r="2.75"/><circle cx="380.4" cy="1411.1" r="2.75"/><circle cx="176.7" cy="1458.0" r="2.75"/><circle cx="189.8" cy="1373.5" r="2.75"/><circle cx="253.9" cy="1392.3" r="2.75"/><circle cx="286.8" cy="1458.0" r="2.75"/><circle cx="250.6" cy="1387.6" r="2.75"/><circle cx="365.6" cy="1443.9" r="2.75"/><circle cx="203.0" cy="1476.8" r="2.75"/><circle cx="224.3" cy="1523.7" r="2.75"/><circle cx="368.9" cy="1495.6" r="2.75"/><circle cx="229.2" cy="1472.1" r="2.75"/><circle cx="198.0" cy="1476.8" r="2.75"/><circle cx="227.6" cy="1251.5" r="2.75"/><circle cx="249.0" cy="1401.7" r="2.75"/><circle cx="184.9" cy="1199.8" r="2.75"/><circle cx="209.5" cy="1547.2" r="2.75"/><circle cx="258.8" cy="1392.3" r="2.75"/><circle cx="245.7" cy="1415.8" r="2.75"/><circle cx="216.1" cy="1397.0" r="2.75"/><circle cx="203.0" cy="1481.5" r="2.75"/><circle cx="232.5" cy="1509.7" r="2.75"/><circle cx="296.6" cy="1406.4" r="2.75"/><circle cx="222.7" cy="1547.2" r="2.75"/><circle cx="244.0" cy="1453.3" r="2.75"/><circle cx="201.3" cy="1443.9" r="2.75"/><circle cx="237.5" cy="1401.7" r="2.75"/><circle cx="239.1" cy="1495.6" r="2.75"/><circle cx="181.6" cy="1528.4" r="2.75"/><circle cx="283.5" cy="1495.6" r="2.75"/><circle cx="232.5" cy="1439.2" r="2.75"/><circle cx="242.4" cy="1519.0" r="2.75"/><circle cx="337.7" cy="1439.2" r="2.75"/><circle cx="173.4" cy="1406.4" r="2.75"/><circle cx="286.8" cy="1336.0" r="2.75"/><circle cx="413.3" cy="1209.2" r="2.75"/><circle cx="198.0" cy="1350.1" r="2.75"/><circle cx="217.7" cy="1523.7" r="2.75"/><circle cx="198.0" cy="1397.0" r="2.75"/><circle cx="372.2" cy="1406.4" r="2.75"/><circle cx="226.0" cy="1359.4" r="2.75"/><circle cx="184.9" cy="1509.7" r="2.75"/><circle cx="234.2" cy="1528.4" r="2.75"/><circle cx="234.2" cy="1448.6" r="2.75"/><circle cx="268.7" cy="1533.1" r="2.75"/><circle cx="206.2" cy="1425.2" r="2.75"/><circle cx="303.2" cy="1509.7" r="2.75"/><circle cx="196.4" cy="1514.3" r="2.75"/><circle cx="191.5" cy="1199.8" r="2.75"/><circle cx="178.3" cy="1476.8" r="2.75"/><circle cx="221.0" cy="1542.5" r="2.75"/><circle cx="291.7" cy="1537.8" r="2.75"/><circle cx="249.0" cy="1467.4" r="2.75"/><circle cx="272.0" cy="1476.8" r="2.75"/><circle cx="217.7" cy="1336.0" r="2.75"/><circle cx="227.6" cy="1345.4" r="2.75"/><circle cx="188.2" cy="1486.2" r="2.75"/><circle cx="242.4" cy="1415.8" r="2.75"/><circle cx="367.3" cy="1443.9" r="2.75"/><circle cx="354.1" cy="1472.1" r="2.75"/><circle cx="201.3" cy="1364.1" r="2.75"/><circle cx="385.3" cy="1420.5" r="2.75"/><circle cx="413.3" cy="1350.1" r="2.75"/><circle cx="229.2" cy="1472.1" r="2.75"/><circle cx="303.2" cy="1265.6" r="2.75"/><circle cx="214.5" cy="1528.4" r="2.75"/><circle cx="217.7" cy="1434.5" r="2.75"/><circle cx="211.2" cy="1533.1" r="2.75"/><circle cx="226.0" cy="1350.1" r="2.75"/><circle cx="242.4" cy="1486.2" r="2.75"/><circle cx="224.3" cy="1476.8" r="2.75"/><circle cx="180.0" cy="1387.6" r="2.75"/><circle cx="183.2" cy="1547.2" r="2.75"/><circle cx="203.0" cy="1256.2" r="2.75"/><circle cx="217.7" cy="1373.5" r="2.75"/><circle cx="229.2" cy="1481.5" r="2.75"/><circle cx="322.9" cy="1467.4" r="2.75"/><circle cx="250.6" cy="1443.9" r="2.75"/><circle cx="267.0" cy="1505.0" r="2.75"/><circle cx="219.4" cy="1509.7" r="2.75"/><circle cx="212.8" cy="1476.8" r="2.75"/><circle cx="242.4" cy="1378.2" r="2.75"/><circle cx="229.2" cy="1368.8" r="2.75"/><circle cx="288.4" cy="1542.5" r="2.75"/><circle cx="347.5" cy="1434.5" r="2.75"/><circle cx="186.5" cy="1472.1" r="2.75"/><circle cx="181.6" cy="1490.9" r="2.75"/><circle cx="204.6" cy="1382.9" r="2.75"/><circle cx="222.7" cy="1434.5" r="2.75"/><circle cx="237.5" cy="1495.6" r="2.75"/><circle cx="250.6" cy="1307.8" r="2.75"/><circle cx="230.9" cy="1326.6" r="2.75"/><circle cx="224.3" cy="1472.1" r="2.75"/><circle cx="188.2" cy="1354.7" r="2.75"/><circle cx="288.4" cy="1486.2" r="2.75"/><circle cx="184.9" cy="1275.0" r="2.75"/><circle cx="242.4" cy="1256.2" r="2.75"/><circle cx="262.1" cy="1523.7" r="2.75"/><circle cx="299.9" cy="1467.4" r="2.75"/><circle cx="184.9" cy="1317.2" r="2.75"/><circle cx="232.5" cy="1505.0" r="2.75"/><circle cx="262.1" cy="1514.3" r="2.75"/><circle cx="265.4" cy="1345.4" r="2.75"/><circle cx="199.7" cy="1523.7" r="2.75"/><circle cx="408.3" cy="1321.9" r="2.75"/><circle cx="221.0" cy="1519.0" r="2.75"/><circle cx="207.9" cy="1542.5" r="2.75"/><circle cx="278.5" cy="1505.0" r="2.75"/><circle cx="239.1" cy="1472.1" r="2.75"/><circle cx="181.6" cy="1542.5" r="2.75"/><circle cx="229.2" cy="1434.5" r="2.75"/><circle cx="252.2" cy="1514.3" r="2.75"/><circle cx="175.0" cy="1448.6" r="2.75"/><circle cx="219.4" cy="1537.8" r="2.75"/><circle cx="201.3" cy="1519.0" r="2.75"/><circle cx="250.6" cy="1537.8" r="2.75"/><circle cx="207.9" cy="1472.1" r="2.75"/><circle cx="249.0" cy="1514.3" r="2.75"/><circle cx="408.3" cy="1523.7" r="2.75"/><circle cx="199.7" cy="1509.7" r="2.75"/><circle cx="222.7" cy="1528.4" r="2.75"/><circle cx="388.6" cy="1415.8" r="2.75"/><circle cx="303.2" cy="1472.1" r="2.75"/><circle cx="171.7" cy="1495.6" r="2.75"/><circle cx="240.7" cy="1448.6" r="2.75"/><circle cx="232.5" cy="1462.7" r="2.75"/><circle cx="263.8" cy="1448.6" r="2.75"/><circle cx="249.0" cy="1547.2" r="2.75"/><circle cx="173.4" cy="1533.1" r="2.75"/><circle cx="242.4" cy="1537.8" r="2.75"/><circle cx="370.5" cy="1368.8" r="2.75"/><circle cx="212.8" cy="1415.8" r="2.75"/><circle cx="194.7" cy="1509.7" r="2.75"/><circle cx="355.8" cy="1481.5" r="2.75"/><circle cx="390.3" cy="1321.9" r="2.75"/><circle cx="212.8" cy="1434.5" r="2.75"/><circle cx="219.4" cy="1321.9" r="2.75"/><circle cx="403.4" cy="1542.5" r="2.75"/><circle cx="184.9" cy="1528.4" r="2.75"/><circle cx="267.0" cy="1354.7" r="2.75"/><circle cx="199.7" cy="1331.3" r="2.75"/><circle cx="219.4" cy="1542.5" r="2.75"/><circle cx="209.5" cy="1542.5" r="2.75"/><circle cx="181.6" cy="1509.7" r="2.75"/><circle cx="171.7" cy="1486.2" r="2.75"/><circle cx="198.0" cy="1270.3" r="2.75"/><circle cx="198.0" cy="1439.2" r="2.75"/><circle cx="240.7" cy="1312.5" r="2.75"/><circle cx="239.1" cy="1467.4" r="2.75"/><circle cx="370.5" cy="1373.5" r="2.75"/><circle cx="255.5" cy="1401.7" r="2.75"/><circle cx="234.2" cy="1307.8" r="2.75"/><circle cx="188.2" cy="1345.4" r="2.75"/><circle cx="267.0" cy="1519.0" r="2.75"/><circle cx="206.2" cy="1453.3" r="2.75"/><circle cx="170.1" cy="1533.1" r="2.75"/><circle cx="398.5" cy="1237.4" r="2.75"/><circle cx="253.9" cy="1340.7" r="2.75"/><circle cx="239.1" cy="1382.9" r="2.75"/><circle cx="299.9" cy="1486.2" r="2.75"/><circle cx="171.7" cy="1425.2" r="2.75"/><circle cx="203.0" cy="1509.7" r="2.75"/><circle cx="250.6" cy="1490.9" r="2.75"/><circle cx="198.0" cy="1336.0" r="2.75"/><circle cx="244.0" cy="1251.5" r="2.75"/><circle cx="242.4" cy="1350.1" r="2.75"/><circle cx="178.3" cy="1251.5" r="2.75"/><circle cx="183.2" cy="1542.5" r="2.75"/><circle cx="186.5" cy="1467.4" r="2.75"/><circle cx="180.0" cy="1505.0" r="2.75"/><circle cx="181.6" cy="1472.1" r="2.75"/><circle cx="206.2" cy="1523.7" r="2.75"/><circle cx="173.4" cy="1528.4" r="2.75"/><circle cx="326.2" cy="1289.0" r="2.75"/><circle cx="344.3" cy="1190.5" r="2.75"/><circle cx="301.5" cy="1326.6" r="2.75"/><circle cx="262.1" cy="1289.0" r="2.75"/><circle cx="252.2" cy="1181.1" r="2.75"/><circle cx="209.5" cy="1336.0" r="2.75"/><circle cx="283.5" cy="1289.0" r="2.75"/><circle cx="383.7" cy="1246.8" r="2.75"/><circle cx="239.1" cy="1265.6" r="2.75"/><circle cx="372.2" cy="1345.4" r="2.75"/><circle cx="339.3" cy="1317.2" r="2.75"/><circle cx="349.2" cy="1284.3" r="2.75"/><circle cx="253.9" cy="1340.7" r="2.75"/><circle cx="350.8" cy="1326.6" r="2.75"/><circle cx="247.3" cy="1340.7" r="2.75"/><circle cx="285.1" cy="1298.4" r="2.75"/><circle cx="390.3" cy="1298.4" r="2.75"/><circle cx="367.3" cy="1228.0" r="2.75"/><circle cx="344.3" cy="1242.1" r="2.75"/><circle cx="380.4" cy="1265.6" r="2.75"/><circle cx="355.8" cy="1303.1" r="2.75"/><circle cx="226.0" cy="1279.6" r="2.75"/><circle cx="295.0" cy="1284.3" r="2.75"/><circle cx="244.0" cy="1336.0" r="2.75"/><circle cx="301.5" cy="1265.6" r="2.75"/><circle cx="347.5" cy="1293.7" r="2.75"/><circle cx="176.7" cy="1303.1" r="2.75"/><circle cx="344.3" cy="1307.8" r="2.75"/><circle cx="354.1" cy="1340.7" r="2.75"/><circle cx="360.7" cy="1307.8" r="2.75"/><circle cx="401.8" cy="1528.4" r="2.75"/><circle cx="511.8" cy="1570.7" r="2.75"/><circle cx="528.3" cy="1561.3" r="2.75"/><circle cx="472.4" cy="1350.1" r="2.75"/><circle cx="464.2" cy="1608.2" r="2.75"/><circle cx="464.2" cy="1537.8" r="2.75"/><circle cx="433.0" cy="1608.2" r="2.75"/><circle cx="477.3" cy="1608.2" r="2.75"/><circle cx="511.8" cy="1598.8" r="2.75"/><circle cx="437.9" cy="1364.1" r="2.75"/><circle cx="433.0" cy="1603.5" r="2.75"/><circle cx="520.1" cy="1608.2" r="2.75"/><circle cx="487.2" cy="1551.9" r="2.75"/><circle cx="464.2" cy="1617.6" r="2.75"/><circle cx="483.9" cy="1627.0" r="2.75"/><circle cx="442.8" cy="1551.9" r="2.75"/><circle cx="502.0" cy="1523.7" r="2.75"/><circle cx="538.1" cy="1392.3" r="2.75"/><circle cx="511.8" cy="1584.8" r="2.75"/><circle cx="533.2" cy="1500.3" r="2.75"/><circle cx="429.7" cy="1350.1" r="2.75"/><circle cx="502.0" cy="1617.6" r="2.75"/><circle cx="413.3" cy="1453.3" r="2.75"/><circle cx="477.3" cy="1345.4" r="2.75"/><circle cx="459.3" cy="1580.1" r="2.75"/><circle cx="437.9" cy="1627.0" r="2.75"/><circle cx="464.2" cy="1401.7" r="2.75"/><circle cx="413.3" cy="1556.6" r="2.75"/><circle cx="451.1" cy="1594.1" r="2.75"/><circle cx="480.6" cy="1401.7" r="2.75"/><circle cx="410.0" cy="1617.6" r="2.75"/><circle cx="411.6" cy="1490.9" r="2.75"/><circle cx="401.8" cy="1589.4" r="2.75"/><circle cx="456.0" cy="1603.5" r="2.75"/><circle cx="502.0" cy="1594.1" r="2.75"/><circle cx="451.1" cy="1551.9" r="2.75"/><circle cx="508.6" cy="1561.3" r="2.75"/><circle cx="437.9" cy="1514.3" r="2.75"/><circle cx="508.6" cy="1603.5" r="2.75"/><circle cx="421.5" cy="1406.4" r="2.75"/><circle cx="401.8" cy="1406.4" r="2.75"/><circle cx="505.3" cy="1594.1" r="2.75"/><circle cx="492.1" cy="1439.2" r="2.75"/><circle cx="464.2" cy="1603.5" r="2.75"/><circle cx="539.8" cy="1566.0" r="2.75"/><circle cx="488.8" cy="1528.4" r="2.75"/><circle cx="536.5" cy="1387.6" r="2.75"/><circle cx="456.0" cy="1411.1" r="2.75"/><circle cx="436.3" cy="1364.1" r="2.75"/><circle cx="457.6" cy="1566.0" r="2.75"/><circle cx="423.1" cy="1575.4" r="2.75"/><circle cx="529.9" cy="1486.2" r="2.75"/><circle cx="531.6" cy="1443.9" r="2.75"/><circle cx="490.5" cy="1580.1" r="2.75"/><circle cx="446.1" cy="1612.9" r="2.75"/><circle cx="529.9" cy="1364.1" r="2.75"/><circle cx="523.3" cy="1584.8" r="2.75"/><circle cx="433.0" cy="1594.1" r="2.75"/><circle cx="459.3" cy="1533.1" r="2.75"/><circle cx="405.0" cy="1589.4" r="2.75"/><circle cx="418.2" cy="1551.9" r="2.75"/><circle cx="533.2" cy="1415.8" r="2.75"/><circle cx="436.3" cy="1434.5" r="2.75"/><circle cx="502.0" cy="1523.7" r="2.75"/><circle cx="503.6" cy="1547.2" r="2.75"/><circle cx="503.6" cy="1495.6" r="2.75"/><circle cx="456.0" cy="1594.1" r="2.75"/><circle cx="480.6" cy="1434.5" r="2.75"/><circle cx="419.8" cy="1373.5" r="2.75"/><circle cx="411.6" cy="1566.0" r="2.75"/><circle cx="426.4" cy="1598.8" r="2.75"/><circle cx="406.7" cy="1622.3" r="2.75"/><circle cx="465.8" cy="1622.3" r="2.75"/><circle cx="526.6" cy="1537.8" r="2.75"/><circle cx="467.5" cy="1608.2" r="2.75"/><circle cx="488.8" cy="1589.4" r="2.75"/><circle cx="511.8" cy="1453.3" r="2.75"/><circle cx="475.7" cy="1584.8" r="2.75"/><circle cx="429.7" cy="1561.3" r="2.75"/><circle cx="429.7" cy="1528.4" r="2.75"/><circle cx="414.9" cy="1589.4" r="2.75"/><circle cx="538.1" cy="1622.3" r="2.75"/><circle cx="498.7" cy="1584.8" r="2.75"/><circle cx="520.1" cy="1448.6" r="2.75"/><circle cx="487.2" cy="1589.4" r="2.75"/><circle cx="416.5" cy="1505.0" r="2.75"/><circle cx="411.6" cy="1612.9" r="2.75"/><circle cx="442.8" cy="1429.9" r="2.75"/><circle cx="477.3" cy="1598.8" r="2.75"/><circle cx="459.3" cy="1561.3" r="2.75"/><circle cx="446.1" cy="1575.4" r="2.75"/><circle cx="516.8" cy="1594.1" r="2.75"/><circle cx="513.5" cy="1439.2" r="2.75"/><circle cx="428.1" cy="1505.0" r="2.75"/><circle cx="451.1" cy="1476.8" r="2.75"/><circle cx="495.4" cy="1542.5" r="2.75"/><circle cx="418.2" cy="1617.6" r="2.75"/><circle cx="469.1" cy="1589.4" r="2.75"/><circle cx="447.8" cy="1556.6" r="2.75"/><circle cx="446.1" cy="1556.6" r="2.75"/><circle cx="437.9" cy="1406.4" r="2.75"/><circle cx="495.4" cy="1575.4" r="2.75"/><circle cx="536.5" cy="1575.4" r="2.75"/><circle cx="474.1" cy="1598.8" r="2.75"/><circle cx="413.3" cy="1533.1" r="2.75"/><circle cx="401.8" cy="1556.6" r="2.75"/><circle cx="487.2" cy="1425.2" r="2.75"/><circle cx="534.8" cy="1458.0" r="2.75"/><circle cx="428.1" cy="1575.4" r="2.75"/><circle cx="442.8" cy="1580.1" r="2.75"/><circle cx="405.0" cy="1472.1" r="2.75"/><circle cx="447.8" cy="1612.9" r="2.75"/><circle cx="465.8" cy="1566.0" r="2.75"/><circle cx="454.3" cy="1584.8" r="2.75"/><circle cx="474.1" cy="1392.3" r="2.75"/><circle cx="467.5" cy="1415.8" r="2.75"/><circle cx="492.1" cy="1570.7" r="2.75"/><circle cx="521.7" cy="1542.5" r="2.75"/><circle cx="482.3" cy="1490.9" r="2.75"/><circle cx="479.0" cy="1570.7" r="2.75"/><circle cx="441.2" cy="1612.9" r="2.75"/><circle cx="454.3" cy="1580.1" r="2.75"/><circle cx="436.3" cy="1561.3" r="2.75"/><circle cx="470.8" cy="1387.6" r="2.75"/><circle cx="423.1" cy="1397.0" r="2.75"/><circle cx="459.3" cy="1382.9" r="2.75"/><circle cx="414.9" cy="1584.8" r="2.75"/><circle cx="525.0" cy="1533.1" r="2.75"/><circle cx="429.7" cy="1382.9" r="2.75"/><circle cx="437.9" cy="1580.1" r="2.75"/><circle cx="472.4" cy="1575.4" r="2.75"/><circle cx="534.8" cy="1523.7" r="2.75"/><circle cx="534.8" cy="1584.8" r="2.75"/><circle cx="436.3" cy="1556.6" r="2.75"/><circle cx="410.0" cy="1397.0" r="2.75"/><circle cx="534.8" cy="1566.0" r="2.75"/><circle cx="516.8" cy="1627.0" r="2.75"/><circle cx="459.3" cy="1570.7" r="2.75"/><circle cx="447.8" cy="1575.4" r="2.75"/><circle cx="457.6" cy="1622.3" r="2.75"/><circle cx="513.5" cy="1598.8" r="2.75"/><circle cx="513.5" cy="1434.5" r="2.75"/><circle cx="429.7" cy="1378.2" r="2.75"/><circle cx="523.3" cy="1598.8" r="2.75"/><circle cx="439.6" cy="1575.4" r="2.75"/><circle cx="423.1" cy="1594.1" r="2.75"/><circle cx="477.3" cy="1608.2" r="2.75"/><circle cx="470.8" cy="1537.8" r="2.75"/><circle cx="516.8" cy="1617.6" r="2.75"/><circle cx="456.0" cy="1429.9" r="2.75"/><circle cx="214.5" cy="1486.2" r="2.75"/><circle cx="211.2" cy="1467.4" r="2.75"/><circle cx="211.2" cy="1472.1" r="2.75"/><circle cx="229.2" cy="1439.2" r="2.75"/><circle cx="217.7" cy="1472.1" r="2.75"/><circle cx="191.5" cy="1462.7" r="2.75"/><circle cx="242.4" cy="1443.9" r="2.75"/><circle cx="199.7" cy="1490.9" r="2.75"/><circle cx="193.1" cy="1453.3" r="2.75"/><circle cx="199.7" cy="1439.2" r="2.75"/><circle cx="219.4" cy="1439.2" r="2.75"/><circle cx="216.1" cy="1458.0" r="2.75"/><circle cx="207.9" cy="1453.3" r="2.75"/><circle cx="212.8" cy="1486.2" r="2.75"/><circle cx="214.5" cy="1458.0" r="2.75"/><circle cx="206.2" cy="1472.1" r="2.75"/><circle cx="203.0" cy="1467.4" r="2.75"/><circle cx="217.7" cy="1505.0" r="2.75"/><circle cx="216.1" cy="1472.1" r="2.75"/><circle cx="221.0" cy="1472.1" r="2.75"/><circle cx="206.2" cy="1505.0" r="2.75"/><circle cx="224.3" cy="1500.3" r="2.75"/><circle cx="234.2" cy="1467.4" r="2.75"/><circle cx="191.5" cy="1458.0" r="2.75"/><circle cx="255.5" cy="1453.3" r="2.75"/><circle cx="227.6" cy="1453.3" r="2.75"/><circle cx="207.9" cy="1458.0" r="2.75"/><circle cx="214.5" cy="1509.7" r="2.75"/><circle cx="201.3" cy="1481.5" r="2.75"/><circle cx="230.9" cy="1462.7" r="2.75"/><circle cx="219.4" cy="1462.7" r="2.75"/><circle cx="193.1" cy="1448.6" r="2.75"/><circle cx="207.9" cy="1486.2" r="2.75"/><circle cx="212.8" cy="1458.0" r="2.75"/><circle cx="219.4" cy="1490.9" r="2.75"/><circle cx="216.1" cy="1462.7" r="2.75"/><circle cx="214.5" cy="1462.7" r="2.75"/><circle cx="214.5" cy="1472.1" r="2.75"/><circle cx="221.0" cy="1472.1" r="2.75"/><circle cx="209.5" cy="1443.9" r="2.75"/><circle cx="201.3" cy="1453.3" r="2.75"/><circle cx="209.5" cy="1453.3" r="2.75"/><circle cx="226.0" cy="1500.3" r="2.75"/><circle cx="206.2" cy="1472.1" r="2.75"/><circle cx="204.6" cy="1472.1" r="2.75"/><circle cx="753.4" cy="1551.9" r="2.75"/><circle cx="764.9" cy="1519.0" r="2.75"/><circle cx="766.5" cy="1467.4" r="2.75"/><circle cx="763.2" cy="1331.3" r="2.75"/><circle cx="758.3" cy="1476.8" r="2.75"/><circle cx="751.7" cy="1373.5" r="2.75"/><circle cx="746.8" cy="1612.9" r="2.75"/><circle cx="766.5" cy="1439.2" r="2.75"/><circle cx="746.8" cy="1509.7" r="2.75"/><circle cx="746.8" cy="1307.8" r="2.75"/><circle cx="745.1" cy="1453.3" r="2.75"/><circle cx="746.8" cy="1528.4" r="2.75"/><circle cx="753.4" cy="1523.7" r="2.75"/><circle cx="763.2" cy="1589.4" r="2.75"/><circle cx="761.6" cy="1505.0" r="2.75"/><circle cx="768.2" cy="1415.8" r="2.75"/><circle cx="758.3" cy="1364.1" r="2.75"/><circle cx="756.7" cy="1373.5" r="2.75"/><circle cx="753.4" cy="1321.9" r="2.75"/><circle cx="753.4" cy="1317.2" r="2.75"/><circle cx="758.3" cy="1594.1" r="2.75"/><circle cx="746.8" cy="1547.2" r="2.75"/><circle cx="750.1" cy="1584.8" r="2.75"/><circle cx="755.0" cy="1537.8" r="2.75"/><circle cx="751.7" cy="1575.4" r="2.75"/><circle cx="759.9" cy="1551.9" r="2.75"/><circle cx="753.4" cy="1617.6" r="2.75"/><circle cx="748.4" cy="1570.7" r="2.75"/><circle cx="751.7" cy="1303.1" r="2.75"/><circle cx="755.0" cy="1443.9" r="2.75"/><circle cx="746.8" cy="1490.9" r="2.75"/><circle cx="766.5" cy="1514.3" r="2.75"/><circle cx="758.3" cy="1420.5" r="2.75"/><circle cx="746.8" cy="1434.5" r="2.75"/><circle cx="751.7" cy="1584.8" r="2.75"/><circle cx="746.8" cy="1575.4" r="2.75"/><circle cx="759.9" cy="1303.1" r="2.75"/><circle cx="758.3" cy="1434.5" r="2.75"/><circle cx="758.3" cy="1500.3" r="2.75"/><circle cx="761.6" cy="1336.0" r="2.75"/><circle cx="755.0" cy="1556.6" r="2.75"/><circle cx="758.3" cy="1617.6" r="2.75"/><circle cx="755.0" cy="1439.2" r="2.75"/><circle cx="755.0" cy="1603.5" r="2.75"/><circle cx="761.6" cy="1472.1" r="2.75"/><circle cx="759.9" cy="1566.0" r="2.75"/><circle cx="753.4" cy="1622.3" r="2.75"/><circle cx="753.4" cy="1481.5" r="2.75"/><circle cx="753.4" cy="1467.4" r="2.75"/><circle cx="761.6" cy="1561.3" r="2.75"/><circle cx="751.7" cy="1467.4" r="2.75"/><circle cx="748.4" cy="1561.3" r="2.75"/><circle cx="748.4" cy="1345.4" r="2.75"/><circle cx="759.9" cy="1580.1" r="2.75"/><circle cx="756.7" cy="1580.1" r="2.75"/><circle cx="751.7" cy="1331.3" r="2.75"/><circle cx="761.6" cy="1598.8" r="2.75"/><circle cx="763.2" cy="1490.9" r="2.75"/><circle cx="759.9" cy="1556.6" r="2.75"/><circle cx="758.3" cy="1317.2" r="2.75"/>
</g>
<rect x="157.3" y="1545.6" width="683.8" height="97" fill="none" stroke="#0000E0" stroke-width="2.2"/>
<rect x="541.8" y="1359.6" width="212" height="379" fill="none" stroke="#0000E0" stroke-width="2.2"/>
<rect x="142.1" y="1134.6" width="658.2" height="516.2" fill="none" stroke="#000" stroke-width="2.1"/>
<line x1="136" x2="142.1" y1="1627.00" y2="1627.00" stroke="#333" stroke-width="2"/>
<text transform="translate(132.5,1638.30) scale(1,1.1)" font-family="'Liberation Sans', Arial, sans-serif" font-size="30" fill="#4D4D4D" text-anchor="end">0</text>
<line x1="136" x2="142.1" y1="1509.65" y2="1509.65" stroke="#333" stroke-width="2"/>
<text transform="translate(132.5,1520.95) scale(1,1.1)" font-family="'Liberation Sans', Arial, sans-serif" font-size="30" fill="#4D4D4D" text-anchor="end">25</text>
<line x1="136" x2="142.1" y1="1392.30" y2="1392.30" stroke="#333" stroke-width="2"/>
<text transform="translate(132.5,1403.60) scale(1,1.1)" font-family="'Liberation Sans', Arial, sans-serif" font-size="30" fill="#4D4D4D" text-anchor="end">50</text>
<line x1="136" x2="142.1" y1="1274.95" y2="1274.95" stroke="#333" stroke-width="2"/>
<text transform="translate(132.5,1286.25) scale(1,1.1)" font-family="'Liberation Sans', Arial, sans-serif" font-size="30" fill="#4D4D4D" text-anchor="end">75</text>
<line x1="136" x2="142.1" y1="1157.60" y2="1157.60" stroke="#333" stroke-width="2"/>
<text transform="translate(132.5,1168.90) scale(1,1.1)" font-family="'Liberation Sans', Arial, sans-serif" font-size="30" fill="#4D4D4D" text-anchor="end">100</text>
<line x1="170.10" x2="170.10" y1="1650.8" y2="1657" stroke="#333" stroke-width="2"/>
<text transform="translate(180.30,1661.8) rotate(-90) scale(1,1.1)" font-family="'Liberation Sans', Arial, sans-serif" font-size="30" fill="#4D4D4D" text-anchor="end">Jan</text>
<line x1="221.03" x2="221.03" y1="1650.8" y2="1657" stroke="#333" stroke-width="2"/>
<text transform="translate(231.23,1661.8) rotate(-90) scale(1,1.1)" font-family="'Liberation Sans', Arial, sans-serif" font-size="30" fill="#4D4D4D" text-anchor="end">Feb</text>
<line x1="267.04" x2="267.04" y1="1650.8" y2="1657" stroke="#333" stroke-width="2"/>
<text transform="translate(277.24,1661.8) rotate(-90) scale(1,1.1)" font-family="'Liberation Sans', Arial, sans-serif" font-size="30" fill="#4D4D4D" text-anchor="end">Mar</text>
<line x1="317.97" x2="317.97" y1="1650.8" y2="1657" stroke="#333" stroke-width="2"/>
<text transform="translate(328.17,1661.8) rotate(-90) scale(1,1.1)" font-family="'Liberation Sans', Arial, sans-serif" font-size="30" fill="#4D4D4D" text-anchor="end">Apr</text>
<line x1="367.26" x2="367.26" y1="1650.8" y2="1657" stroke="#333" stroke-width="2"/>
<text transform="translate(377.46,1661.8) rotate(-90) scale(1,1.1)" font-family="'Liberation Sans', Arial, sans-serif" font-size="30" fill="#4D4D4D" text-anchor="end">May</text>
<line x1="418.19" x2="418.19" y1="1650.8" y2="1657" stroke="#333" stroke-width="2"/>
<text transform="translate(428.39,1661.8) rotate(-90) scale(1,1.1)" font-family="'Liberation Sans', Arial, sans-serif" font-size="30" fill="#4D4D4D" text-anchor="end">Jun</text>
<line x1="467.48" x2="467.48" y1="1650.8" y2="1657" stroke="#333" stroke-width="2"/>
<text transform="translate(477.68,1661.8) rotate(-90) scale(1,1.1)" font-family="'Liberation Sans', Arial, sans-serif" font-size="30" fill="#4D4D4D" text-anchor="end">Jul</text>
<line x1="518.42" x2="518.42" y1="1650.8" y2="1657" stroke="#333" stroke-width="2"/>
<text transform="translate(528.62,1661.8) rotate(-90) scale(1,1.1)" font-family="'Liberation Sans', Arial, sans-serif" font-size="30" fill="#4D4D4D" text-anchor="end">Aug</text>
<line x1="569.35" x2="569.35" y1="1650.8" y2="1657" stroke="#333" stroke-width="2"/>
<text transform="translate(579.55,1661.8) rotate(-90) scale(1,1.1)" font-family="'Liberation Sans', Arial, sans-serif" font-size="30" fill="#4D4D4D" text-anchor="end">Sep</text>
<line x1="618.64" x2="618.64" y1="1650.8" y2="1657" stroke="#333" stroke-width="2"/>
<text transform="translate(628.84,1661.8) rotate(-90) scale(1,1.1)" font-family="'Liberation Sans', Arial, sans-serif" font-size="30" fill="#4D4D4D" text-anchor="end">Oct</text>
<line x1="669.57" x2="669.57" y1="1650.8" y2="1657" stroke="#333" stroke-width="2"/>
<text transform="translate(679.77,1661.8) rotate(-90) scale(1,1.1)" font-family="'Liberation Sans', Arial, sans-serif" font-size="30" fill="#4D4D4D" text-anchor="end">Nov</text>
<line x1="718.86" x2="718.86" y1="1650.8" y2="1657" stroke="#333" stroke-width="2"/>
<text transform="translate(729.06,1661.8) rotate(-90) scale(1,1.1)" font-family="'Liberation Sans', Arial, sans-serif" font-size="30" fill="#4D4D4D" text-anchor="end">Dec</text>
<line x1="769.80" x2="769.80" y1="1650.8" y2="1657" stroke="#333" stroke-width="2"/>
<text transform="translate(780.00,1661.8) rotate(-90) scale(1,1.1)" font-family="'Liberation Sans', Arial, sans-serif" font-size="30" fill="#4D4D4D" text-anchor="end">Jan</text>
<text transform="translate(421.5,1762.4) scale(1,1.07)" font-family="'Liberation Sans', Arial, sans-serif" font-size="34.2">Month</text>
<text transform="translate(74.6,1397) rotate(-90) scale(1,1.1)" font-family="'Liberation Sans', Arial, sans-serif" font-size="36.5" text-anchor="middle">Age</text>
<text x="454.5" y="1066.9" font-family="'DejaVu Sans', sans-serif" font-weight="bold" font-size="38.5" text-anchor="middle">Distribution of influenza A virus</text>
<text x="453.4" y="1114.6" font-family="'DejaVu Sans', sans-serif" font-weight="bold" font-size="38.5" text-anchor="middle">by age and month</text>
<text transform="translate(-4.5,1065.3) scale(1,1.05)" font-family="'Liberation Sans', Arial, sans-serif" font-size="61">B</text>
<circle cx="184.3" cy="1811.3" r="5.3" fill="#DDDDDD" stroke="#C8C8C8" stroke-width="1"/>
<text transform="translate(195.8,1820.6) scale(1,1.06)" font-family="'Liberation Sans', Arial, sans-serif" font-size="29.75">Influenza A virus case</text>
<text x="517.8" y="1801" font-family="'Liberation Sans', Arial, sans-serif" font-size="19">Distribution density</text>
<text x="503" y="1829.3" font-family="'Liberation Sans', Arial, sans-serif" font-size="18">Low</text>
<text x="658.5" y="1828" font-family="'Liberation Sans', Arial, sans-serif" font-size="18.5">High</text>
<defs><linearGradient id="gd" x1="0" x2="1" y1="0" y2="0"><stop offset="0" stop-color="#FFFF00"/><stop offset="0.5" stop-color="#FFA500"/><stop offset="1" stop-color="#FF0000"/></linearGradient></defs>
<rect x="540.8" y="1811.3" width="115" height="23" fill="url(#gd)"/>
<defs><linearGradient id="gw" x1="0" x2="0" y1="0" y2="1"><stop offset="0" stop-color="#fff" stop-opacity="0.45"/><stop offset="0.35" stop-color="#fff" stop-opacity="0"/></linearGradient></defs>
<rect x="540.8" y="1811.3" width="115" height="23" fill="url(#gw)"/>
<line x1="560.5" x2="560.5" y1="1811.3" y2="1815" stroke="#fff" stroke-width="1"/>
<line x1="592.7" x2="592.7" y1="1811.3" y2="1815" stroke="#fff" stroke-width="1"/>
<line x1="623.4" x2="623.4" y1="1811.3" y2="1815" stroke="#fff" stroke-width="1"/>
<polyline fill="none" stroke="#5BBBD5" stroke-width="1.9" stroke-linejoin="round" points="1056.1,1629.3 1079.7,1629.3 1102.4,1629.3 1126.0,1629.3 1149.5,1629.3 1170.8,1629.3 1194.3,1629.3 1217.1,1629.3 1240.7,1629.3 1263.4,1629.3 1287.0,1629.3 1310.5,1629.3 1333.3,1629.3 1356.8,1545.1 1379.6,1442.9 1403.2,1613.0 1426.7,1611.2 1448.0,1590.4 1471.5,1594.9 1494.3,1585.0 1517.8,1568.7 1540.6,1582.2 1564.2,1418.4 1587.7,1480.0 1610.5,1513.5 1634.0,1480.0 1656.8,1461.0 1680.4,1545.1 1703.9,1611.2 1725.2,1613.0 1748.7,1583.1 1771.5,1622.1 1795.0,1623.9 1817.8,1590.4 1841.3,1594.9 1864.9,1420.2 1887.7,1390.4 1911.2,1430.2 1934.0,1415.7 1957.5,1480.0 1981.1,1548.8 2003.1,1486.3 2026.6,1498.1"/>
<polyline fill="none" stroke="#C80000" stroke-width="1.9" stroke-linejoin="round" points="1033.3,1317.1 1056.1,1423.9 1079.7,1444.7 1102.4,1436.5 1126.0,1435.6 1149.5,1451.0 1170.8,1520.7 1194.3,1537.9 1217.1,1462.8 1240.7,1403.0 1263.4,1462.8 1287.0,1445.6 1310.5,1460.1 1333.3,1532.5 1356.8,1576.8 1379.6,1496.3 1403.2,1279.1 1426.7,1436.5 1448.0,1587.7 1471.5,1547.8 1494.3,1475.4 1517.8,1292.6 1540.6,1289.9 1564.2,1488.1 1587.7,1558.7 1610.5,1565.0 1634.0,1401.2 1656.8,1370.5 1680.4,1496.3 1703.9,1475.4 1725.2,1523.4 1748.7,1440.2 1771.5,1336.1 1795.0,1337.0 1817.8,1376.8 1841.3,1453.7 1864.9,1548.8 1887.7,1601.2 1911.2,1598.5 1934.0,1529.8 1957.5,1421.1 1981.1,1374.1 2003.1,1529.8 2026.6,1584.0"/>
<rect x="996.7" y="1154.0" width="1046.7" height="498.1" fill="none" stroke="#000" stroke-width="2.1"/>
<line x1="991.5" x2="996.7" y1="1629.30" y2="1629.30" stroke="#333" stroke-width="2"/>
<text transform="translate(989,1639.90) scale(1,1.1)" font-family="'Liberation Sans', Arial, sans-serif" font-size="27.3" fill="#4D4D4D" text-anchor="end">0</text>
<line x1="991.5" x2="996.7" y1="1538.80" y2="1538.80" stroke="#333" stroke-width="2"/>
<text transform="translate(989,1549.40) scale(1,1.1)" font-family="'Liberation Sans', Arial, sans-serif" font-size="27.3" fill="#4D4D4D" text-anchor="end">10</text>
<line x1="991.5" x2="996.7" y1="1448.30" y2="1448.30" stroke="#333" stroke-width="2"/>
<text transform="translate(989,1458.90) scale(1,1.1)" font-family="'Liberation Sans', Arial, sans-serif" font-size="27.3" fill="#4D4D4D" text-anchor="end">20</text>
<line x1="991.5" x2="996.7" y1="1357.80" y2="1357.80" stroke="#333" stroke-width="2"/>
<text transform="translate(989,1368.40) scale(1,1.1)" font-family="'Liberation Sans', Arial, sans-serif" font-size="27.3" fill="#4D4D4D" text-anchor="end">30</text>
<line x1="991.5" x2="996.7" y1="1267.30" y2="1267.30" stroke="#333" stroke-width="2"/>
<text transform="translate(989,1277.90) scale(1,1.1)" font-family="'Liberation Sans', Arial, sans-serif" font-size="27.3" fill="#4D4D4D" text-anchor="end">40</text>
<line x1="991.5" x2="996.7" y1="1176.80" y2="1176.80" stroke="#333" stroke-width="2"/>
<text transform="translate(989,1187.40) scale(1,1.1)" font-family="'Liberation Sans', Arial, sans-serif" font-size="27.3" fill="#4D4D4D" text-anchor="end">50</text>
<line x1="1009.80" x2="1009.80" y1="1652.1" y2="1657.3" stroke="#333" stroke-width="2"/>
<line x1="1033.34" x2="1033.34" y1="1652.1" y2="1657.3" stroke="#333" stroke-width="2"/>
<text transform="translate(1038.34,1661.7) rotate(-90)" font-family="'DejaVu Sans', sans-serif" font-size="23.5" fill="#4D4D4D" text-anchor="end">sep</text>
<line x1="1056.12" x2="1056.12" y1="1652.1" y2="1657.3" stroke="#333" stroke-width="2"/>
<text transform="translate(1061.12,1661.7) rotate(-90)" font-family="'DejaVu Sans', sans-serif" font-size="23.5" fill="#4D4D4D" text-anchor="end">oct</text>
<line x1="1079.66" x2="1079.66" y1="1652.1" y2="1657.3" stroke="#333" stroke-width="2"/>
<text transform="translate(1084.66,1661.7) rotate(-90)" font-family="'DejaVu Sans', sans-serif" font-size="23.5" fill="#4D4D4D" text-anchor="end">nov</text>
<line x1="1102.45" x2="1102.45" y1="1652.1" y2="1657.3" stroke="#333" stroke-width="2"/>
<text transform="translate(1107.45,1661.7) rotate(-90)" font-family="'DejaVu Sans', sans-serif" font-size="23.5" fill="#4D4D4D" text-anchor="end">dec</text>
<line x1="1125.99" x2="1125.99" y1="1652.1" y2="1657.3" stroke="#333" stroke-width="2"/>
<text transform="translate(1130.99,1661.7) rotate(-90)" font-family="'DejaVu Sans', sans-serif" font-size="23.5" fill="#4D4D4D" text-anchor="end">jan</text>
<line x1="1149.53" x2="1149.53" y1="1652.1" y2="1657.3" stroke="#333" stroke-width="2"/>
<text transform="translate(1154.53,1661.7) rotate(-90)" font-family="'DejaVu Sans', sans-serif" font-size="23.5" fill="#4D4D4D" text-anchor="end">feb</text>
<line x1="1170.79" x2="1170.79" y1="1652.1" y2="1657.3" stroke="#333" stroke-width="2"/>
<text transform="translate(1175.79,1661.7) rotate(-90)" font-family="'DejaVu Sans', sans-serif" font-size="23.5" fill="#4D4D4D" text-anchor="end">mar</text>
<line x1="1194.33" x2="1194.33" y1="1652.1" y2="1657.3" stroke="#333" stroke-width="2"/>
<text transform="translate(1199.33,1661.7) rotate(-90)" font-family="'DejaVu Sans', sans-serif" font-size="23.5" fill="#4D4D4D" text-anchor="end">apr</text>
<line x1="1217.12" x2="1217.12" y1="1652.1" y2="1657.3" stroke="#333" stroke-width="2"/>
<text transform="translate(1222.12,1661.7) rotate(-90)" font-family="'DejaVu Sans', sans-serif" font-size="23.5" fill="#4D4D4D" text-anchor="end">may</text>
<line x1="1240.66" x2="1240.66" y1="1652.1" y2="1657.3" stroke="#333" stroke-width="2"/>
<text transform="translate(1245.66,1661.7) rotate(-90)" font-family="'DejaVu Sans', sans-serif" font-size="23.5" fill="#4D4D4D" text-anchor="end">jun</text>
<line x1="1263.44" x2="1263.44" y1="1652.1" y2="1657.3" stroke="#333" stroke-width="2"/>
<text transform="translate(1268.44,1661.7) rotate(-90)" font-family="'DejaVu Sans', sans-serif" font-size="23.5" fill="#4D4D4D" text-anchor="end">jul</text>
<line x1="1286.98" x2="1286.98" y1="1652.1" y2="1657.3" stroke="#333" stroke-width="2"/>
<text transform="translate(1291.98,1661.7) rotate(-90)" font-family="'DejaVu Sans', sans-serif" font-size="23.5" fill="#4D4D4D" text-anchor="end">aug</text>
<line x1="1310.52" x2="1310.52" y1="1652.1" y2="1657.3" stroke="#333" stroke-width="2"/>
<text transform="translate(1315.52,1661.7) rotate(-90)" font-family="'DejaVu Sans', sans-serif" font-size="23.5" fill="#4D4D4D" text-anchor="end">sep</text>
<line x1="1333.30" x2="1333.30" y1="1652.1" y2="1657.3" stroke="#333" stroke-width="2"/>
<text transform="translate(1338.30,1661.7) rotate(-90)" font-family="'DejaVu Sans', sans-serif" font-size="23.5" fill="#4D4D4D" text-anchor="end">oct</text>
<line x1="1356.85" x2="1356.85" y1="1652.1" y2="1657.3" stroke="#333" stroke-width="2"/>
<text transform="translate(1361.85,1661.7) rotate(-90)" font-family="'DejaVu Sans', sans-serif" font-size="23.5" fill="#4D4D4D" text-anchor="end">nov</text>
<line x1="1379.63" x2="1379.63" y1="1652.1" y2="1657.3" stroke="#333" stroke-width="2"/>
<text transform="translate(1384.63,1661.7) rotate(-90)" font-family="'DejaVu Sans', sans-serif" font-size="23.5" fill="#4D4D4D" text-anchor="end">dec</text>
<line x1="1403.17" x2="1403.17" y1="1652.1" y2="1657.3" stroke="#333" stroke-width="2"/>
<text transform="translate(1408.17,1661.7) rotate(-90)" font-family="'DejaVu Sans', sans-serif" font-size="23.5" fill="#4D4D4D" text-anchor="end">jan</text>
<line x1="1426.71" x2="1426.71" y1="1652.1" y2="1657.3" stroke="#333" stroke-width="2"/>
<text transform="translate(1431.71,1661.7) rotate(-90)" font-family="'DejaVu Sans', sans-serif" font-size="23.5" fill="#4D4D4D" text-anchor="end">feb</text>
<line x1="1447.97" x2="1447.97" y1="1652.1" y2="1657.3" stroke="#333" stroke-width="2"/>
<text transform="translate(1452.97,1661.7) rotate(-90)" font-family="'DejaVu Sans', sans-serif" font-size="23.5" fill="#4D4D4D" text-anchor="end">mar</text>
<line x1="1471.52" x2="1471.52" y1="1652.1" y2="1657.3" stroke="#333" stroke-width="2"/>
<text transform="translate(1476.52,1661.7) rotate(-90)" font-family="'DejaVu Sans', sans-serif" font-size="23.5" fill="#4D4D4D" text-anchor="end">apr</text>
<line x1="1494.30" x2="1494.30" y1="1652.1" y2="1657.3" stroke="#333" stroke-width="2"/>
<text transform="translate(1499.30,1661.7) rotate(-90)" font-family="'DejaVu Sans', sans-serif" font-size="23.5" fill="#4D4D4D" text-anchor="end">may</text>
<line x1="1517.84" x2="1517.84" y1="1652.1" y2="1657.3" stroke="#333" stroke-width="2"/>
<text transform="translate(1522.84,1661.7) rotate(-90)" font-family="'DejaVu Sans', sans-serif" font-size="23.5" fill="#4D4D4D" text-anchor="end">jun</text>
<line x1="1540.62" x2="1540.62" y1="1652.1" y2="1657.3" stroke="#333" stroke-width="2"/>
<text transform="translate(1545.62,1661.7) rotate(-90)" font-family="'DejaVu Sans', sans-serif" font-size="23.5" fill="#4D4D4D" text-anchor="end">jul</text>
<line x1="1564.16" x2="1564.16" y1="1652.1" y2="1657.3" stroke="#333" stroke-width="2"/>
<text transform="translate(1569.16,1661.7) rotate(-90)" font-family="'DejaVu Sans', sans-serif" font-size="23.5" fill="#4D4D4D" text-anchor="end">aug</text>
<line x1="1587.70" x2="1587.70" y1="1652.1" y2="1657.3" stroke="#333" stroke-width="2"/>
<text transform="translate(1592.70,1661.7) rotate(-90)" font-family="'DejaVu Sans', sans-serif" font-size="23.5" fill="#4D4D4D" text-anchor="end">sep</text>
<line x1="1610.49" x2="1610.49" y1="1652.1" y2="1657.3" stroke="#333" stroke-width="2"/>
<text transform="translate(1615.49,1661.7) rotate(-90)" font-family="'DejaVu Sans', sans-serif" font-size="23.5" fill="#4D4D4D" text-anchor="end">oct</text>
<line x1="1634.03" x2="1634.03" y1="1652.1" y2="1657.3" stroke="#333" stroke-width="2"/>
<text transform="translate(1639.03,1661.7) rotate(-90)" font-family="'DejaVu Sans', sans-serif" font-size="23.5" fill="#4D4D4D" text-anchor="end">nov</text>
<line x1="1656.81" x2="1656.81" y1="1652.1" y2="1657.3" stroke="#333" stroke-width="2"/>
<text transform="translate(1661.81,1661.7) rotate(-90)" font-family="'DejaVu Sans', sans-serif" font-size="23.5" fill="#4D4D4D" text-anchor="end">dec</text>
<line x1="1680.35" x2="1680.35" y1="1652.1" y2="1657.3" stroke="#333" stroke-width="2"/>
<text transform="translate(1685.35,1661.7) rotate(-90)" font-family="'DejaVu Sans', sans-serif" font-size="23.5" fill="#4D4D4D" text-anchor="end">jan</text>
<line x1="1703.89" x2="1703.89" y1="1652.1" y2="1657.3" stroke="#333" stroke-width="2"/>
<text transform="translate(1708.89,1661.7) rotate(-90)" font-family="'DejaVu Sans', sans-serif" font-size="23.5" fill="#4D4D4D" text-anchor="end">feb</text>
<line x1="1725.15" x2="1725.15" y1="1652.1" y2="1657.3" stroke="#333" stroke-width="2"/>
<text transform="translate(1730.15,1661.7) rotate(-90)" font-family="'DejaVu Sans', sans-serif" font-size="23.5" fill="#4D4D4D" text-anchor="end">mar</text>
<line x1="1748.70" x2="1748.70" y1="1652.1" y2="1657.3" stroke="#333" stroke-width="2"/>
<text transform="translate(1753.70,1661.7) rotate(-90)" font-family="'DejaVu Sans', sans-serif" font-size="23.5" fill="#4D4D4D" text-anchor="end">apr</text>
<line x1="1771.48" x2="1771.48" y1="1652.1" y2="1657.3" stroke="#333" stroke-width="2"/>
<text transform="translate(1776.48,1661.7) rotate(-90)" font-family="'DejaVu Sans', sans-serif" font-size="23.5" fill="#4D4D4D" text-anchor="end">may</text>
<line x1="1795.02" x2="1795.02" y1="1652.1" y2="1657.3" stroke="#333" stroke-width="2"/>
<text transform="translate(1800.02,1661.7) rotate(-90)" font-family="'DejaVu Sans', sans-serif" font-size="23.5" fill="#4D4D4D" text-anchor="end">jun</text>
<line x1="1817.80" x2="1817.80" y1="1652.1" y2="1657.3" stroke="#333" stroke-width="2"/>
<text transform="translate(1822.80,1661.7) rotate(-90)" font-family="'DejaVu Sans', sans-serif" font-size="23.5" fill="#4D4D4D" text-anchor="end">jul</text>
<line x1="1841.34" x2="1841.34" y1="1652.1" y2="1657.3" stroke="#333" stroke-width="2"/>
<text transform="translate(1846.34,1661.7) rotate(-90)" font-family="'DejaVu Sans', sans-serif" font-size="23.5" fill="#4D4D4D" text-anchor="end">aug</text>
<line x1="1864.88" x2="1864.88" y1="1652.1" y2="1657.3" stroke="#333" stroke-width="2"/>
<text transform="translate(1869.88,1661.7) rotate(-90)" font-family="'DejaVu Sans', sans-serif" font-size="23.5" fill="#4D4D4D" text-anchor="end">sep</text>
<line x1="1887.67" x2="1887.67" y1="1652.1" y2="1657.3" stroke="#333" stroke-width="2"/>
<text transform="translate(1892.67,1661.7) rotate(-90)" font-family="'DejaVu Sans', sans-serif" font-size="23.5" fill="#4D4D4D" text-anchor="end">oct</text>
<line x1="1911.21" x2="1911.21" y1="1652.1" y2="1657.3" stroke="#333" stroke-width="2"/>
<text transform="translate(1916.21,1661.7) rotate(-90)" font-family="'DejaVu Sans', sans-serif" font-size="23.5" fill="#4D4D4D" text-anchor="end">nov</text>
<line x1="1933.99" x2="1933.99" y1="1652.1" y2="1657.3" stroke="#333" stroke-width="2"/>
<text transform="translate(1938.99,1661.7) rotate(-90)" font-family="'DejaVu Sans', sans-serif" font-size="23.5" fill="#4D4D4D" text-anchor="end">dec</text>
<line x1="1957.53" x2="1957.53" y1="1652.1" y2="1657.3" stroke="#333" stroke-width="2"/>
<text transform="translate(1962.53,1661.7) rotate(-90)" font-family="'DejaVu Sans', sans-serif" font-size="23.5" fill="#4D4D4D" text-anchor="end">jan</text>
<line x1="1981.07" x2="1981.07" y1="1652.1" y2="1657.3" stroke="#333" stroke-width="2"/>
<text transform="translate(1986.07,1661.7) rotate(-90)" font-family="'DejaVu Sans', sans-serif" font-size="23.5" fill="#4D4D4D" text-anchor="end">feb</text>
<line x1="2003.10" x2="2003.10" y1="1652.1" y2="1657.3" stroke="#333" stroke-width="2"/>
<text transform="translate(2008.10,1661.7) rotate(-90)" font-family="'DejaVu Sans', sans-serif" font-size="23.5" fill="#4D4D4D" text-anchor="end">mar</text>
<line x1="2026.64" x2="2026.64" y1="1652.1" y2="1657.3" stroke="#333" stroke-width="2"/>
<text transform="translate(2031.64,1661.7) rotate(-90)" font-family="'DejaVu Sans', sans-serif" font-size="23.5" fill="#4D4D4D" text-anchor="end">apr</text>
<text x="999.8" y="1753.8" font-family="'DejaVu Sans', sans-serif" font-size="36.5" text-anchor="middle">2020</text>
<text x="1245" y="1753.8" font-family="'DejaVu Sans', sans-serif" font-size="36.5" text-anchor="middle">2021</text>
<text x="1516.8" y="1753.8" font-family="'DejaVu Sans', sans-serif" font-size="36.5" text-anchor="middle">2022</text>
<text x="1800.8" y="1753.8" font-family="'DejaVu Sans', sans-serif" font-size="36.5" text-anchor="middle">2023</text>
<text x="2005.5" y="1753.8" font-family="'DejaVu Sans', sans-serif" font-size="36.5" text-anchor="middle">2024</text>
<line x1="1115.3" x2="1115.3" y1="1715" y2="1753.8" stroke="#000" stroke-width="2.8"/>
<line x1="1390.7" x2="1390.7" y1="1715" y2="1753.8" stroke="#000" stroke-width="2.8"/>
<line x1="1666.2" x2="1666.2" y1="1715" y2="1753.8" stroke="#000" stroke-width="2.8"/>
<line x1="1946.8" x2="1946.8" y1="1715" y2="1753.8" stroke="#000" stroke-width="2.8"/>
<text transform="translate(937,1400) rotate(-90)" font-family="'DejaVu Sans', sans-serif" font-size="32.3" text-anchor="middle">Positivity (%)</text>
<line x1="1047.8" x2="1073.6" y1="1189.3" y2="1189.3" stroke="#5BBBD5" stroke-width="3.2"/>
<line x1="1047.8" x2="1073.6" y1="1219" y2="1219" stroke="#C80000" stroke-width="3.2"/>
<text x="1078.5" y="1197.3" font-family="'DejaVu Sans', sans-serif" font-size="27.3">Influenza A</text>
<text x="1078.5" y="1227.5" font-family="'DejaVu Sans', sans-serif" font-size="27.3">SARS-CoV-2</text>
<text x="1504.3" y="1075.5" font-family="'DejaVu Sans', sans-serif" font-weight="bold" font-size="38.5" text-anchor="middle">Monthly positivity of influenza A virus and</text>
<text x="1504.5" y="1122" font-family="'DejaVu Sans', sans-serif" font-weight="bold" font-size="38.5" text-anchor="middle">SARS-CoV-2 (2020-2024)</text>
<text transform="translate(851.5,1074.8) scale(1,1.05)" font-family="'Liberation Sans', Arial, sans-serif" font-size="61">C</text>
</svg></body></html>
